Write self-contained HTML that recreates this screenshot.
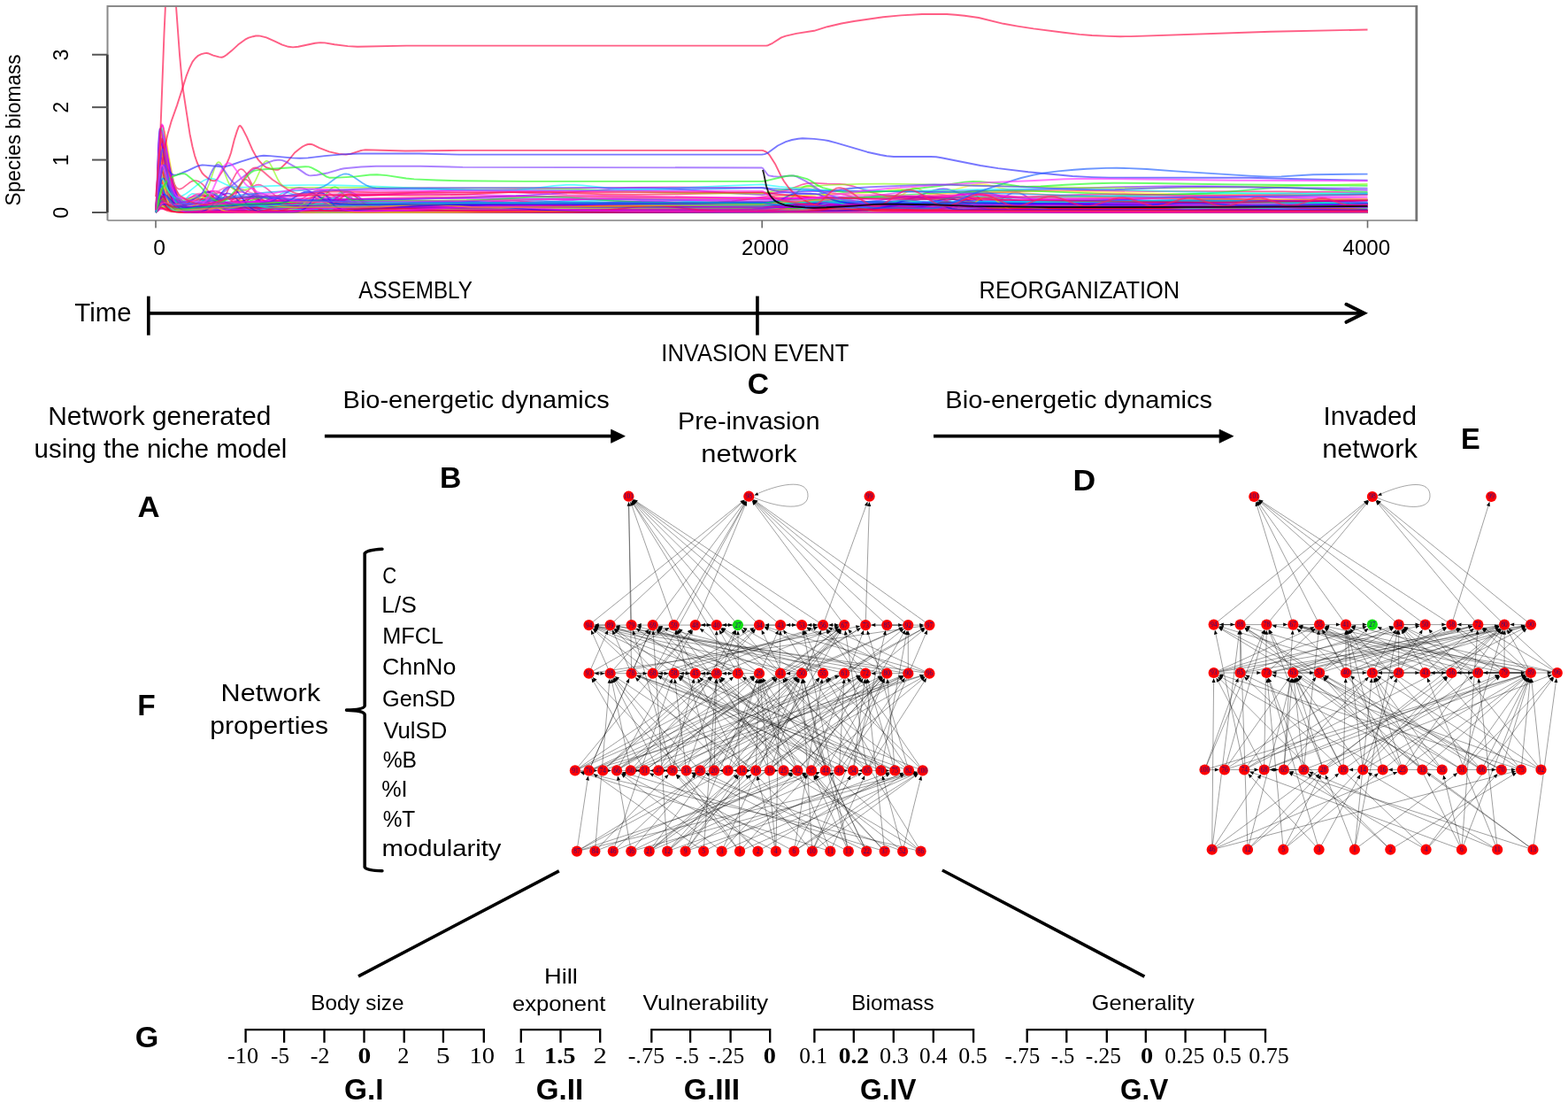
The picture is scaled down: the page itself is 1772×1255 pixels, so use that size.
<!DOCTYPE html><html><head><meta charset="utf-8"><title>Figure</title><style>html,body{margin:0;padding:0;background:#fff;overflow:hidden;}svg{display:block;}</style></head><body>
<svg width="1772" height="1255" viewBox="0 0 1772 1255">
<rect width="100%" height="100%" fill="#fff"/>
<defs><clipPath id="pc"><rect x="122.5" y="8" width="1477.5" height="240"/></clipPath></defs>
<g clip-path="url(#pc)" fill="none" stroke-width="1.7" stroke-opacity="0.6" stroke-linejoin="round">
<path stroke="#ff0055" d="M176.0 239.1L176.5 236.3L177.0 229.3L180.5 161.2L182.0 146.3L182.5 143.8L183.0 142.3L183.5 141.8L184.0 142.1L184.5 143.2L186.0 149.6L191.0 182.4L193.5 195.8L195.0 201.9L196.5 206.5L198.0 209.8L199.5 211.9L201.5 213.4L202.5 213.6L204.0 213.4L207.0 211.9L213.5 206.8L216.5 204.9L220.0 204.0L221.5 204.0L223.5 204.5L226.5 206.1L230.0 209.2L243.5 225.8L247.0 229.4L250.5 232.3L254.5 234.8L258.5 236.5L263.0 237.6L269.0 238.3L284.0 238.5L386.0 237.3L445.0 237.0L503.0 237.2L624.0 238.4L681.0 238.7L749.0 238.5L861.0 237.2L891.0 237.5L901.0 237.3L910.0 236.7L918.0 235.7L936.0 232.8L946.0 232.1L956.0 232.8L974.0 235.8L982.0 236.8L991.0 237.5L1002.0 237.8L1022.0 237.7L1040.0 237.1L1054.0 236.0L1078.0 233.5L1092.0 232.9L1106.0 233.4L1138.0 236.2L1160.0 236.9L1268.0 237.0L1452.0 238.0L1545.5 238.1"/>
<path stroke="#ff8900" d="M176.0 239.7L176.5 239.2L179.0 230.0L180.0 228.3L181.0 227.9L182.5 228.9L186.5 234.1L189.5 236.8L193.0 238.2L198.5 238.7L206.5 238.5L214.0 237.8L220.0 236.8L231.0 234.3L237.0 233.8L242.5 234.2L257.5 236.7L269.0 237.3L365.0 237.1L671.0 238.2L861.0 238.2L904.0 237.4L1016.0 236.3L1022.0 235.8L1026.0 235.0L1038.0 230.2L1042.0 229.6L1044.0 229.8L1052.0 231.5L1056.0 231.9L1070.0 231.6L1076.0 231.8L1104.0 234.9L1122.0 235.7L1248.0 235.8L1450.0 236.9L1545.5 237.1"/>
<path stroke="#ff0067" d="M176.0 239.7L176.5 239.4L177.0 238.3L180.5 226.2L182.0 223.5L183.5 222.6L184.5 222.8L186.0 224.0L191.5 230.9L194.0 233.5L196.0 235.2L198.5 236.8L201.5 238.0L205.0 238.8L209.5 239.3L216.0 239.5L383.0 239.4L445.0 239.0L488.0 237.9L557.0 234.8L585.0 234.3L612.0 234.6L674.0 236.9L710.0 237.7L752.0 238.0L867.0 238.1L875.0 237.9L882.0 237.2L888.0 236.2L902.0 232.9L906.0 232.4L910.0 232.2L916.0 232.6L934.0 234.9L955.0 237.0L967.0 237.8L980.0 238.1L1180.0 237.9L1545.5 238.9"/>
<path stroke="#ff003a" d="M176.0 239.7L177.0 239.0L179.5 233.8L181.0 231.4L182.0 230.4L183.5 229.8L184.5 229.8L186.0 230.4L193.5 235.6L198.5 237.9L201.5 238.7L205.0 239.2L214.0 239.5L220.5 239.1L226.0 238.1L230.5 236.5L239.5 232.3L243.5 231.1L248.0 231.0L255.5 232.5L258.5 232.7L262.0 231.7L268.0 228.9L270.0 228.6L272.0 229.0L274.0 230.1L281.0 236.0L284.0 237.9L288.0 239.1L295.0 239.5L627.0 239.0L657.0 238.4L706.0 236.4L727.0 236.0L749.0 236.4L790.0 238.5L809.0 239.2L835.0 239.6L867.0 239.7L881.0 239.4L893.0 238.7L905.0 237.5L931.0 234.2L939.0 233.7L946.0 233.5L960.0 234.2L986.0 237.4L997.0 238.4L1010.0 239.1L1024.0 239.4L1350.0 239.8L1545.5 239.8"/>
<path stroke="#ff00c6" d="M176.0 239.7L176.5 238.1L177.0 233.5L180.0 198.6L181.0 192.2L181.5 190.2L182.5 188.5L183.0 188.6L183.5 189.1L184.5 191.5L191.0 217.1L193.0 223.0L195.0 227.3L197.5 230.9L200.5 233.3L204.0 234.6L208.0 235.0L215.0 234.8L231.5 233.4L238.0 232.5L243.0 231.4L247.0 229.9L251.0 227.9L262.0 220.2L265.0 218.4L268.0 217.2L271.0 216.7L274.0 217.0L277.0 218.1L280.0 219.7L289.0 225.4L295.0 228.2L298.0 229.1L302.0 229.9L311.0 230.4L328.0 230.2L338.0 229.6L345.0 228.5L359.0 225.4L365.0 224.8L372.0 225.4L390.0 229.3L396.0 229.9L403.0 230.3L610.0 232.2L721.0 232.4L830.0 231.8L848.0 231.0L873.0 228.1L882.0 227.5L891.0 228.0L913.0 230.9L927.0 231.5L1000.0 231.5L1090.0 232.0L1106.0 231.5L1134.0 229.4L1146.0 229.0L1158.0 229.5L1192.0 232.7L1206.0 233.3L1222.0 233.5L1292.0 233.2L1452.0 231.4L1545.5 231.5"/>
<path stroke="#5a00ff" d="M176.0 239.7L176.5 236.1L177.0 226.9L179.5 170.4L180.5 157.6L181.0 154.0L181.5 152.0L182.0 151.4L182.5 152.0L183.0 153.7L184.0 159.3L190.0 206.8L192.0 217.8L194.0 225.6L196.5 231.9L198.0 234.3L199.5 236.1L201.5 237.6L203.5 238.6L206.0 239.2L209.0 239.5L290.0 239.8L315.0 239.6L319.0 238.8L322.0 237.3L325.0 234.9L333.0 226.8L335.0 225.5L337.0 225.0L339.0 225.4L341.0 226.5L350.0 235.5L352.0 237.0L355.0 238.6L358.0 239.5L361.0 239.7L374.0 239.6L378.0 238.8L381.0 237.0L384.0 234.1L391.0 225.0L393.0 223.4L395.0 222.8L397.0 223.4L399.0 225.1L406.0 233.8L409.0 236.5L411.0 237.7L413.0 238.4L418.0 239.0L428.0 238.7L467.0 236.7L488.0 236.2L508.0 236.6L556.0 238.7L584.0 239.2L841.0 239.3L853.0 239.0L863.0 238.4L873.0 237.2L894.0 234.2L906.0 233.4L918.0 234.1L940.0 237.3L950.0 238.4L961.0 239.0L974.0 239.3L1298.0 239.8L1545.5 239.4"/>
<path stroke="#ff0053" d="M176.0 239.7L176.5 237.5L177.0 231.5L180.5 173.4L182.0 160.7L182.5 158.6L183.0 157.3L183.5 156.9L184.0 157.2L184.5 158.2L185.5 161.6L193.0 204.2L195.0 212.7L197.5 220.7L200.5 226.9L202.0 229.0L204.0 231.0L206.0 232.4L208.0 233.2L210.5 233.9L214.0 234.3L221.5 234.2L248.5 233.1L253.5 232.4L257.0 231.2L259.0 229.9L261.0 228.1L264.0 224.2L267.0 218.7L272.0 208.6L274.0 205.4L276.0 203.3L277.0 202.8L278.0 202.7L280.0 203.7L282.0 206.0L291.0 222.9L293.0 225.8L295.0 228.1L297.0 229.6L300.0 231.0L303.0 231.7L308.0 232.0L450.0 230.9L570.0 230.7L688.0 231.1L866.0 232.6L925.0 232.0L1104.0 229.1L1214.0 228.3L1310.0 228.7L1545.5 230.9"/>
<path stroke="#00d1ff" d="M176.0 239.7L176.5 238.9L177.0 236.3L181.0 206.2L182.5 200.1L183.5 198.2L184.5 197.7L185.5 198.3L187.0 200.8L193.0 216.3L196.5 223.6L198.0 225.9L200.0 228.2L202.0 229.9L204.0 230.9L207.5 231.5L211.5 231.0L215.5 229.7L224.5 225.6L228.5 224.0L232.5 223.1L236.5 222.9L240.0 223.3L244.0 224.4L258.0 230.4L265.0 232.7L273.0 234.1L282.0 234.6L357.0 234.1L407.0 234.1L571.0 236.1L637.0 236.5L698.0 236.1L861.0 233.9L895.0 231.3L940.0 229.6L952.0 228.8L966.0 226.8L989.0 221.6L995.0 220.8L1000.0 220.5L1006.0 220.8L1012.0 221.7L1032.0 226.3L1040.0 227.8L1050.0 228.8L1062.0 229.3L1090.0 228.9L1172.0 226.4L1208.0 225.8L1256.0 226.0L1350.0 228.4L1394.0 228.9L1438.0 228.4L1545.5 225.7"/>
<path stroke="#ff00bd" d="M176.0 239.7L176.5 239.3L177.0 237.8L180.5 223.1L182.0 220.1L182.5 219.6L183.5 219.3L184.5 219.8L186.0 221.4L193.0 232.0L195.0 234.1L197.5 236.2L200.5 237.7L204.0 238.8L208.0 239.3L214.5 239.5L267.0 239.5L284.0 239.1L294.0 238.1L313.0 234.4L321.0 233.6L329.0 234.1L348.0 237.4L353.0 237.7L357.0 237.4L362.0 236.3L366.0 234.5L370.0 231.9L378.0 225.4L381.0 223.3L384.0 221.8L387.0 221.2L390.0 221.6L393.0 222.9L396.0 224.9L406.0 232.8L409.0 234.7L412.0 236.0L415.0 237.0L419.0 237.8L429.0 238.4L660.0 239.7L737.0 239.5L861.0 238.6L1190.0 239.7L1545.5 239.4"/>
<path stroke="#d700ff" d="M176.0 239.7L176.5 239.3L177.0 237.8L179.0 229.4L180.5 224.6L181.5 222.8L182.0 222.3L183.0 222.0L184.0 222.4L185.0 223.2L191.0 230.8L194.5 233.8L196.5 234.9L199.0 235.8L205.0 236.4L240.0 234.6L262.0 233.8L290.0 233.2L322.0 232.9L376.0 233.1L512.0 234.7L582.0 234.9L652.0 234.4L796.0 232.4L861.0 231.8L902.0 234.0L924.0 234.7L934.0 234.2L950.0 231.8L956.0 231.4L964.0 232.0L978.0 234.9L986.0 236.0L995.0 236.6L1010.0 236.9L1060.0 237.3L1208.0 237.5L1398.0 238.7L1464.0 238.7L1545.5 238.2"/>
<path stroke="#1100ff" d="M176.0 239.7L176.5 238.3L177.0 233.9L179.5 200.0L181.0 183.8L182.5 174.6L183.0 173.0L183.5 172.1L184.0 171.8L184.5 172.0L185.5 173.7L187.0 178.8L192.5 204.8L195.0 214.9L197.5 222.7L200.0 228.3L201.5 230.8L203.5 233.4L205.5 235.3L207.5 236.6L210.0 237.8L212.5 238.5L219.0 239.2L258.0 239.2L263.0 239.0L267.0 238.5L270.0 237.4L273.0 235.3L276.0 232.1L282.0 224.1L284.0 222.2L286.0 221.4L288.0 221.7L290.0 223.1L292.0 225.4L297.0 232.0L299.0 234.2L301.0 235.9L303.0 237.0L306.0 238.0L312.0 238.5L402.0 237.6L510.0 237.1L615.0 235.5L644.0 235.7L709.0 237.3L744.0 237.8L861.0 237.3L890.0 238.0L921.0 238.3L1024.0 238.0L1116.0 238.1L1152.0 237.7L1222.0 235.3L1254.0 234.9L1280.0 235.2L1342.0 237.0L1384.0 237.8L1480.0 238.8L1545.5 238.9"/>
<path stroke="#ff004e" d="M176.0 239.7L176.5 239.2L177.0 237.2L180.0 218.0L181.5 210.7L183.0 206.6L183.5 205.9L184.5 205.4L185.5 205.8L187.0 207.7L195.5 226.0L198.0 230.0L201.0 233.5L204.5 236.2L209.0 238.1L214.0 239.0L221.0 239.4L268.0 239.5L283.0 239.2L293.0 238.1L311.0 234.6L318.0 234.1L326.0 234.8L341.0 237.9L348.0 239.0L356.0 239.5L367.0 239.7L598.0 238.6L783.0 239.6L921.0 239.7L942.0 239.3L971.0 237.3L983.0 237.0L994.0 237.3L1024.0 239.2L1044.0 239.5L1124.0 239.4L1280.0 239.8L1442.0 239.4L1545.5 239.8"/>
<path stroke="#ff0077" d="M176.0 239.7L176.5 239.3L177.0 237.8L180.5 222.1L182.0 218.5L182.5 217.9L183.5 217.3L184.5 217.5L186.0 218.9L193.0 229.6L195.0 231.9L197.5 234.1L200.5 235.9L203.5 236.9L207.0 237.5L212.0 237.8L328.0 233.8L370.0 232.8L410.0 232.3L481.0 232.4L617.0 234.5L679.0 234.9L749.0 234.4L861.0 232.5L902.0 232.6L921.0 231.7L930.0 230.8L951.0 227.9L963.0 227.2L975.0 227.8L1004.0 231.4L1014.0 232.0L1024.0 232.2L1088.0 231.3L1098.0 230.6L1114.0 228.6L1120.0 228.3L1126.0 228.6L1144.0 230.6L1154.0 231.1L1324.0 233.3L1394.0 233.3L1545.5 231.3"/>
<path stroke="#2a00ff" d="M176.0 239.7L176.5 238.2L177.0 233.7L180.5 188.5L182.0 178.1L182.5 176.2L183.5 174.6L184.0 174.7L184.5 175.3L186.0 179.4L192.0 207.6L194.5 217.4L196.5 223.5L199.0 229.2L202.0 233.7L204.0 235.6L206.0 237.0L210.5 238.7L217.0 239.5L439.0 239.9L861.0 239.4L929.0 239.7L1112.0 239.5L1362.0 239.8L1545.5 239.7"/>
<path stroke="#00ffdb" d="M176.0 239.7L176.5 239.3L177.0 237.9L179.5 229.7L180.5 228.1L181.5 227.5L182.5 227.8L183.5 228.5L189.0 234.5L192.5 236.8L195.0 237.6L197.5 238.0L206.0 238.0L238.5 236.6L248.5 235.6L253.0 234.4L257.0 232.8L270.0 225.5L273.0 224.5L276.0 224.3L278.0 224.5L281.0 225.4L291.0 230.5L296.0 232.5L302.0 233.8L309.0 234.2L329.0 233.6L342.0 232.4L352.0 230.1L369.0 224.5L373.0 223.7L377.0 223.5L381.0 223.7L385.0 224.4L399.0 228.4L406.0 230.0L413.0 230.8L422.0 231.2L498.0 231.3L617.0 233.7L667.0 234.2L729.0 233.8L861.0 231.0L925.0 232.1L1016.0 232.8L1036.0 232.7L1050.0 232.0L1056.0 231.2L1062.0 230.0L1072.0 227.0L1088.0 220.7L1094.0 218.6L1100.0 217.3L1106.0 216.9L1112.0 217.5L1118.0 219.0L1124.0 221.3L1140.0 228.0L1150.0 231.1L1156.0 232.3L1162.0 233.2L1176.0 234.2L1236.0 235.0L1326.0 235.2L1398.0 234.9L1545.5 233.7"/>
<path stroke="#ffef00" d="M176.0 239.7L176.5 239.5L177.0 238.7L180.0 231.8L181.0 230.6L182.5 230.1L184.5 230.9L191.0 236.2L195.0 238.2L200.5 239.4L210.5 239.7L451.0 239.7L861.0 239.0L913.0 239.7L993.0 239.8L1006.0 239.5L1016.0 238.8L1024.0 237.7L1044.0 234.2L1054.0 233.5L1064.0 234.2L1082.0 237.2L1092.0 238.5L1100.0 239.1L1112.0 239.4L1310.0 239.8L1545.5 239.5"/>
<path stroke="#e200ff" d="M176.0 239.7L176.5 239.3L177.0 237.9L180.0 223.7L181.5 218.1L183.0 214.7L184.0 213.6L185.0 213.3L186.0 213.7L187.5 215.1L195.5 227.3L198.0 230.2L200.5 232.5L203.5 234.4L207.0 235.8L211.0 236.6L216.0 236.9L222.0 236.8L228.0 236.2L248.5 232.3L256.5 231.6L263.0 232.0L279.0 234.9L287.0 235.6L294.0 235.1L306.0 232.5L311.0 232.3L315.0 232.8L325.0 235.4L330.0 236.3L336.0 236.8L346.0 237.0L483.0 237.7L594.0 237.8L709.0 237.5L861.0 236.7L911.0 237.4L918.0 236.9L921.0 236.3L924.0 235.1L928.0 232.8L937.0 225.7L940.0 224.3L942.0 224.0L944.0 224.3L947.0 225.8L956.0 233.0L961.0 235.9L966.0 237.3L974.0 237.9L1066.0 238.4L1088.0 238.2L1102.0 236.9L1126.0 232.3L1132.0 231.6L1136.0 231.5L1140.0 231.6L1146.0 232.3L1166.0 236.5L1174.0 237.7L1184.0 238.7L1196.0 239.1L1350.0 239.6L1545.5 239.4"/>
<path stroke="#ff002c" d="M176.0 239.7L176.5 239.3L177.0 238.2L179.5 229.1L181.0 225.0L182.5 222.9L184.0 222.3L186.0 223.2L192.5 229.8L196.0 232.3L198.5 233.4L201.0 234.1L207.0 234.6L250.0 232.6L298.0 231.4L392.0 230.4L488.0 230.0L566.0 230.2L653.0 230.9L861.0 233.1L893.0 234.0L932.0 234.5L975.0 234.7L1018.0 234.4L1042.0 233.8L1058.0 232.5L1072.0 230.4L1098.0 224.7L1104.0 223.9L1110.0 223.6L1116.0 223.9L1122.0 224.9L1142.0 229.8L1150.0 231.3L1160.0 232.4L1170.0 232.8L1210.0 233.0L1236.0 232.8L1252.0 232.2L1282.0 230.4L1294.0 230.2L1310.0 230.8L1348.0 233.7L1376.0 234.6L1450.0 234.9L1545.5 233.9"/>
<path stroke="#ff0046" d="M176.0 239.7L177.0 239.0L180.0 232.8L181.5 230.5L183.0 229.2L184.5 228.9L186.0 229.3L187.5 230.1L195.5 235.7L200.0 237.7L206.5 238.9L217.0 239.4L231.0 239.3L241.0 238.8L248.5 237.9L263.0 235.6L271.0 235.0L279.0 235.6L299.0 238.3L307.0 238.8L317.0 239.0L500.0 239.0L861.0 239.7L993.0 239.3L1120.0 239.7L1128.0 239.3L1132.0 238.5L1136.0 236.9L1146.0 231.1L1148.0 230.5L1150.0 230.3L1152.0 230.6L1154.0 231.3L1162.0 236.0L1166.0 238.0L1170.0 239.2L1176.0 239.7L1378.0 239.3L1545.5 239.7"/>
<path stroke="#ff4200" d="M176.0 239.7L177.0 239.0L180.5 233.4L182.5 232.1L185.0 232.2L190.5 234.5L193.5 235.2L196.5 235.4L200.0 234.9L203.5 233.9L207.5 232.0L219.0 225.0L223.0 222.9L227.0 221.4L231.0 220.9L234.5 221.2L238.5 222.4L252.5 229.5L259.5 232.1L267.0 233.6L277.0 234.1L404.0 232.0L716.0 228.8L889.0 227.9L1002.0 228.4L1014.0 228.0L1024.0 227.3L1034.0 226.1L1058.0 222.5L1066.0 221.7L1074.0 221.5L1086.0 221.9L1114.0 223.8L1160.0 228.0L1174.0 228.7L1188.0 228.9L1254.0 228.7L1458.0 226.5L1545.5 226.1"/>
<path stroke="#7900ff" d="M176.0 239.7L176.5 239.0L177.0 236.7L179.0 224.7L180.0 220.4L181.0 217.9L182.0 217.1L183.0 217.5L184.0 218.7L189.5 229.3L191.0 231.5L193.0 233.8L195.0 235.3L197.5 236.5L200.5 237.2L204.5 237.4L246.0 235.5L253.5 234.9L259.0 234.0L264.0 232.6L269.0 230.5L274.0 227.7L282.0 222.5L286.0 220.4L290.0 219.0L293.0 218.6L296.0 218.8L300.0 220.0L304.0 222.0L316.0 229.0L320.0 230.7L325.0 232.2L331.0 233.2L339.0 233.7L351.0 233.7L359.0 233.1L365.0 232.0L370.0 230.0L375.0 227.0L386.0 218.8L390.0 216.9L393.0 216.3L396.0 216.7L400.0 218.5L412.0 227.4L416.0 229.8L419.0 231.1L423.0 232.4L427.0 233.1L439.0 233.7L682.0 235.5L788.0 235.9L861.0 235.9L904.0 235.0L953.0 234.6L1100.0 234.9L1110.0 234.2L1114.0 233.5L1118.0 232.4L1122.0 230.8L1126.0 228.6L1140.0 219.7L1144.0 218.0L1148.0 217.5L1152.0 218.0L1156.0 219.6L1160.0 222.0L1170.0 228.7L1176.0 231.7L1180.0 233.1L1184.0 234.1L1194.0 235.1L1210.0 235.4L1272.0 235.2L1464.0 233.8L1545.5 233.5"/>
<path stroke="#ff00f6" d="M176.0 239.7L176.5 238.3L177.0 234.2L180.5 193.5L182.0 184.0L182.5 182.2L183.5 180.6L184.0 180.6L184.5 181.1L186.0 184.5L193.0 212.4L195.5 220.0L198.0 225.6L201.0 229.9L202.5 231.4L204.5 232.8L208.5 234.4L214.0 235.0L252.5 233.7L281.0 233.2L419.0 232.9L475.0 232.1L519.0 230.3L593.0 225.5L609.0 224.9L625.0 224.6L654.0 225.1L712.0 227.5L744.0 228.5L861.0 229.6L881.0 230.0L904.0 229.5L937.0 227.1L950.0 226.6L964.0 227.1L999.0 230.1L1022.0 230.8L1048.0 230.7L1142.0 229.2L1192.0 228.9L1252.0 229.2L1366.0 231.0L1418.0 231.5L1476.0 231.4L1545.5 230.4"/>
<path stroke="#4900ff" d="M176.0 239.7L176.5 236.8L177.0 229.4L179.5 184.9L180.5 175.5L181.0 172.9L181.5 171.6L182.0 171.4L183.0 173.8L184.0 178.6L189.5 213.1L191.5 221.9L193.5 228.1L196.0 232.9L197.5 234.8L199.0 236.1L202.5 237.7L208.0 238.4L277.0 237.0L341.0 236.4L651.0 237.1L747.0 236.8L861.0 236.0L928.0 232.1L1000.0 228.9L1016.0 227.7L1042.0 225.0L1056.0 224.3L1070.0 224.7L1102.0 227.6L1122.0 228.6L1152.0 229.2L1216.0 229.7L1298.0 229.4L1466.0 226.5L1545.5 226.0"/>
<path stroke="#ff0057" d="M176.0 239.7L176.5 239.1L177.0 236.9L179.5 220.2L181.0 212.2L182.0 208.8L183.5 206.3L184.0 206.1L185.0 206.5L186.5 208.3L193.0 222.1L196.0 227.2L199.0 230.7L202.5 233.2L207.0 234.7L213.0 235.1L225.0 234.4L237.5 233.0L241.5 232.1L245.0 230.7L248.0 228.7L251.0 225.7L253.5 222.3L256.0 218.1L264.0 201.1L267.0 195.6L270.0 192.1L272.0 191.1L273.0 191.1L275.0 192.0L278.0 195.5L281.0 200.8L289.0 216.5L292.0 221.0L294.0 223.2L297.0 225.7L300.0 227.1L304.0 228.1L308.0 228.3L373.0 225.7L424.0 224.1L483.0 222.9L546.0 222.1L613.0 221.9L684.0 222.2L761.0 223.0L861.0 224.4L986.0 223.0L1022.0 222.3L1052.0 221.4L1082.0 220.0L1152.0 216.1L1174.0 215.3L1194.0 215.0L1220.0 215.1L1304.0 216.2L1450.0 216.3L1545.5 217.5"/>
<path stroke="#ff1700" d="M176.0 239.7L176.5 238.7L177.0 235.4L180.0 202.6L181.5 189.4L183.0 181.3L184.0 178.7L185.0 177.9L185.5 178.1L186.5 179.4L188.0 183.3L194.0 206.0L197.0 215.9L199.5 222.3L202.5 227.9L206.0 232.2L208.0 233.9L210.5 235.3L215.5 236.9L222.5 237.6L277.0 237.1L284.0 236.8L289.0 236.3L293.0 235.5L297.0 234.1L301.0 232.0L311.0 225.2L314.0 223.8L317.0 223.3L320.0 223.6L323.0 224.8L334.0 232.0L337.0 233.7L340.0 234.9L343.0 235.7L347.0 236.4L357.0 236.9L644.0 238.4L746.0 238.4L861.0 237.8L918.0 238.3L975.0 238.3L988.0 238.2L996.0 237.7L1002.0 236.9L1012.0 235.0L1018.0 234.3L1024.0 234.6L1036.0 236.8L1042.0 237.5L1056.0 237.9L1116.0 237.1L1204.0 234.6L1238.0 234.1L1272.0 234.6L1350.0 237.5L1392.0 238.4L1448.0 238.7L1545.5 238.2"/>
<path stroke="#00c4ff" d="M176.0 239.7L176.5 238.0L179.0 213.2L180.0 208.0L180.5 206.8L181.0 206.4L181.5 206.6L182.5 208.7L188.0 227.8L189.5 231.3L191.0 233.9L193.0 236.2L195.5 237.8L198.5 238.6L203.0 238.9L280.0 237.8L291.0 237.2L297.0 235.6L302.0 233.0L306.0 229.7L315.0 220.8L318.0 218.7L320.0 217.8L322.0 217.4L324.0 217.4L326.0 217.8L332.0 219.8L335.0 220.2L338.0 219.8L344.0 217.7L347.0 217.3L350.0 218.0L353.0 220.1L362.0 230.1L365.0 232.8L367.0 234.1L370.0 235.5L373.0 236.4L381.0 237.0L460.0 236.3L494.0 235.7L514.0 234.6L546.0 231.5L559.0 231.0L572.0 231.4L604.0 233.7L623.0 234.2L747.0 233.8L864.0 234.2L869.0 233.9L874.0 233.3L887.0 229.8L890.0 229.2L893.0 229.0L896.0 229.3L899.0 229.9L913.0 234.3L918.0 235.2L923.0 235.7L955.0 236.6L1030.0 238.1L1112.0 238.8L1268.0 238.4L1442.0 239.4L1545.5 239.1"/>
<path stroke="#10ff00" d="M176.0 239.7L177.0 239.3L181.0 234.9L182.5 234.1L184.0 233.7L186.5 234.0L193.0 236.1L197.0 237.1L201.5 237.7L206.5 237.9L258.5 236.3L301.0 235.5L445.0 235.1L482.0 234.0L541.0 230.0L565.0 229.2L577.0 229.4L590.0 230.0L634.0 233.3L652.0 234.3L670.0 235.0L690.0 235.4L741.0 235.4L861.0 234.3L902.0 236.3L955.0 237.6L1034.0 238.7L1128.0 239.4L1242.0 239.6L1446.0 239.0L1545.5 239.1"/>
<path stroke="#ff0073" d="M176.0 239.7L176.5 236.8L179.5 191.1L180.5 184.0L181.0 182.4L181.5 181.8L182.0 182.3L183.0 185.2L187.5 209.4L189.0 216.1L190.5 221.3L192.0 225.0L194.0 228.3L196.0 230.0L198.5 230.8L201.0 230.5L204.5 229.3L215.0 223.2L219.0 221.2L222.5 220.2L225.5 220.0L228.5 220.3L232.0 221.4L243.5 226.9L249.5 229.1L256.5 230.4L265.0 230.9L288.0 230.7L296.0 230.3L301.0 229.6L310.0 227.2L313.0 226.9L317.0 227.3L327.0 229.6L335.0 230.2L415.0 229.9L492.0 230.3L733.0 233.0L801.0 233.4L861.0 233.4L879.0 234.4L895.0 234.7L912.0 234.3L947.0 232.3L974.0 230.0L982.0 229.7L988.0 230.0L994.0 230.8L1012.0 234.8L1022.0 236.4L1032.0 237.3L1048.0 237.8L1144.0 238.4L1242.0 238.6L1545.5 237.5"/>
<path stroke="#ff0086" d="M176.0 239.7L177.0 239.1L179.0 236.6L181.0 235.7L182.5 235.8L188.5 237.1L193.5 237.1L217.0 235.2L221.0 234.7L224.5 233.8L228.0 232.4L231.5 230.2L234.5 227.6L241.0 221.2L243.5 219.2L246.0 217.9L248.0 217.6L250.5 218.1L253.0 219.4L262.0 227.5L267.0 231.0L270.0 232.2L273.0 232.9L281.0 233.5L425.0 232.5L484.0 231.7L507.0 230.5L546.0 226.0L554.0 225.4L562.0 225.2L576.0 225.8L612.0 229.5L636.0 230.4L767.0 230.4L861.0 230.8L889.0 232.9L911.0 234.0L919.0 233.6L930.0 231.3L935.0 230.9L940.0 231.6L952.0 234.9L959.0 235.8L973.0 236.3L1014.0 237.0L1186.0 238.8L1274.0 239.3L1352.0 239.3L1545.5 238.7"/>
<path stroke="#ff0020" d="M176.0 239.7L176.5 238.3L177.0 234.2L180.0 202.5L181.0 196.6L181.5 194.9L182.5 193.3L183.0 193.4L183.5 193.9L185.0 197.7L189.5 215.2L192.0 223.3L194.0 228.3L196.0 231.8L199.0 235.3L202.0 237.2L206.0 238.4L212.0 238.9L356.0 238.3L685.0 239.5L984.0 239.2L1002.0 238.9L1016.0 238.3L1028.0 237.2L1050.0 234.5L1062.0 233.8L1074.0 234.3L1106.0 237.8L1128.0 238.6L1312.0 238.5L1545.5 239.2"/>
<path stroke="#8a00ff" d="M176.0 239.7L176.5 238.2L177.0 233.9L180.0 191.7L181.5 174.9L183.0 164.7L184.0 161.4L184.5 160.6L185.0 160.4L186.0 161.3L187.5 165.4L196.0 203.9L198.5 212.5L201.5 220.1L203.0 222.9L205.0 225.8L208.5 229.2L210.5 230.4L213.0 231.3L219.0 232.3L227.0 232.2L269.0 229.7L323.0 227.2L359.0 225.9L391.0 225.3L419.0 225.2L448.0 225.5L549.0 228.7L585.0 229.1L615.0 228.3L669.0 224.7L693.0 223.8L713.0 223.8L763.0 224.7L824.0 224.8L872.0 225.5L899.0 225.6L930.0 225.0L1012.0 222.7L1080.0 222.4L1120.0 220.8L1136.0 221.4L1164.0 224.3L1176.0 225.2L1202.0 226.1L1224.0 226.1L1250.0 225.8L1346.0 222.9L1390.0 222.3L1434.0 222.8L1512.0 225.3L1545.5 226.0"/>
<path stroke="#ff0002" d="M176.0 239.7L176.5 237.7L177.0 231.9L179.5 190.6L180.5 178.1L181.5 169.9L182.0 167.3L183.0 165.0L183.5 165.0L184.0 165.7L185.5 170.9L192.5 209.9L195.0 220.0L197.5 227.1L200.5 232.6L202.0 234.5L204.0 236.2L206.0 237.4L208.5 238.4L211.5 239.0L215.0 239.4L230.0 239.5L237.0 238.9L239.5 238.1L242.0 237.0L250.5 231.2L254.5 229.3L257.5 228.7L273.0 226.9L276.0 227.1L280.0 228.3L283.0 229.7L293.0 235.3L300.0 238.0L307.0 239.2L317.0 239.6L683.0 238.7L795.0 238.8L916.0 239.4L1028.0 239.3L1038.0 239.0L1044.0 238.3L1050.0 237.0L1058.0 234.6L1064.0 233.6L1070.0 234.2L1080.0 237.1L1086.0 238.3L1092.0 238.9L1098.0 239.1L1545.5 239.7"/>
<path stroke="#00ff02" d="M176.0 239.7L176.5 239.0L177.0 236.8L180.0 214.6L181.5 206.2L183.0 201.3L183.5 200.5L184.5 199.7L185.5 200.1L187.0 202.2L195.0 221.6L197.5 226.3L200.5 230.5L204.0 233.6L207.5 235.4L212.0 236.6L218.0 237.1L284.0 235.6L343.0 234.7L425.0 234.0L510.0 233.7L640.0 234.1L861.0 235.7L1114.0 237.2L1220.0 237.0L1438.0 235.9L1545.5 235.9"/>
<path stroke="#ff00e6" d="M176.0 239.7L177.5 239.2L181.5 236.1L184.5 235.4L187.5 235.8L197.5 238.4L207.0 239.2L262.0 239.0L279.0 238.5L285.0 237.9L291.0 236.8L297.0 235.2L310.0 230.8L314.0 229.9L318.0 229.6L322.0 229.8L326.0 230.6L339.0 234.8L344.0 236.2L348.0 236.8L351.0 236.8L354.0 236.3L357.0 235.2L367.0 228.8L369.0 228.0L371.0 227.7L373.0 228.0L375.0 228.7L384.0 234.8L389.0 237.2L394.0 238.2L402.0 238.5L758.0 239.5L948.0 239.5L968.0 238.9L999.0 236.4L1026.0 235.7L1034.0 235.0L1052.0 232.6L1062.0 232.1L1068.0 232.3L1074.0 233.0L1100.0 237.1L1108.0 237.8L1118.0 238.2L1140.0 237.7L1180.0 234.9L1198.0 234.3L1216.0 234.9L1262.0 238.3L1292.0 239.2L1384.0 239.4L1545.5 238.7"/>
<path stroke="#ff00b8" d="M176.0 239.7L176.5 239.4L177.0 238.4L181.0 226.4L182.5 223.8L184.0 222.6L185.5 222.5L187.0 223.2L194.0 228.8L198.0 231.0L202.5 232.1L207.0 232.1L211.5 231.1L216.0 229.3L221.0 226.4L230.0 219.9L233.5 217.7L237.5 216.0L241.0 215.5L244.5 215.9L248.0 217.1L261.0 224.6L267.0 227.1L274.0 228.7L283.0 229.2L365.0 229.2L556.0 231.0L655.0 231.6L755.0 231.6L861.0 230.9L898.0 232.9L918.0 233.4L926.0 233.2L932.0 232.6L938.0 231.4L950.0 228.4L954.0 227.8L957.0 227.7L963.0 228.3L987.0 232.9L1004.0 235.4L1018.0 236.5L1040.0 237.2L1106.0 238.0L1188.0 238.4L1545.5 238.6"/>
<path stroke="#bc00ff" d="M176.0 239.7L176.5 238.2L179.5 211.9L180.5 208.1L181.0 207.4L181.5 207.3L182.0 207.7L183.0 209.8L188.5 227.1L190.0 230.4L191.5 232.8L193.5 235.0L196.0 236.5L199.0 237.3L202.5 237.6L261.0 235.1L326.0 233.8L580.0 232.8L861.0 229.9L912.0 230.0L919.0 229.7L925.0 228.9L930.0 227.6L942.0 223.6L945.0 223.0L948.0 222.8L953.0 223.4L967.0 227.8L975.0 229.3L986.0 229.7L1012.0 229.2L1050.0 228.3L1064.0 227.4L1070.0 226.5L1074.0 225.5L1092.0 219.3L1096.0 218.4L1100.0 218.0L1104.0 218.2L1108.0 218.9L1122.0 223.5L1130.0 225.5L1138.0 226.5L1148.0 226.9L1200.0 227.6L1296.0 229.6L1344.0 230.0L1390.0 229.6L1496.0 227.4L1545.5 227.0"/>
<path stroke="#ff0054" d="M176.0 239.7L177.0 239.1L180.0 235.2L182.0 234.4L184.0 234.7L191.0 237.0L198.0 237.6L239.0 236.7L329.0 235.9L342.0 235.5L348.0 234.8L353.0 233.8L359.0 232.0L372.0 226.9L376.0 226.0L379.0 225.8L382.0 226.1L386.0 226.9L400.0 232.3L407.0 234.3L416.0 235.5L428.0 235.8L736.0 237.8L841.0 237.7L919.0 237.0L1048.0 237.4L1062.0 237.1L1072.0 236.5L1082.0 235.2L1100.0 232.0L1110.0 231.2L1120.0 231.9L1144.0 235.7L1152.0 236.4L1162.0 236.7L1314.0 236.0L1484.0 237.2L1545.5 237.4"/>
<path stroke="#ff0012" d="M176.0 239.6L177.0 238.7L180.0 231.0L181.5 227.8L183.0 225.8L184.5 224.9L186.0 224.9L187.5 225.5L193.0 229.0L195.5 230.3L198.0 231.1L200.5 231.3L203.0 231.0L206.0 230.1L218.0 225.1L221.0 224.4L223.5 224.2L227.5 224.7L231.5 226.0L246.0 233.9L252.5 236.6L259.5 238.3L268.0 239.0L278.0 238.6L287.0 237.1L295.0 234.5L308.0 228.6L312.0 227.1L317.0 225.9L321.0 225.6L325.0 226.0L330.0 227.4L346.0 234.3L354.0 236.8L359.0 237.8L364.0 238.5L377.0 239.0L861.0 239.8L896.0 237.3L932.0 236.1L981.0 235.7L1068.0 235.9L1074.0 235.5L1078.0 234.6L1080.0 233.9L1082.0 232.8L1086.0 229.7L1094.0 221.9L1096.0 220.5L1098.0 219.7L1100.0 219.6L1102.0 220.2L1104.0 221.5L1114.0 231.1L1118.0 233.8L1120.0 234.7L1124.0 235.7L1130.0 236.3L1198.0 236.6L1286.0 236.6L1545.5 235.3"/>
<path stroke="#ff00a6" d="M176.0 239.7L176.5 238.9L177.0 236.3L179.0 222.8L180.0 217.9L181.0 215.2L182.0 214.3L183.0 214.9L184.0 216.4L189.0 228.0L191.5 232.4L194.0 235.4L197.0 237.4L200.0 238.1L203.5 237.5L206.5 235.8L213.5 230.3L215.5 229.5L217.0 229.4L218.5 229.7L220.5 230.8L227.0 236.1L230.0 238.0L234.0 239.2L239.5 239.6L772.0 238.4L950.0 238.5L1102.0 239.2L1112.0 239.0L1120.0 238.4L1140.0 235.2L1148.0 234.6L1156.0 235.3L1176.0 238.5L1184.0 239.0L1192.0 239.2L1362.0 238.6L1545.5 239.4"/>
<path stroke="#ff006a" d="M176.0 239.7L176.5 237.8L177.0 232.3L179.5 190.2L181.0 170.7L182.5 160.2L183.0 158.5L183.5 157.7L184.0 157.6L185.0 159.1L186.5 164.9L192.0 196.8L194.5 209.1L196.5 216.9L199.0 224.2L202.0 230.0L204.0 232.6L206.0 234.4L208.0 235.6L210.5 236.6L213.5 237.2L217.0 237.6L226.5 237.7L279.0 236.3L346.0 235.1L358.0 234.6L365.0 233.8L371.0 232.6L377.0 230.7L390.0 225.9L394.0 225.0L398.0 224.6L402.0 224.8L406.0 225.6L420.0 230.5L427.0 232.3L435.0 233.4L444.0 233.8L712.0 231.1L861.0 230.2L876.0 232.5L887.0 233.1L895.0 232.7L913.0 230.6L926.0 230.1L933.0 230.4L939.0 231.3L957.0 236.3L965.0 238.0L975.0 238.9L989.0 239.4L1060.0 239.7L1278.0 239.4L1545.5 239.8"/>
<path stroke="#8400ff" d="M176.0 239.7L176.5 239.4L177.0 238.3L179.0 232.0L180.0 229.8L181.0 228.6L182.0 228.1L183.0 228.4L184.0 229.1L189.0 234.4L192.0 236.7L195.5 238.3L199.5 239.1L209.0 239.5L252.5 239.3L264.0 239.0L271.0 238.4L276.0 237.3L280.0 235.4L284.0 232.3L292.0 224.3L295.0 222.6L297.0 222.3L299.0 222.6L301.0 223.4L308.0 227.3L312.0 229.0L335.0 236.3L341.0 237.6L347.0 238.4L362.0 239.1L779.0 239.8L1328.0 239.2L1378.0 238.7L1434.0 236.5L1454.0 236.1L1474.0 236.5L1518.0 238.5L1545.5 239.2"/>
<path stroke="#ff008f" d="M176.0 239.7L176.5 239.1L179.0 229.5L180.0 227.5L181.0 226.8L182.5 227.5L186.5 232.6L188.5 234.6L191.0 236.2L193.5 236.9L198.5 237.3L209.5 236.6L216.5 235.8L220.5 234.8L223.5 233.2L226.0 231.1L228.5 228.2L235.5 218.3L237.5 216.5L239.5 215.9L241.5 216.5L243.5 218.1L250.5 227.5L252.5 229.7L254.5 231.4L256.5 232.5L259.0 233.4L265.0 234.0L327.0 233.2L339.0 232.8L348.0 231.5L361.0 227.6L367.0 226.7L373.0 227.4L387.0 230.8L392.0 231.4L397.0 231.7L509.0 228.6L569.0 228.0L625.0 228.6L743.0 231.6L798.0 232.0L841.0 231.6L872.0 230.6L890.0 229.3L919.0 226.0L931.0 225.5L944.0 226.2L976.0 229.9L996.0 231.0L1068.0 231.8L1150.0 232.0L1244.0 231.3L1304.0 230.2L1318.0 229.6L1330.0 228.7L1368.0 224.5L1384.0 223.9L1398.0 224.4L1432.0 227.7L1452.0 228.9L1474.0 229.4L1545.5 230.0"/>
<path stroke="#ff0a00" d="M176.0 239.7L176.5 238.9L179.0 225.9L180.0 223.2L181.0 222.5L181.5 222.7L182.5 223.8L188.0 234.0L191.0 237.2L193.0 238.4L195.5 239.2L203.0 239.7L240.0 239.7L246.5 239.4L251.0 238.8L255.5 237.7L260.0 235.9L273.0 228.5L278.0 226.1L282.0 225.0L287.0 224.5L292.0 225.0L298.0 226.6L303.0 228.6L317.0 235.0L325.0 237.7L334.0 239.2L346.0 239.7L705.0 238.8L886.0 239.0L899.0 238.6L910.0 237.9L941.0 234.4L953.0 233.4L977.0 232.0L988.0 231.7L996.0 231.9L1004.0 232.6L1026.0 236.2L1036.0 237.6L1044.0 238.2L1054.0 238.5L1066.0 238.4L1080.0 237.9L1128.0 234.2L1148.0 233.5L1168.0 234.2L1216.0 238.2L1230.0 238.8L1248.0 239.3L1374.0 239.7L1545.5 239.2"/>
<path stroke="#ff008a" d="M176.0 239.7L176.5 238.1L177.0 233.6L180.0 190.2L181.5 174.1L183.0 165.2L183.5 163.8L184.0 162.9L184.5 162.7L185.5 163.7L187.0 168.1L195.0 206.0L197.5 214.8L200.0 221.4L201.5 224.4L203.5 227.5L205.0 229.2L207.0 230.9L209.0 232.1L211.5 233.1L217.0 233.9L225.0 233.8L266.0 231.5L316.0 230.1L326.0 229.4L332.0 228.2L337.0 226.5L342.0 224.1L351.0 218.4L355.0 216.2L359.0 214.9L362.0 214.6L365.0 214.9L369.0 216.4L383.0 224.7L387.0 226.6L390.0 227.6L394.0 228.6L398.0 229.2L411.0 229.8L611.0 232.0L688.0 232.5L782.0 232.6L869.0 232.0L888.0 231.3L901.0 229.7L912.0 227.0L933.0 220.2L939.0 219.0L944.0 218.7L949.0 218.9L954.0 219.8L960.0 221.5L978.0 227.3L985.0 228.9L991.0 229.6L999.0 229.8L1008.0 228.7L1016.0 226.9L1034.0 222.0L1040.0 221.1L1044.0 220.9L1050.0 221.4L1056.0 222.6L1076.0 228.7L1086.0 230.9L1098.0 232.4L1112.0 233.0L1158.0 233.4L1214.0 233.3L1368.0 231.5L1424.0 231.2L1480.0 231.3L1545.5 231.9"/>
<path stroke="#3400ff" d="M176.0 239.7L176.5 239.3L177.0 238.1L180.5 226.2L182.0 223.3L183.5 222.1L184.5 222.0L186.0 222.7L192.5 228.6L196.0 230.9L200.0 232.2L204.5 232.3L208.5 231.4L212.5 229.6L217.0 226.7L227.5 218.7L231.0 217.0L234.0 216.6L237.0 217.0L240.0 218.3L251.0 225.9L255.5 228.4L260.0 230.0L266.0 231.0L275.0 231.4L419.0 233.5L461.0 233.7L502.0 233.4L640.0 230.7L699.0 230.2L765.0 230.6L861.0 232.6L875.0 231.1L894.0 230.1L953.0 228.4L1002.0 227.5L1014.0 226.8L1022.0 225.9L1028.0 224.6L1036.0 222.2L1050.0 216.8L1056.0 214.8L1062.0 213.6L1066.0 213.4L1070.0 213.7L1076.0 215.1L1082.0 217.4L1098.0 224.2L1108.0 227.3L1114.0 228.4L1120.0 229.2L1134.0 230.0L1164.0 230.4L1200.0 230.1L1282.0 228.0L1344.0 226.8L1390.0 225.3L1406.0 225.1L1432.0 225.7L1474.0 228.5L1494.0 229.5L1518.0 229.8L1545.5 229.4"/>
<path stroke="#5600ff" d="M176.0 239.7L176.5 236.3L177.0 227.9L179.5 177.9L180.5 167.3L181.0 164.4L181.5 162.9L182.0 162.7L183.0 165.2L184.0 170.4L189.5 207.9L191.0 215.2L193.0 222.4L195.5 228.1L198.0 231.2L199.5 232.4L201.5 233.2L206.0 233.9L242.5 232.8L304.0 232.7L317.0 232.4L328.0 231.4L348.0 227.6L353.0 226.9L357.0 226.7L365.0 227.4L381.0 230.5L388.0 231.5L397.0 232.2L408.0 232.4L612.0 230.1L688.0 229.6L767.0 229.5L861.0 230.1L937.0 230.2L1030.0 229.6L1048.0 228.8L1060.0 227.1L1070.0 224.5L1092.0 216.8L1098.0 215.5L1104.0 215.1L1108.0 215.4L1114.0 216.5L1120.0 218.2L1134.0 223.0L1144.0 225.6L1154.0 227.0L1164.0 227.6L1186.0 227.6L1230.0 226.9L1260.0 226.0L1318.0 223.5L1348.0 223.1L1378.0 224.0L1436.0 227.5L1466.0 228.9L1502.0 229.8L1545.5 230.3"/>
<path stroke="#b800ff" d="M176.0 239.7L176.5 236.5L179.0 196.7L179.5 192.5L180.0 190.0L180.5 189.0L181.0 189.3L182.0 192.6L187.0 221.5L188.5 227.5L190.0 231.8L192.0 235.4L194.5 237.9L197.5 239.1L202.0 239.5L269.0 239.5L278.0 239.3L284.0 238.8L290.0 237.8L295.0 236.4L300.0 234.5L314.0 227.8L318.0 226.6L322.0 226.1L326.0 226.4L330.0 227.6L334.0 229.3L345.0 234.7L353.0 237.5L357.0 238.3L362.0 239.0L375.0 239.5L513.0 239.7L551.0 239.5L572.0 238.7L615.0 235.5L634.0 234.9L654.0 235.5L700.0 239.1L714.0 239.6L732.0 239.8L1156.0 239.9L1545.5 239.5"/>
<path stroke="#b600ff" d="M176.0 239.7L176.5 238.5L177.0 235.0L179.5 215.5L180.5 211.7L181.0 210.9L181.5 210.6L182.0 210.7L183.0 212.2L188.5 227.3L190.0 230.5L192.0 233.6L194.0 235.6L196.5 237.1L199.5 237.9L204.0 238.3L265.0 236.7L328.0 235.7L414.0 235.1L518.0 234.9L658.0 235.2L861.0 236.3L891.0 237.4L931.0 238.2L1114.0 239.5L1222.0 239.5L1336.0 238.9L1374.0 238.3L1436.0 236.4L1462.0 236.0L1492.0 236.4L1545.5 238.4"/>
<path stroke="#fa00ff" d="M176.0 239.7L176.5 237.9L177.0 233.2L179.5 198.1L181.0 181.6L182.5 172.3L183.0 170.7L183.5 169.8L184.0 169.4L185.0 170.2L186.5 174.2L193.0 201.9L195.0 208.8L197.0 214.2L199.5 218.9L202.0 221.9L205.0 223.8L208.0 224.3L211.5 224.0L220.0 221.9L224.5 221.5L229.5 221.9L242.5 224.4L251.0 224.9L307.0 223.6L327.0 222.9L335.0 222.2L342.0 221.2L349.0 219.6L364.0 215.6L369.0 214.7L374.0 214.4L382.0 215.2L402.0 219.2L414.0 220.2L485.0 219.5L535.0 219.9L584.0 221.1L695.0 224.6L753.0 225.7L788.0 225.8L824.0 225.4L920.0 222.8L976.0 221.8L993.0 220.7L1022.0 216.7L1034.0 216.0L1040.0 216.1L1048.0 216.9L1074.0 221.6L1088.0 223.4L1104.0 224.5L1126.0 225.1L1166.0 225.4L1206.0 225.1L1336.0 222.0L1390.0 221.3L1450.0 221.9L1545.5 224.4"/>
<path stroke="#3900ff" d="M176.0 239.7L176.5 239.4L177.0 238.2L180.0 229.0L181.0 227.4L182.5 226.5L183.5 226.7L184.5 227.4L190.5 233.7L194.0 236.2L198.5 237.8L205.0 238.3L210.5 238.0L215.0 237.1L218.5 235.8L226.5 231.9L229.0 231.2L231.0 231.0L234.5 231.6L242.5 234.4L246.5 234.9L251.5 234.3L263.0 231.1L266.0 230.7L269.0 230.8L274.0 231.7L284.0 234.6L289.0 235.7L296.0 236.4L305.0 236.7L535.0 236.1L773.0 233.8L861.0 233.3L891.0 231.6L925.0 230.6L957.0 230.2L1028.0 230.1L1040.0 229.8L1046.0 229.4L1052.0 228.5L1058.0 227.2L1070.0 223.9L1074.0 223.2L1078.0 223.0L1082.0 223.3L1086.0 224.0L1098.0 227.2L1104.0 228.4L1112.0 229.3L1120.0 229.5L1162.0 229.0L1290.0 226.6L1354.0 226.0L1430.0 226.4L1545.5 228.3"/>
<path stroke="#ff0068" d="M176.0 239.7L176.5 237.8L177.0 232.6L179.0 206.1L180.0 196.7L181.0 191.3L181.5 190.0L182.0 189.5L182.5 189.7L183.0 190.5L184.0 193.3L189.5 217.1L191.5 223.6L193.5 228.3L196.0 232.0L198.5 234.1L201.5 235.4L205.5 235.8L211.5 235.6L243.5 233.2L266.0 231.9L294.0 230.9L325.0 230.3L381.0 230.3L516.0 232.0L586.0 232.2L663.0 231.5L791.0 229.0L812.0 228.3L827.0 227.4L843.0 225.5L862.0 222.3L880.0 220.6L891.0 220.2L900.0 220.7L908.0 222.0L916.0 224.0L936.0 229.8L943.0 231.4L950.0 232.6L967.0 234.3L993.0 235.3L1064.0 236.8L1166.0 237.8L1388.0 239.3L1545.5 239.5"/>
<path stroke="#22ff00" d="M176.0 239.7L176.5 238.5L177.0 234.9L179.5 214.5L180.5 210.4L181.5 208.9L182.0 208.9L182.5 209.4L183.5 211.2L189.0 226.7L190.5 229.8L192.5 232.8L194.5 234.8L197.0 236.2L200.0 237.0L203.5 237.3L250.5 235.1L262.0 234.1L267.0 233.2L272.0 231.7L289.0 224.6L293.0 223.7L296.0 223.4L299.0 223.7L303.0 224.6L316.0 229.7L322.0 231.6L329.0 232.8L338.0 233.3L430.0 233.0L515.0 233.1L832.0 235.1L861.0 235.0L869.0 234.5L875.0 233.7L880.0 232.5L885.0 230.6L889.0 228.3L893.0 225.2L903.0 215.2L906.0 212.6L910.0 210.3L913.0 209.7L916.0 210.1L919.0 211.3L923.0 213.9L931.0 219.8L936.0 223.0L942.0 226.1L949.0 228.9L956.0 231.1L964.0 232.7L972.0 233.7L982.0 234.2L1024.0 235.0L1066.0 235.2L1102.0 235.0L1210.0 233.2L1322.0 233.9L1348.0 233.1L1398.0 229.5L1420.0 228.8L1440.0 229.2L1496.0 232.1L1545.5 233.0"/>
<path stroke="#ff007e" d="M176.0 239.7L176.5 235.3L177.0 224.4L179.5 161.8L180.5 149.6L181.0 146.7L181.5 145.5L182.0 146.0L183.0 150.5L188.5 200.0L190.5 213.6L192.5 223.2L195.0 230.8L196.5 233.6L198.0 235.6L199.5 237.0L201.5 238.1L203.5 238.7L206.5 239.1L212.5 239.0L218.0 237.9L223.0 235.7L232.5 230.1L235.0 229.2L237.5 228.9L240.0 229.2L242.5 230.1L252.0 235.5L256.5 237.5L262.0 238.7L268.0 239.1L308.0 239.0L321.0 238.3L326.0 237.5L331.0 236.1L347.0 230.2L350.0 229.5L353.0 229.2L357.0 229.5L361.0 230.5L374.0 235.6L380.0 237.4L386.0 238.4L394.0 239.0L492.0 239.5L614.0 239.7L723.0 239.6L861.0 238.9L985.0 238.8L993.0 238.2L999.0 237.2L1004.0 235.6L1018.0 229.8L1022.0 229.0L1024.0 228.9L1026.0 229.0L1030.0 229.9L1044.0 235.9L1050.0 237.8L1056.0 238.8L1066.0 239.4L1146.0 239.6L1288.0 239.0L1440.0 239.7L1545.5 239.4"/>
<path stroke="#00edff" d="M176.0 239.7L176.5 239.0L177.0 236.5L181.0 207.5L182.5 201.7L183.5 200.0L184.5 199.6L185.5 200.4L187.0 203.0L193.0 218.9L195.5 224.6L197.5 228.2L200.0 231.6L203.0 234.4L207.0 236.6L211.5 237.7L218.0 238.2L235.0 237.9L246.5 236.7L255.0 234.6L271.0 228.8L275.0 227.9L278.0 227.7L282.0 228.0L286.0 228.8L300.0 233.5L307.0 235.2L315.0 236.3L326.0 236.6L444.0 235.9L559.0 235.7L914.0 237.4L932.0 237.2L945.0 236.6L956.0 235.8L979.0 233.3L991.0 232.8L1002.0 233.2L1024.0 235.2L1036.0 236.0L1050.0 236.4L1070.0 236.5L1084.0 236.2L1094.0 235.7L1104.0 234.7L1126.0 232.1L1138.0 231.6L1150.0 232.3L1174.0 235.6L1184.0 236.7L1196.0 237.4L1212.0 237.7L1270.0 237.5L1330.0 236.5L1368.0 235.1L1430.0 231.9L1456.0 231.2L1472.0 231.3L1490.0 231.9L1545.5 235.2"/>
<path stroke="#ff0036" d="M176.0 239.7L176.5 237.4L179.0 205.5L180.0 199.0L180.5 197.5L181.0 197.1L181.5 197.6L182.5 200.4L186.0 217.1L188.0 225.2L189.5 229.7L191.0 233.0L193.0 235.9L195.5 237.9L198.5 239.0L203.5 239.4L508.0 238.9L861.0 239.6L959.0 239.2L1220.0 239.6L1274.0 239.1L1348.0 236.6L1378.0 236.1L1406.0 236.5L1482.0 238.5L1545.5 239.0"/>
<path stroke="#3e00ff" d="M176.0 239.7L176.5 233.9L179.0 162.5L180.0 148.7L180.5 145.9L181.0 145.4L181.5 146.7L182.5 153.4L187.5 203.8L190.0 219.5L192.0 226.8L193.0 229.3L194.5 231.9L196.0 233.5L197.5 234.4L201.0 235.3L205.0 235.2L211.0 234.5L232.5 230.5L241.0 229.6L247.0 229.8L263.0 231.5L273.0 232.0L327.0 231.9L336.0 231.5L341.0 230.5L345.0 228.9L349.0 226.4L355.0 221.6L358.0 219.6L361.0 218.3L363.0 218.1L365.0 218.4L368.0 219.8L378.0 227.5L381.0 229.3L384.0 230.6L387.0 231.4L391.0 232.0L403.0 232.4L507.0 232.9L604.0 232.8L702.0 232.1L861.0 230.4L911.0 228.9L967.0 228.3L979.0 227.9L993.0 226.6L1016.0 222.5L1022.0 221.9L1026.0 221.8L1030.0 221.9L1036.0 222.6L1054.0 226.4L1062.0 227.8L1074.0 228.7L1084.0 228.6L1106.0 226.7L1116.0 226.3L1128.0 226.8L1154.0 229.2L1170.0 229.7L1198.0 229.5L1300.0 227.5L1354.0 227.1L1408.0 227.5L1545.5 229.9"/>
<path stroke="#008aff" d="M176.0 239.7L176.5 238.1L177.0 233.2L180.0 187.2L181.5 169.9L183.0 160.3L183.5 158.7L184.0 157.8L184.5 157.5L185.5 158.5L187.0 163.2L195.0 204.4L197.5 214.2L200.5 222.7L202.0 225.9L204.0 229.1L206.0 231.5L208.0 233.3L210.5 234.7L213.0 235.6L216.0 236.2L219.5 236.6L228.5 236.6L271.0 235.1L314.0 234.0L474.0 231.4L504.0 229.9L553.0 226.1L573.0 225.4L593.0 225.8L644.0 228.6L680.0 229.1L844.0 228.1L908.0 228.4L1048.0 227.5L1230.0 228.2L1268.0 227.6L1332.0 225.5L1358.0 225.2L1386.0 225.8L1442.0 228.4L1470.0 229.4L1504.0 229.9L1545.5 229.8"/>
<path stroke="#00f0ff" d="M176.0 239.7L176.5 239.0L177.0 236.9L180.5 215.2L182.0 210.3L182.5 209.5L183.5 208.7L184.5 209.1L186.0 211.0L191.5 222.5L194.0 226.7L196.0 229.1L198.5 230.8L201.0 231.2L202.5 230.9L204.0 230.2L207.0 227.8L214.0 220.7L216.5 219.2L218.5 218.8L220.5 219.3L223.0 220.8L231.0 228.8L235.0 231.7L239.5 233.4L245.0 234.0L294.0 231.9L355.0 230.2L363.0 229.8L368.0 228.8L372.0 227.1L376.0 224.5L385.0 217.0L388.0 215.6L390.0 215.3L392.0 215.6L395.0 217.0L404.0 224.3L409.0 227.2L412.0 228.2L415.0 228.8L423.0 229.3L613.0 228.8L646.0 227.9L703.0 225.3L726.0 224.9L741.0 225.2L756.0 225.8L824.0 230.3L839.0 230.8L851.0 230.8L861.0 230.1L869.0 228.4L879.0 225.4L896.0 219.0L902.0 217.0L909.0 215.4L915.0 215.0L921.0 215.4L927.0 216.6L933.0 218.4L950.0 224.4L960.0 227.0L971.0 228.6L984.0 229.3L1002.0 229.3L1096.0 227.9L1152.0 227.7L1208.0 228.2L1330.0 230.2L1392.0 230.5L1452.0 230.1L1545.5 228.5"/>
<path stroke="#b000ff" d="M176.0 239.7L176.5 237.9L177.0 232.6L180.5 182.2L182.0 171.6L182.5 170.0L183.0 169.1L183.5 169.0L184.5 170.5L186.0 176.0L191.0 203.0L193.0 212.4L195.0 219.9L197.5 226.9L200.5 232.3L202.0 234.2L204.0 236.0L206.0 237.2L208.5 238.2L214.5 239.1L218.0 239.1L221.0 238.7L223.5 237.8L225.5 236.6L227.5 234.8L229.5 232.4L236.5 222.1L238.5 220.3L240.5 219.7L242.0 220.1L244.0 221.7L251.5 232.6L253.5 234.9L255.5 236.7L257.5 237.9L260.0 238.8L263.0 239.2L268.0 239.4L328.0 239.5L353.0 239.0L373.0 237.4L409.0 232.7L417.0 232.1L425.0 231.9L433.0 232.1L442.0 232.8L470.0 236.3L483.0 237.6L496.0 238.3L510.0 238.7L617.0 238.6L779.0 239.7L988.0 239.6L998.0 239.3L1006.0 238.8L1020.0 236.8L1028.0 234.6L1040.0 229.2L1044.0 228.5L1048.0 229.1L1060.0 234.4L1068.0 236.6L1082.0 238.5L1096.0 239.3L1236.0 239.1L1426.0 239.7L1545.5 239.4"/>
<path stroke="#00ffe1" d="M176.0 239.7L176.5 237.0L177.0 229.8L179.5 188.2L180.5 179.8L181.0 177.6L181.5 176.6L182.0 176.7L182.5 177.7L183.5 181.6L189.0 214.4L191.0 223.0L193.0 229.1L195.5 233.9L197.0 235.7L198.5 237.0L202.0 238.6L207.5 239.3L239.0 239.3L248.5 239.0L254.0 238.0L265.0 233.7L269.0 233.2L273.0 233.9L283.0 237.9L286.0 238.6L290.0 239.0L302.0 239.3L359.0 239.2L365.0 238.7L370.0 237.7L374.0 236.5L385.0 232.1L388.0 231.4L391.0 231.2L394.0 231.5L397.0 232.3L407.0 236.4L413.0 238.2L419.0 239.1L427.0 239.4L643.0 239.4L873.0 238.6L892.0 238.0L906.0 236.7L916.0 234.7L934.0 229.8L938.0 229.1L942.0 228.9L946.0 229.1L950.0 229.6L971.0 234.3L986.0 236.7L1002.0 238.2L1022.0 238.9L1166.0 239.4L1246.0 239.1L1290.0 238.1L1362.0 235.1L1392.0 234.6L1424.0 235.1L1498.0 237.8L1545.5 238.5"/>
<path stroke="#ff0081" d="M176.0 239.7L176.5 234.7L179.0 176.2L179.5 170.1L180.0 166.5L180.5 165.0L181.0 165.4L182.0 170.3L186.5 208.8L188.0 218.1L189.5 224.9L191.5 230.7L193.5 233.9L196.0 235.9L198.0 236.6L200.0 236.8L205.0 236.8L246.5 234.0L253.5 233.2L258.5 232.0L264.0 229.7L269.0 226.3L273.0 222.7L281.0 214.6L285.0 211.3L289.0 209.2L292.0 208.7L295.0 209.2L299.0 211.2L302.0 213.4L314.0 223.3L318.0 225.8L323.0 228.2L329.0 230.1L335.0 231.2L342.0 231.9L351.0 232.3L503.0 232.8L600.0 232.7L704.0 232.0L861.0 230.4L897.0 231.5L939.0 232.0L1152.0 231.5L1224.0 231.9L1416.0 233.6L1480.0 233.7L1545.5 233.5"/>
<path stroke="#f4ff00" d="M176.0 239.7L176.5 236.2L179.0 190.9L180.0 182.1L180.5 180.3L181.0 180.0L181.5 180.8L182.5 185.1L187.5 217.7L189.0 224.4L190.5 229.3L192.5 233.6L195.0 236.6L196.5 237.5L198.5 238.3L203.0 238.8L219.5 238.5L230.5 237.4L238.5 235.6L253.0 230.8L256.5 230.0L260.0 229.7L263.0 229.8L267.0 230.5L283.0 235.3L292.0 236.9L299.0 237.4L308.0 237.5L321.0 237.4L328.0 236.9L333.0 235.9L338.0 233.8L342.0 231.1L349.0 225.2L352.0 223.0L355.0 221.6L357.0 221.3L360.0 221.7L363.0 223.2L373.0 231.2L376.0 233.2L379.0 234.7L382.0 235.7L385.0 236.3L394.0 236.9L662.0 235.2L824.0 235.0L861.0 235.1L893.0 236.6L934.0 237.6L1084.0 239.2L1166.0 239.4L1324.0 238.7L1474.0 239.4L1545.5 239.4"/>
<path stroke="#00ffc4" d="M176.0 239.7L176.5 239.3L177.0 237.8L179.5 225.8L181.0 220.3L182.5 217.3L183.0 216.8L184.0 216.6L185.0 217.1L186.5 218.7L192.0 228.0L194.5 231.5L196.5 233.8L199.0 235.9L202.5 237.8L206.0 238.9L210.0 239.4L216.5 239.7L264.0 239.8L280.0 239.4L290.0 238.3L309.0 234.6L316.0 234.0L320.0 234.1L325.0 234.6L342.0 238.0L351.0 239.2L361.0 239.7L382.0 239.8L873.0 238.9L884.0 238.6L893.0 238.0L919.0 234.3L929.0 233.6L939.0 234.3L958.0 237.4L967.0 238.6L977.0 239.2L991.0 239.5L1134.0 239.7L1408.0 239.1L1545.5 239.3"/>
<path stroke="#9000ff" d="M176.0 239.7L176.5 238.9L177.0 236.3L179.0 222.6L180.0 217.7L181.0 214.9L182.0 213.9L183.0 214.4L184.0 215.9L190.0 229.5L192.0 232.8L194.0 235.2L196.5 237.1L199.5 238.4L203.0 239.0L208.5 239.3L249.0 239.1L261.0 238.3L265.0 237.6L269.0 236.3L274.0 234.1L284.0 228.7L288.0 227.3L291.0 227.0L294.0 227.3L297.0 228.3L309.0 234.5L315.0 236.7L322.0 238.0L331.0 238.4L602.0 237.2L830.0 237.0L850.0 236.4L884.0 234.0L894.0 233.6L901.0 233.8L908.0 234.3L932.0 237.4L943.0 238.5L955.0 239.1L971.0 239.5L1124.0 239.2L1282.0 239.8L1434.0 239.2L1545.5 239.7"/>
<path stroke="#0018ff" d="M176.0 239.7L177.0 239.2L177.5 238.5L180.0 234.2L181.5 232.2L183.0 231.1L184.5 230.7L186.0 230.8L187.5 231.4L194.0 235.2L197.5 237.0L203.5 238.7L212.5 239.6L229.5 239.6L240.0 238.8L250.5 236.8L260.0 233.9L271.0 228.9L273.0 228.3L275.0 228.2L277.0 228.5L279.0 229.2L288.0 234.8L294.0 237.3L298.0 238.3L303.0 239.1L314.0 239.7L474.0 239.1L669.0 239.9L755.0 239.7L861.0 239.1L901.0 239.6L960.0 239.4L976.0 238.6L988.0 237.0L1000.0 234.0L1020.0 227.3L1028.0 225.0L1038.0 223.2L1050.0 222.6L1064.0 223.1L1076.0 224.7L1086.0 227.2L1106.0 234.0L1116.0 236.8L1126.0 238.6L1138.0 239.5L1200.0 239.8L1422.0 239.5L1545.5 239.7"/>
<path stroke="#ffc400" d="M176.0 239.7L176.5 237.8L177.0 232.5L179.0 202.3L180.5 185.3L181.5 179.0L182.0 177.3L182.5 176.4L183.0 176.2L184.0 177.8L185.5 183.4L190.0 207.0L192.0 216.0L194.0 223.1L196.5 229.4L199.5 234.2L202.5 236.9L206.5 238.7L212.5 239.5L227.5 239.4L232.0 238.9L236.0 237.8L239.5 236.4L243.0 234.4L253.0 226.9L256.0 225.0L259.0 223.7L262.0 223.3L265.0 223.8L268.0 225.1L271.0 227.0L280.0 233.8L286.0 237.0L292.0 238.7L301.0 239.5L574.0 239.0L960.0 239.6L981.0 239.4L996.0 238.5L1008.0 237.2L1034.0 233.2L1046.0 232.2L1058.0 232.4L1080.0 234.9L1084.0 235.0L1088.0 234.8L1092.0 234.0L1096.0 232.4L1100.0 230.0L1106.0 225.8L1110.0 223.3L1114.0 221.9L1116.0 221.8L1118.0 222.1L1122.0 223.7L1126.0 226.5L1134.0 232.8L1140.0 236.2L1146.0 238.1L1154.0 239.0L1316.0 239.7L1480.0 239.2L1545.5 239.3"/>
<path stroke="#ff002d" d="M176.0 239.7L176.5 238.2L177.0 233.7L180.0 200.8L181.0 195.3L181.5 193.8L182.0 193.0L182.5 192.8L183.5 194.1L184.5 197.0L189.0 215.5L191.0 222.6L193.0 228.0L195.0 232.0L197.5 235.3L199.0 236.6L201.0 237.8L205.0 239.1L210.5 239.6L293.0 239.7L309.0 239.3L314.0 238.8L319.0 237.7L324.0 236.1L335.0 232.0L339.0 231.0L342.0 230.8L345.0 230.9L349.0 231.7L362.0 236.5L368.0 238.2L375.0 239.2L384.0 239.5L663.0 238.4L676.0 238.0L687.0 237.2L698.0 236.1L724.0 232.8L738.0 232.0L745.0 232.2L753.0 232.8L789.0 237.2L809.0 238.4L869.0 239.0L945.0 238.9L970.0 238.2L1002.0 236.0L1014.0 235.5L1028.0 235.6L1052.0 236.8L1060.0 236.6L1068.0 235.3L1074.0 233.6L1086.0 229.4L1090.0 228.5L1094.0 228.1L1098.0 228.4L1102.0 229.2L1118.0 235.2L1124.0 236.9L1132.0 238.2L1140.0 238.6L1170.0 238.1L1238.0 235.1L1264.0 234.8L1290.0 235.2L1352.0 238.0L1388.0 239.0L1430.0 239.2L1545.5 239.1"/>
<path stroke="#2f00ff" d="M176.0 239.7L176.5 237.3L177.0 230.6L180.0 180.0L181.0 170.9L181.5 168.3L182.0 166.8L182.5 166.2L183.0 166.6L183.5 167.6L184.5 171.5L190.5 207.9L192.5 217.3L194.5 224.2L197.0 230.1L199.5 233.6L201.0 234.9L202.5 235.7L206.0 236.5L211.0 236.1L221.0 233.7L231.5 231.8L235.5 230.7L238.5 229.5L241.0 228.0L252.0 219.9L254.5 218.8L257.0 218.4L260.0 219.0L263.0 220.8L266.0 223.4L274.0 231.4L277.0 233.9L280.0 235.8L283.0 237.1L287.0 238.2L291.0 238.8L297.0 239.0L799.0 239.8L1016.0 239.7L1284.0 239.1L1545.5 239.7"/>
<path stroke="#ff00f4" d="M176.0 239.7L176.5 237.9L177.0 232.5L179.5 190.1L181.0 169.3L182.5 157.0L183.0 154.8L184.0 152.7L184.5 152.7L185.0 153.3L186.5 158.0L194.5 202.8L197.0 213.4L200.0 222.5L201.5 225.9L203.5 229.3L205.5 231.8L207.5 233.6L210.0 235.1L212.5 236.0L219.0 237.0L227.0 237.1L279.0 236.0L403.0 234.6L547.0 232.4L625.0 231.7L722.0 232.0L861.0 233.8L910.0 233.1L1070.0 232.4L1238.0 230.4L1310.0 229.9L1404.0 230.1L1545.5 231.6"/>
<path stroke="#ff008e" d="M176.0 239.7L176.5 237.8L179.5 205.0L180.5 200.0L181.0 199.0L181.5 198.8L182.5 200.2L183.5 203.4L188.5 224.0L190.0 228.4L192.0 232.7L194.5 236.1L197.5 238.2L201.0 239.2L206.0 239.5L284.0 239.6L297.0 239.1L301.0 238.5L305.0 237.5L317.0 232.7L321.0 231.4L325.0 230.6L332.0 229.8L336.0 229.0L348.0 224.0L351.0 223.3L353.0 223.1L356.0 223.4L360.0 224.9L371.0 231.8L375.0 233.8L379.0 235.2L384.0 236.1L390.0 236.3L411.0 235.5L424.0 235.6L436.0 236.1L470.0 238.5L494.0 239.2L535.0 239.3L856.0 238.3L866.0 237.9L873.0 237.4L880.0 236.3L896.0 233.0L904.0 232.4L912.0 233.1L927.0 236.3L935.0 237.5L944.0 238.2L955.0 238.5L965.0 238.4L971.0 238.1L976.0 237.5L985.0 235.8L990.0 235.4L995.0 235.8L1004.0 237.5L1010.0 238.3L1024.0 238.7L1262.0 239.3L1545.5 238.5"/>
<path stroke="#ff003c" d="M176.0 239.7L176.5 238.5L179.0 219.6L180.0 215.3L181.0 213.7L181.5 213.7L182.5 215.0L188.0 229.6L189.5 232.5L191.5 235.4L194.0 237.6L196.5 238.7L199.5 239.3L204.5 239.6L277.0 239.6L291.0 239.2L296.0 238.5L300.0 237.6L314.0 232.6L320.0 231.3L323.0 231.1L326.0 231.4L338.0 234.0L341.0 234.2L344.0 233.9L349.0 232.2L359.0 227.1L362.0 226.2L364.0 226.0L367.0 226.3L371.0 227.8L382.0 234.8L388.0 237.7L391.0 238.6L395.0 239.4L404.0 239.8L641.0 239.8L919.0 239.0L946.0 238.4L981.0 235.8L994.0 235.3L1008.0 235.8L1046.0 238.8L1076.0 239.5L1228.0 239.7L1545.5 239.2"/>
<path stroke="#ff0017" d="M176.0 239.7L176.5 236.5L177.0 228.1L179.0 184.7L180.0 169.3L181.0 160.5L181.5 158.4L182.0 157.6L182.5 158.0L183.0 159.3L184.0 164.1L189.5 203.8L191.5 214.8L193.5 222.7L196.0 229.2L198.5 232.9L200.0 234.3L202.0 235.5L206.0 236.4L208.5 236.4L211.5 236.0L214.5 235.1L217.0 233.9L221.5 230.8L230.5 222.5L233.0 221.0L235.5 220.3L238.0 220.5L241.0 221.9L250.0 229.5L254.0 232.1L257.5 233.5L262.0 234.4L270.0 234.8L308.0 234.5L357.0 234.6L366.0 234.1L370.0 233.4L373.0 232.4L376.0 231.0L379.0 229.0L389.0 221.0L392.0 219.5L395.0 219.0L397.0 219.3L400.0 220.7L403.0 222.8L411.0 229.5L414.0 231.5L417.0 232.9L420.0 233.9L424.0 234.6L434.0 235.1L481.0 235.2L532.0 234.9L690.0 232.7L752.0 232.2L806.0 232.2L937.0 232.9L947.0 232.5L960.0 230.5L965.0 230.1L970.0 230.5L982.0 232.6L990.0 233.4L1032.0 234.1L1040.0 233.8L1046.0 233.1L1052.0 231.8L1064.0 228.5L1070.0 228.0L1076.0 228.9L1088.0 232.5L1094.0 233.8L1102.0 234.6L1114.0 235.0L1240.0 235.3L1452.0 233.9L1545.5 233.7"/>
<path stroke="#ff0088" d="M176.0 239.7L176.5 238.1L177.0 233.3L179.5 199.0L180.5 188.7L181.5 181.9L182.0 179.8L183.0 177.8L183.5 177.8L184.0 178.4L185.5 182.6L192.5 214.6L195.0 222.8L197.5 228.6L200.5 233.1L202.0 234.6L204.0 236.0L206.0 236.9L208.5 237.7L215.0 238.4L709.0 236.6L839.0 236.8L1246.0 238.3L1370.0 238.2L1545.5 237.5"/>
<path stroke="#fffd00" d="M176.0 239.7L176.5 237.6L178.5 212.1L179.5 202.5L180.5 197.6L181.0 196.7L181.5 196.7L182.0 197.4L183.0 200.3L187.5 220.5L189.0 225.8L190.5 229.9L192.5 233.7L194.5 236.0L197.0 237.5L199.5 237.9L203.0 237.5L207.0 235.9L211.5 232.9L221.5 224.7L224.5 223.2L227.5 222.7L230.5 223.2L233.5 224.7L244.5 233.6L247.5 235.6L250.5 237.1L254.0 238.3L257.5 239.0L268.0 239.5L452.0 239.8L660.0 239.0L861.0 239.8L1294.0 239.2L1545.5 239.7"/>
<path stroke="#8100ff" d="M176.0 239.7L176.5 234.5L179.0 170.3L180.0 157.8L180.5 155.2L181.0 154.7L181.5 155.9L182.5 161.9L187.5 207.3L189.0 216.6L190.5 223.4L192.5 229.4L193.5 231.3L195.0 233.3L196.5 234.6L198.0 235.3L201.5 236.0L206.0 235.9L238.0 233.9L277.0 232.7L282.0 232.3L285.0 231.7L288.0 230.4L291.0 228.2L297.0 222.7L299.0 221.5L301.0 221.1L302.0 221.2L304.0 222.1L311.0 228.3L315.0 230.7L319.0 231.8L325.0 232.2L388.0 232.1L413.0 231.7L435.0 230.9L475.0 228.4L492.0 228.0L511.0 228.6L555.0 231.9L582.0 233.2L620.0 233.9L711.0 234.5L861.0 234.8L901.0 233.8L941.0 233.4L1052.0 234.1L1096.0 234.1L1128.0 233.3L1174.0 230.3L1194.0 229.7L1258.0 231.6L1344.0 231.9L1478.0 233.6L1545.5 233.6"/>
<path stroke="#fff200" d="M176.0 239.7L176.5 237.7L177.0 232.0L181.0 164.9L182.5 151.4L183.5 147.2L184.0 146.3L184.5 146.1L185.0 146.6L186.0 149.1L187.5 155.7L193.0 188.8L195.5 201.6L197.5 209.7L200.0 217.4L203.0 223.7L205.0 226.5L207.0 228.4L209.0 229.8L211.5 230.8L217.0 231.8L223.5 231.7L247.5 230.3L268.0 229.5L322.0 228.4L681.0 224.5L773.0 223.9L861.0 223.8L929.0 219.9L990.0 217.2L997.0 216.5L1008.0 214.0L1012.0 213.5L1016.0 213.6L1028.0 215.6L1034.0 216.0L1054.0 215.8L1068.0 215.3L1074.0 214.7L1080.0 213.8L1100.0 208.8L1104.0 208.2L1108.0 207.9L1112.0 208.0L1116.0 208.6L1132.0 212.7L1140.0 214.3L1148.0 215.2L1158.0 215.7L1338.0 219.1L1398.0 219.9L1470.0 220.2L1545.5 219.5"/>
<path stroke="#be00ff" d="M176.0 239.7L176.5 238.2L177.0 233.6L180.0 190.0L181.5 173.7L183.0 164.6L183.5 163.1L184.0 162.2L184.5 161.9L185.5 162.9L187.0 167.2L195.0 205.4L197.5 214.4L200.0 221.1L203.0 226.6L204.5 228.6L206.5 230.5L208.5 231.9L211.0 232.9L216.5 233.9L225.5 233.7L279.0 229.5L317.0 227.5L367.0 225.7L424.0 224.5L494.0 224.0L577.0 224.2L852.0 227.0L874.0 226.8L895.0 224.8L902.0 224.5L911.0 225.2L934.0 229.6L948.0 231.0L965.0 231.3L993.0 229.5L1004.0 229.3L1014.0 230.1L1036.0 233.1L1050.0 234.4L1066.0 235.2L1096.0 235.9L1146.0 236.8L1196.0 237.2L1402.0 236.8L1545.5 237.7"/>
<path stroke="#0006ff" d="M176.0 239.7L176.5 239.1L177.0 236.8L180.0 215.0L181.5 207.0L183.0 202.6L183.5 201.9L184.5 201.4L185.5 202.0L187.0 204.4L194.5 223.2L197.0 228.1L200.0 232.4L203.5 235.7L207.0 237.7L211.5 239.0L217.5 239.5L223.0 239.5L227.5 239.0L231.5 237.7L235.0 235.9L238.0 233.5L241.5 229.9L250.5 217.9L253.5 214.4L257.0 211.7L258.5 211.1L260.0 210.9L263.0 211.8L266.0 214.1L269.0 217.6L278.0 229.6L281.0 232.8L284.0 235.3L287.0 237.1L291.0 238.6L295.0 239.4L301.0 239.7L331.0 239.5L336.0 239.1L340.0 238.1L344.0 236.0L347.0 233.4L350.0 230.0L356.0 222.1L358.0 219.9L361.0 217.9L363.0 217.7L365.0 218.3L367.0 219.7L370.0 222.9L376.0 230.4L379.0 233.3L381.0 234.8L383.0 235.9L386.0 236.9L392.0 237.6L407.0 236.9L471.0 232.6L490.0 231.9L508.0 231.7L538.0 232.5L611.0 237.0L655.0 238.6L710.0 239.3L863.0 239.6L949.0 238.2L969.0 237.7L986.0 236.2L1008.0 232.6L1016.0 231.7L1024.0 231.6L1042.0 232.9L1046.0 232.5L1054.0 230.8L1058.0 230.3L1060.0 230.4L1064.0 231.4L1072.0 234.6L1076.0 235.8L1082.0 236.7L1088.0 236.9L1380.0 237.7L1545.5 237.2"/>
<path stroke="#00ffb5" d="M176.0 239.7L176.5 239.1L177.0 237.1L179.5 225.3L180.5 222.9L181.5 222.0L182.5 222.2L183.5 223.3L188.5 231.4L190.0 233.3L192.0 235.2L194.0 236.5L196.5 237.4L199.5 237.9L203.0 238.1L217.5 237.5L225.5 236.6L231.0 235.0L240.5 230.8L244.5 230.1L248.5 230.6L258.0 234.0L263.0 234.8L268.0 234.2L278.0 230.7L282.0 230.1L286.0 230.6L297.0 233.9L301.0 234.4L306.0 234.6L505.0 230.0L611.0 228.5L664.0 228.3L719.0 228.5L861.0 230.6L905.0 229.0L914.0 228.0L929.0 225.5L936.0 225.1L943.0 225.5L958.0 228.0L966.0 229.0L975.0 229.5L988.0 229.7L996.0 229.7L1002.0 229.3L1008.0 228.4L1018.0 226.2L1022.0 225.9L1028.0 226.6L1036.0 228.5L1042.0 229.5L1048.0 230.0L1056.0 230.2L1120.0 229.8L1256.0 227.4L1320.0 226.8L1382.0 227.2L1496.0 229.2L1545.5 229.7"/>
<path stroke="#7e00ff" d="M176.0 239.7L176.5 238.4L177.0 234.5L180.0 195.8L181.5 180.5L183.0 171.3L184.0 168.4L184.5 167.8L185.0 167.6L185.5 168.0L186.5 169.7L188.0 174.4L194.0 200.8L196.5 210.3L199.0 217.9L201.5 223.6L205.0 228.9L207.0 230.9L209.0 232.4L211.5 233.7L214.0 234.4L220.5 235.2L228.0 235.3L275.0 233.9L284.0 233.3L288.0 232.6L291.0 231.7L295.0 229.9L304.0 224.8L307.0 223.7L310.0 223.3L312.0 223.5L315.0 224.5L325.0 230.1L329.0 231.8L333.0 232.9L338.0 233.5L350.0 233.9L467.0 235.0L551.0 234.9L612.0 234.0L646.0 232.4L702.0 228.0L724.0 227.2L745.0 227.7L790.0 230.4L814.0 231.3L842.0 231.8L901.0 232.3L977.0 232.0L1186.0 229.7L1352.0 229.5L1382.0 229.0L1442.0 227.0L1466.0 226.6L1498.0 227.2L1545.5 229.5"/>
<path stroke="#ff00be" d="M176.0 239.7L176.5 236.4L177.0 227.7L180.0 163.3L181.0 152.3L181.5 149.1L182.0 147.5L182.5 147.0L183.0 147.7L183.5 149.3L184.5 154.5L189.0 189.7L191.0 203.2L192.5 211.3L194.5 219.5L197.0 226.3L198.5 229.0L200.0 230.9L201.5 232.2L203.5 233.3L205.5 233.9L208.0 234.2L215.0 234.0L262.0 229.2L301.0 226.4L341.0 224.2L422.0 220.7L446.0 219.2L495.0 215.6L510.0 214.8L523.0 214.5L549.0 215.1L606.0 218.7L641.0 220.1L886.0 224.4L943.0 224.4L1066.0 222.8L1076.0 222.0L1080.0 221.2L1090.0 218.4L1096.0 217.8L1100.0 218.3L1110.0 221.0L1114.0 221.7L1124.0 222.4L1232.0 222.8L1444.0 225.7L1545.5 226.3"/>
<path stroke="#ff002d" d="M176.0 239.7L176.5 239.5L177.0 238.8L179.0 235.1L180.0 234.1L181.0 233.8L182.5 234.2L187.0 237.1L190.0 238.4L194.0 239.2L199.5 239.5L342.0 238.3L370.0 237.6L416.0 235.7L436.0 235.3L456.0 235.7L508.0 238.0L543.0 238.9L622.0 239.4L724.0 239.6L913.0 238.6L927.0 237.6L934.0 236.5L948.0 233.6L956.0 232.9L964.0 233.5L980.0 236.8L987.0 237.9L996.0 238.6L1008.0 238.9L1250.0 239.5L1545.5 238.8"/>
<path stroke="#fe00ff" d="M176.0 239.7L176.5 236.5L177.0 228.2L180.0 164.9L181.0 153.8L181.5 150.5L182.0 148.7L182.5 148.2L183.0 148.7L183.5 150.2L184.5 155.2L189.5 194.2L191.5 207.4L193.5 217.6L195.5 224.9L197.0 229.0L198.5 232.0L200.0 234.3L201.5 235.9L203.5 237.4L205.5 238.4L208.0 239.1L211.5 239.5L254.5 239.7L325.0 239.3L338.0 238.4L358.0 235.2L367.0 234.5L375.0 235.0L392.0 237.5L400.0 238.3L410.0 238.7L424.0 238.7L460.0 237.4L523.0 233.9L550.0 233.3L578.0 233.9L628.0 236.6L653.0 237.6L680.0 238.2L714.0 238.6L891.0 239.5L1020.0 239.8L1545.5 239.5"/>
<path stroke="#ffb800" d="M176.0 239.7L176.5 235.8L178.5 191.1L179.5 174.5L180.5 166.1L181.0 164.6L181.5 164.6L182.0 165.8L183.0 170.9L188.0 209.1L189.5 217.4L191.5 225.4L194.0 231.5L196.5 234.7L199.5 236.4L204.0 237.1L258.0 234.6L268.0 233.6L284.0 231.5L292.0 231.0L299.0 231.2L317.0 233.2L329.0 233.8L398.0 234.2L430.0 233.7L467.0 231.3L480.0 230.9L495.0 231.3L532.0 233.8L559.0 234.2L617.0 233.8L780.0 231.8L861.0 231.2L889.0 228.4L920.0 226.1L949.0 224.5L1012.0 221.8L1016.0 221.1L1020.0 219.7L1030.0 213.5L1032.0 212.6L1034.0 212.3L1036.0 212.5L1038.0 213.1L1044.0 216.4L1048.0 218.3L1052.0 219.2L1056.0 219.5L1098.0 217.2L1124.0 216.8L1148.0 217.6L1194.0 220.6L1216.0 221.8L1242.0 222.7L1276.0 223.5L1352.0 224.7L1418.0 225.3L1480.0 225.3L1545.5 224.8"/>
<path stroke="#00ffb3" d="M176.0 239.7L176.5 236.6L177.0 228.3L180.0 164.0L181.0 151.9L181.5 148.2L182.0 145.9L182.5 144.8L183.0 144.9L183.5 145.9L184.5 150.2L191.0 198.7L193.0 210.2L195.5 220.5L198.0 227.2L199.5 229.9L201.0 231.9L202.5 233.3L204.5 234.6L207.0 235.4L209.5 235.8L213.0 235.7L216.5 235.2L219.5 234.4L222.5 233.0L225.0 231.4L227.0 229.7L236.0 220.0L238.5 218.5L240.5 218.1L242.5 218.5L244.5 219.4L251.5 224.1L255.5 226.4L264.0 229.8L269.0 231.2L273.0 232.0L278.0 232.5L284.0 232.6L345.0 231.0L396.0 230.1L454.0 229.5L514.0 229.3L622.0 229.9L861.0 232.6L879.0 230.8L897.0 229.4L950.0 226.6L976.0 223.5L984.0 223.0L993.0 223.2L1016.0 225.0L1034.0 225.3L1066.0 224.6L1074.0 223.8L1088.0 221.8L1094.0 221.4L1102.0 221.7L1120.0 223.5L1132.0 223.8L1324.0 219.7L1388.0 218.6L1466.0 218.2L1545.5 218.8"/>
<path stroke="#8000ff" d="M176.0 239.7L177.0 239.1L180.0 233.7L181.5 231.6L183.0 230.3L184.5 229.8L186.0 229.8L187.5 230.3L194.0 233.3L197.5 234.5L201.5 235.2L206.0 235.5L212.0 235.1L218.5 234.2L236.5 229.8L243.5 228.8L250.0 228.8L264.0 230.4L273.0 230.9L288.0 230.3L299.0 229.1L305.0 227.7L310.0 225.9L316.0 222.8L326.0 216.3L330.0 214.0L334.0 212.5L338.0 211.9L342.0 212.4L346.0 213.7L360.0 221.5L367.0 224.5L371.0 225.5L375.0 226.2L386.0 226.8L537.0 222.9L583.0 221.3L623.0 219.0L691.0 213.5L707.0 212.6L722.0 212.2L739.0 212.4L757.0 213.1L825.0 218.2L861.0 220.2L874.0 218.6L887.0 217.4L901.0 216.6L917.0 216.1L949.0 215.8L1038.0 216.3L1086.0 216.0L1140.0 214.8L1258.0 211.3L1318.0 210.3L1362.0 210.3L1408.0 210.9L1545.5 214.9"/>
<path stroke="#0019ff" d="M176.0 239.7L176.5 239.4L177.0 238.4L180.0 227.9L181.5 223.7L183.0 221.0L184.0 220.0L185.0 219.7L186.5 219.9L188.0 220.9L195.5 228.4L198.0 230.4L200.5 231.9L203.5 233.1L206.5 233.8L210.5 234.2L215.0 234.3L256.0 232.0L306.0 230.7L315.0 230.1L320.0 229.1L325.0 227.4L330.0 224.7L340.0 218.5L344.0 216.9L347.0 216.5L350.0 216.8L353.0 217.9L356.0 219.4L366.0 225.7L370.0 227.6L373.0 228.7L377.0 229.6L381.0 230.2L393.0 230.6L513.0 231.1L610.0 231.0L705.0 230.4L869.0 228.6L874.0 228.2L879.0 227.1L883.0 225.5L892.0 220.7L896.0 219.4L900.0 218.8L916.0 218.7L921.0 219.0L926.0 220.0L942.0 225.9L949.0 227.8L957.0 228.9L967.0 229.4L1102.0 229.4L1278.0 231.6L1298.0 231.3L1332.0 229.4L1344.0 229.1L1356.0 229.5L1390.0 231.5L1414.0 232.0L1545.5 230.5"/>
<path stroke="#00ff29" d="M176.0 239.7L176.5 239.4L177.0 238.3L179.0 231.8L180.5 228.0L181.5 226.5L183.0 225.6L184.0 225.7L185.5 226.6L191.0 231.7L194.5 234.0L198.5 235.4L203.5 235.9L211.0 235.6L249.0 232.3L276.0 230.6L308.0 229.1L353.0 227.5L359.0 226.4L363.0 224.5L366.0 221.9L374.0 213.1L376.0 211.7L378.0 211.2L380.0 211.6L382.0 212.9L390.0 221.5L393.0 223.9L397.0 225.8L400.0 226.4L403.0 226.7L500.0 226.5L527.0 226.2L554.0 225.3L600.0 222.7L621.0 222.3L643.0 223.0L694.0 226.8L725.0 228.3L769.0 229.1L858.0 229.8L861.0 229.8L884.0 227.0L905.0 225.5L983.0 222.4L1076.0 217.0L1118.0 215.5L1140.0 215.3L1164.0 215.7L1262.0 219.5L1286.0 220.0L1310.0 220.0L1338.0 219.4L1364.0 218.3L1388.0 216.6L1430.0 212.8L1442.0 212.2L1452.0 212.0L1470.0 212.6L1510.0 215.1L1545.5 216.9"/>
<path stroke="#fa00ff" d="M176.0 239.7L176.5 236.5L177.0 228.1L179.0 181.3L180.5 154.9L181.5 145.0L182.0 142.2L182.5 140.7L183.0 140.3L183.5 140.9L184.0 142.4L185.0 147.3L191.5 195.1L193.5 206.0L195.5 214.2L197.0 218.7L198.5 222.2L200.0 224.7L201.5 226.6L203.0 227.9L205.0 229.0L207.5 229.8L210.0 230.1L215.0 230.1L233.0 228.9L248.0 228.3L298.0 227.7L304.0 226.7L313.0 223.2L317.0 222.7L321.0 223.5L329.0 226.7L333.0 227.5L340.0 227.9L362.0 228.0L477.0 227.4L730.0 224.0L851.0 223.1L882.0 223.3L994.0 225.1L1038.0 225.5L1048.0 225.1L1056.0 224.4L1076.0 221.0L1084.0 220.0L1092.0 219.4L1104.0 219.2L1114.0 219.3L1124.0 220.0L1148.0 223.4L1158.0 224.5L1168.0 225.1L1180.0 225.3L1412.0 222.3L1478.0 222.0L1545.5 222.3"/>
<path stroke="#ff007a" d="M176.0 239.7L176.5 238.8L179.0 227.6L180.0 225.2L181.0 224.3L182.5 224.9L186.0 228.7L188.0 230.3L190.5 231.4L193.0 231.6L196.5 231.2L209.0 228.4L218.0 226.8L228.0 225.4L239.5 224.3L270.0 222.5L316.0 221.3L513.0 217.6L621.0 216.4L728.0 216.4L868.0 217.9L877.0 217.3L884.0 216.2L891.0 214.2L907.0 208.3L912.0 207.2L918.0 206.7L935.0 207.6L949.0 207.9L955.0 208.3L964.0 210.3L985.0 217.5L996.0 220.2L1002.0 221.1L1010.0 221.8L1034.0 222.7L1088.0 223.5L1130.0 223.3L1162.0 222.4L1222.0 219.8L1250.0 219.3L1272.0 219.4L1328.0 220.6L1358.0 220.9L1480.0 220.1L1545.5 220.1"/>
<path stroke="#ff002e" d="M176.0 239.7L176.5 238.8L179.5 223.8L180.5 221.6L181.5 221.0L183.0 222.1L187.0 228.4L189.5 231.3L192.5 233.1L194.5 233.6L196.5 233.7L201.5 233.1L227.5 228.5L248.5 225.7L275.0 223.3L304.0 221.6L331.0 220.8L363.0 220.3L464.0 220.6L495.0 220.4L524.0 219.6L575.0 217.2L595.0 216.8L620.0 217.0L681.0 219.3L716.0 219.9L765.0 219.4L861.0 217.2L879.0 219.5L899.0 221.3L922.0 222.7L948.0 223.6L987.0 224.3L1116.0 225.5L1294.0 228.2L1350.0 228.6L1404.0 228.4L1545.5 226.5"/>
<path stroke="#ff40b2" d="M176.0 239.7L177.0 239.0L181.5 231.6L183.0 230.1L184.5 229.3L186.0 228.9L188.0 229.0L195.0 230.6L198.5 231.1L201.5 231.1L204.5 230.6L207.5 229.5L210.0 228.1L218.5 221.1L222.0 219.1L223.5 218.8L225.5 218.7L233.0 220.5L235.5 220.6L237.5 220.3L241.5 218.8L250.0 214.0L254.0 212.1L258.0 210.9L262.0 210.4L265.0 210.7L269.0 211.7L283.0 217.5L289.0 219.5L296.0 220.8L305.0 221.3L406.0 218.3L594.0 213.5L679.0 212.0L757.0 211.4L861.0 212.0L872.0 214.5L878.0 215.2L883.0 215.5L891.0 215.1L907.0 213.2L914.0 213.0L923.0 214.0L945.0 218.5L952.0 219.3L960.0 219.8L1066.0 221.4L1082.0 221.1L1110.0 219.9L1120.0 219.9L1132.0 220.5L1166.0 223.3L1180.0 223.9L1196.0 224.2L1234.0 224.3L1274.0 223.8L1416.0 220.4L1442.0 219.5L1480.0 217.0L1494.0 216.5L1504.0 216.5L1514.0 217.0L1545.5 219.6"/>
<path stroke="#80ff00" d="M176.0 239.7L176.5 239.1L177.0 237.4L180.0 221.6L181.5 215.7L183.0 212.2L184.5 210.8L186.0 211.0L187.5 212.2L193.0 219.2L196.0 222.3L199.0 224.3L202.5 225.4L205.0 225.7L208.0 225.6L216.0 224.3L224.5 222.2L227.0 221.2L229.0 219.9L232.0 216.7L234.5 212.3L237.0 206.2L243.0 188.5L245.0 184.6L246.0 183.5L247.0 183.1L248.5 183.6L250.5 186.5L257.5 204.7L259.5 208.8L261.0 211.1L263.0 213.3L265.0 214.5L267.0 215.2L269.0 215.4L274.0 215.1L278.0 214.2L281.0 213.0L284.0 210.6L287.0 206.8L289.0 203.3L297.0 185.9L299.0 183.1L300.0 182.3L301.0 181.9L302.0 181.9L303.0 182.4L305.0 184.6L307.0 188.1L314.0 202.8L316.0 206.0L318.0 208.3L320.0 210.0L323.0 211.4L326.0 212.0L329.0 212.2L386.0 211.6L498.0 212.5L601.0 212.3L637.0 213.2L710.0 216.4L748.0 217.6L798.0 218.4L861.0 218.6L872.0 216.2L883.0 214.3L895.0 212.5L908.0 211.1L937.0 209.0L971.0 207.9L999.0 207.7L1032.0 208.0L1202.0 211.7L1250.0 212.4L1294.0 212.5L1342.0 212.3L1394.0 211.6L1545.5 207.8"/>
<path stroke="#00ffff" d="M176.0 239.7L176.5 238.4L177.0 235.1L179.0 217.3L180.5 207.3L181.5 203.5L182.0 202.4L183.0 201.5L184.0 202.0L185.0 203.4L190.0 214.8L193.0 219.8L194.5 221.4L196.0 222.5L197.5 223.1L199.5 223.4L201.5 223.1L203.5 222.5L209.0 219.6L214.5 215.7L225.5 206.9L230.0 204.0L234.0 202.2L238.0 201.6L241.0 202.0L244.0 202.9L255.0 208.3L259.5 210.1L264.0 211.2L269.0 211.7L277.0 211.7L304.0 210.1L326.0 209.3L349.0 209.0L374.0 209.1L420.0 210.3L519.0 214.5L552.0 215.5L569.0 215.4L584.0 214.7L597.0 213.5L626.0 209.8L640.0 208.9L649.0 208.9L658.0 209.4L698.0 213.3L709.0 213.8L720.0 213.9L746.0 213.3L821.0 209.8L861.0 208.3L881.0 210.9L901.0 212.9L923.0 214.4L944.0 215.3L953.0 214.9L964.0 212.6L968.0 212.2L972.0 212.6L984.0 215.4L994.0 216.0L1030.0 215.6L1132.0 213.7L1190.0 213.4L1256.0 214.3L1376.0 217.6L1428.0 218.7L1486.0 218.9L1545.5 218.1"/>
<path stroke="#0085ff" d="M176.0 239.7L176.5 238.3L177.0 234.3L179.5 205.9L180.5 197.3L182.0 189.7L182.5 188.6L183.0 187.9L183.5 187.8L184.5 188.9L185.5 191.2L191.5 212.3L193.5 217.9L195.5 222.3L198.0 226.0L200.5 228.3L203.5 229.7L207.0 230.2L214.0 229.6L235.5 225.6L250.5 223.1L276.0 219.8L304.0 217.2L347.0 214.6L356.0 213.6L361.0 212.4L366.0 210.5L371.0 207.5L380.0 200.8L384.0 198.2L388.0 196.7L391.0 196.4L394.0 196.9L398.0 198.7L410.0 207.0L414.0 209.3L417.0 210.6L421.0 211.8L425.0 212.6L436.0 213.3L602.0 214.9L678.0 215.2L765.0 214.3L861.0 212.2L891.0 214.1L926.0 215.2L1070.0 217.2L1246.0 221.5L1324.0 222.6L1368.0 222.6L1414.0 222.1L1545.5 219.4"/>
<path stroke="#ff0a46" stroke-opacity="0.66" stroke-width="1.9" d="M176.0 222.2L179.0 193.9L180.5 171.1L185.5 38.0L189.0-37.9L189.5-40.0L195.0-40.0L199.0 7.1L203.0 61.7L205.5 89.9L207.0 102.1L214.5 151.2L217.5 165.7L220.0 175.6L222.5 183.0L226.0 191.1L228.5 195.5L231.5 198.6L236.5 202.5L238.5 203.6L240.5 204.2L243.0 204.2L244.5 203.2L246.0 201.6L253.0 190.9L256.0 185.3L259.0 178.4L261.0 172.7L265.0 157.1L268.0 147.6L270.0 142.7L271.0 142.0L272.0 142.4L274.0 145.1L279.0 154.9L285.0 168.7L289.0 176.1L292.0 180.6L297.0 186.1L299.0 187.8L301.0 189.1L307.0 191.0L312.0 191.8L314.0 191.8L315.0 191.4L318.0 189.4L325.0 182.5L333.0 172.5L338.0 168.5L342.0 165.6L345.0 164.0L348.0 163.0L350.0 162.8L352.0 163.0L354.0 163.6L361.0 167.1L372.0 171.4L383.0 173.9L391.0 174.6L396.0 173.9L407.0 170.3L410.0 169.6L413.0 169.3L458.0 170.5L518.0 169.9L861.0 169.9L863.0 170.3L866.0 171.7L868.0 173.3L870.0 175.7L876.0 185.2L883.0 199.6L886.0 204.7L892.0 213.0L895.0 216.2L898.0 219.0L905.0 224.0L911.0 227.3L916.0 229.7L920.0 231.1L928.0 233.3L938.0 235.1L967.0 236.7L999.0 237.3L1244.0 238.0L1545.5 238.2"/>
<path stroke="#ff0a46" stroke-opacity="0.66" stroke-width="1.9" d="M176.0 237.0L184.0 180.6L187.0 162.9L189.5 151.6L193.5 137.4L200.0 119.1L210.5 86.2L214.0 77.2L217.5 69.9L220.5 66.0L224.0 62.8L227.5 61.2L231.5 60.1L233.5 60.0L235.0 60.2L241.0 62.6L247.5 64.4L250.5 64.7L252.5 64.3L256.0 62.0L262.0 57.1L269.0 50.6L277.0 44.7L281.0 42.7L286.0 41.2L289.0 40.5L292.0 40.4L294.0 40.6L301.0 42.4L310.0 46.3L319.0 50.7L326.0 52.8L331.0 53.4L337.0 52.7L356.0 48.7L362.0 48.1L367.0 48.4L378.0 50.2L393.0 52.1L404.0 52.8L459.0 51.6L866.0 51.6L868.0 51.2L873.0 48.8L883.0 42.4L888.0 40.6L900.0 37.9L920.0 34.8L935.0 30.2L951.0 26.5L965.0 24.0L998.0 19.2L1018.0 17.4L1042.0 16.0L1070.0 16.0L1080.0 16.7L1090.0 17.7L1106.0 20.0L1134.0 26.8L1150.0 29.6L1168.0 32.4L1202.0 36.8L1220.0 38.9L1234.0 40.0L1254.0 40.9L1266.0 41.2L1278.0 41.1L1436.0 35.8L1545.5 33.5"/>
<path stroke="#3030ff" stroke-opacity="0.66" stroke-width="1.9" d="M176.0 234.1L178.5 218.1L183.0 192.9L184.0 188.4L184.5 187.0L185.0 186.5L186.5 187.5L189.5 191.9L193.5 196.0L195.5 197.4L197.0 197.8L200.0 197.4L203.0 196.5L212.5 192.7L222.0 188.2L226.0 186.9L228.5 186.5L232.0 186.6L249.0 188.3L255.0 188.0L261.0 186.5L272.0 182.6L289.0 177.4L294.0 176.2L298.0 175.8L305.0 176.1L330.0 178.4L339.0 178.8L348.0 178.4L367.0 176.1L387.0 174.4L406.0 173.5L474.0 173.5L519.0 174.6L861.0 174.6L864.0 174.1L868.0 172.6L879.0 164.5L888.0 160.2L895.0 158.0L902.0 156.7L907.0 156.2L920.0 156.9L931.0 158.1L936.0 159.0L945.0 161.3L980.0 171.7L995.0 175.0L1002.0 176.3L1010.0 177.0L1052.0 177.0L1058.0 177.3L1064.0 178.2L1108.0 187.0L1128.0 190.1L1162.0 194.2L1212.0 199.0L1234.0 200.1L1254.0 200.7L1412.0 200.8L1478.0 202.5L1545.5 203.8"/>
<path stroke="#2060ff" stroke-opacity="0.66" stroke-width="1.9" d="M176.0 237.0L179.0 217.9L180.5 212.3L181.5 210.5L182.0 210.3L182.5 210.5L183.5 211.8L187.5 221.4L190.5 225.4L193.5 228.9L196.0 231.2L198.0 232.4L200.0 232.9L209.0 232.1L227.5 228.5L258.5 223.8L271.0 222.5L281.0 222.2L295.0 222.7L325.0 224.9L359.0 226.7L396.0 228.1L490.0 228.7L861.0 228.7L866.0 229.9L877.0 231.3L889.0 232.3L901.0 232.9L1006.0 235.1L1054.0 235.2L1060.0 234.4L1066.0 232.7L1082.0 226.8L1100.0 219.0L1106.0 216.7L1146.0 203.4L1154.0 201.0L1168.0 197.6L1180.0 195.4L1196.0 193.4L1214.0 191.8L1228.0 190.8L1250.0 189.9L1262.0 189.8L1276.0 190.1L1296.0 191.0L1328.0 193.4L1412.0 198.6L1434.0 199.6L1448.0 199.4L1484.0 197.2L1545.5 196.6"/>
<path stroke="#8040ff" stroke-opacity="0.66" stroke-width="1.9" d="M176.0 237.0L178.0 217.7L180.0 203.1L181.0 198.4L183.0 191.6L184.5 187.9L185.5 186.7L186.0 186.5L186.5 186.9L187.5 189.6L191.5 208.9L193.5 213.4L196.0 217.6L199.5 221.7L207.5 228.3L212.0 230.6L214.0 231.0L216.5 231.1L222.0 230.5L228.0 229.1L237.0 226.2L243.0 223.8L249.5 219.7L262.0 209.6L278.0 197.3L286.0 191.7L297.0 186.1L304.0 183.1L310.0 181.2L315.0 180.6L319.0 181.1L323.0 182.6L337.0 190.6L346.0 196.9L349.0 198.1L351.0 198.4L358.0 197.8L371.0 195.2L384.0 191.3L389.0 190.2L408.0 188.5L425.0 187.8L475.0 187.7L523.0 188.9L861.0 189.5L862.0 190.0L867.0 196.7L868.0 197.8L869.0 198.4L874.0 199.2L879.0 199.6L883.0 199.5L895.0 198.4L897.0 198.5L900.0 199.3L911.0 204.9L928.0 215.8L939.0 221.0L947.0 224.1L954.0 226.0L967.0 228.5L976.0 229.6L986.0 230.2L1034.0 231.5L1134.0 232.5L1372.0 233.7L1545.5 234.1"/>
<path stroke="#20ff20" stroke-opacity="0.66" stroke-width="1.9" d="M176.0 237.0L181.0 219.6L183.5 213.1L185.5 209.5L189.0 204.7L192.5 201.2L196.0 199.1L202.0 196.8L205.0 196.2L207.5 196.1L209.0 196.4L211.0 197.5L220.5 205.2L225.5 209.8L228.0 212.4L234.0 219.8L237.0 222.7L241.5 225.4L245.0 227.0L248.0 227.9L250.5 228.1L253.5 227.0L257.5 223.8L268.0 213.2L278.0 200.6L281.0 197.3L284.0 194.6L287.0 192.9L291.0 192.1L299.0 191.3L345.0 188.3L349.0 188.4L352.0 189.3L361.0 194.2L369.0 199.6L372.0 200.7L382.0 200.6L400.0 199.6L418.0 197.5L426.0 197.2L437.0 198.1L459.0 201.5L468.0 202.4L493.0 203.5L520.0 204.2L593.0 204.9L861.0 204.9L865.0 204.4L888.0 199.0L892.0 198.5L895.0 198.4L902.0 199.3L912.0 202.1L916.0 204.1L925.0 209.9L930.0 212.1L946.0 216.0L953.0 217.0L959.0 217.4L989.0 216.7L1006.0 215.9L1018.0 215.0L1062.0 210.0L1090.0 205.6L1100.0 204.9L1108.0 205.2L1116.0 205.9L1134.0 207.8L1152.0 210.4L1160.0 210.9L1176.0 210.5L1204.0 208.8L1236.0 207.3L1258.0 206.7L1302.0 207.0L1398.0 208.5L1545.5 209.7"/>
<path stroke="#ff30ff" stroke-opacity="0.66" stroke-width="1.9" d="M176.0 237.0L178.0 214.7L180.0 197.5L181.5 189.4L182.5 186.9L183.0 186.5L184.0 187.2L185.0 189.2L189.5 203.2L194.0 213.3L196.5 218.2L199.0 221.5L200.0 222.2L205.0 224.0L213.5 226.4L221.5 227.7L230.0 228.1L231.5 227.8L233.0 226.7L236.0 222.9L239.5 216.4L247.5 198.1L251.0 191.0L253.0 187.9L254.5 186.0L256.5 184.5L258.0 184.1L259.5 184.4L261.0 185.2L264.0 188.2L267.0 192.3L275.0 204.9L277.0 207.5L279.0 209.5L286.0 214.1L291.0 216.8L296.0 218.7L300.0 219.2L308.0 218.6L330.0 214.2L335.0 213.5L340.0 213.3L355.0 213.5L396.0 215.0L466.0 215.6L861.0 215.6L863.0 216.3L868.0 220.9L871.0 222.6L877.0 224.6L882.0 226.0L887.0 226.8L891.0 226.9L898.0 226.6L907.0 225.6L974.0 215.7L1006.0 212.7L1052.0 209.5L1092.0 207.1L1164.0 204.2L1204.0 202.2L1218.0 202.0L1242.0 202.0L1396.0 203.7L1545.5 204.3"/>
<path stroke="#6040ff" stroke-opacity="0.66" stroke-width="1.9" d="M176.0 237.0L178.0 209.0L180.0 187.5L182.0 173.6L183.0 169.9L183.5 169.0L184.0 168.7L184.5 169.1L185.0 170.2L186.0 174.3L190.0 201.2L191.0 206.8L192.0 210.3L196.0 218.7L199.0 223.6L202.0 226.9L203.5 227.8L205.0 228.1L210.0 227.7L215.5 226.2L223.0 223.2L225.5 221.9L226.5 221.0L228.5 218.3L230.5 214.5L238.0 196.7L240.5 191.5L242.0 189.1L243.5 187.2L245.0 186.1L246.0 185.9L248.0 186.5L250.5 188.6L253.0 191.8L258.5 200.0L261.0 203.3L271.0 213.5L276.0 217.5L279.0 219.0L287.0 220.4L297.0 221.6L307.0 222.1L313.0 222.1L320.0 221.7L355.0 216.7L382.0 214.8L417.0 213.3L484.0 212.1L861.0 212.1L866.0 212.7L876.0 215.5L880.0 216.2L902.0 218.5L920.0 219.2L925.0 219.0L930.0 218.3L951.0 213.9L960.0 212.7L984.0 211.3L1040.0 208.9L1056.0 208.5L1070.0 208.6L1100.0 209.7L1150.0 210.9L1196.0 213.1L1238.0 214.4L1260.0 214.2L1336.0 211.3L1356.0 210.9L1448.0 212.1L1545.5 212.7"/>
<path stroke="#ff2060" stroke-opacity="0.66" stroke-width="1.9" d="M176.0 237.0L178.0 201.0L180.0 173.9L181.5 161.3L182.5 157.3L183.0 156.8L183.5 157.2L184.0 158.4L185.0 162.7L188.5 185.5L190.0 192.5L195.0 206.1L197.5 211.8L200.0 216.4L202.0 219.3L204.0 221.4L211.5 226.0L216.0 228.0L220.5 229.6L224.5 230.6L228.5 231.0L235.5 230.7L243.0 229.0L251.5 226.0L261.0 221.6L264.0 219.0L267.0 215.3L277.0 199.8L281.0 194.4L283.0 192.3L285.0 190.7L287.0 189.7L289.0 189.5L292.0 190.3L295.0 191.9L298.0 194.3L308.0 203.0L325.0 214.0L329.0 216.2L333.0 217.9L336.0 218.8L339.0 219.2L348.0 218.9L370.0 216.7L380.0 216.2L429.0 217.4L861.0 217.4L863.0 217.6L866.0 218.5L876.0 223.7L880.0 225.1L893.0 228.0L903.0 229.7L912.0 230.8L920.0 231.1L923.0 230.5L926.0 228.8L930.0 225.5L937.0 218.6L941.0 215.0L945.0 212.7L948.0 212.1L950.0 212.2L953.0 212.9L958.0 215.0L963.0 218.1L976.0 227.5L981.0 230.4L986.0 232.3L990.0 232.9L994.0 232.3L999.0 230.1L1004.0 227.0L1014.0 219.7L1020.0 216.2L1024.0 214.8L1028.0 214.5L1032.0 215.2L1038.0 217.7L1042.0 220.0L1054.0 227.9L1060.0 231.0L1064.0 232.4L1068.0 232.9L1072.0 232.5L1076.0 231.5L1082.0 229.1L1098.0 221.5L1104.0 219.7L1108.0 219.2L1112.0 219.5L1116.0 220.5L1122.0 222.9L1138.0 230.7L1144.0 232.5L1148.0 232.9L1152.0 232.6L1158.0 231.2L1174.0 225.1L1180.0 223.2L1184.0 222.4L1188.0 222.2L1192.0 222.5L1198.0 223.9L1214.0 229.9L1220.0 231.8L1224.0 232.6L1228.0 232.9L1232.0 232.6L1236.0 231.9L1242.0 230.2L1258.0 224.8L1264.0 223.6L1268.0 223.4L1272.0 223.7L1276.0 224.4L1282.0 226.3L1296.0 231.2L1302.0 232.6L1306.0 232.9L1310.0 232.6L1314.0 231.8L1320.0 230.0L1334.0 225.1L1340.0 223.7L1344.0 223.4L1348.0 223.6L1352.0 224.3L1358.0 226.1L1372.0 231.0L1378.0 232.4L1382.0 232.9L1386.0 232.7L1390.0 232.1L1396.0 230.4L1412.0 224.9L1418.0 223.6L1422.0 223.4L1426.0 223.7L1430.0 224.5L1448.0 230.6L1452.0 231.6L1456.0 232.2L1460.0 232.2L1466.0 231.3L1486.0 225.1L1490.0 224.3L1494.0 224.0L1498.0 224.2L1502.0 225.1L1516.0 230.0L1522.0 231.5L1534.0 231.6L1545.5 231.1"/>
<path stroke="#000000" stroke-opacity="0.85" stroke-width="1.9" d="M862.0 191.9L863.0 195.4L866.0 210.3L868.0 216.3L869.0 218.6L871.0 221.8L875.0 226.1L877.0 227.5L880.0 229.1L887.0 231.7L897.0 233.2L910.0 234.4L920.0 234.7L934.0 234.3L964.0 232.6L988.0 230.9L1000.0 230.5L1054.0 231.2L1100.0 232.9L1186.0 234.0L1370.0 233.9L1545.5 232.9"/>
</g>
<path d="M121.5 249 L1600.8 249" stroke="#a0a0a0" stroke-width="2.2" fill="none"/>
<path d="M121.5 249 L121.5 7 L1600.8 7" stroke="#8a8a8a" stroke-width="2" fill="none"/>
<path d="M1600.8 6 L1600.8 250" stroke="#767676" stroke-width="2.8" fill="none"/>
<line x1="121.3" y1="61.7" x2="121.3" y2="240" stroke="#3c3c3c" stroke-width="2.6"/>
<g stroke="#555" stroke-width="2" fill="none">
<line x1="104" y1="240.00" x2="121.3" y2="240.00"/>
<line x1="104" y1="180.58" x2="121.3" y2="180.58"/>
<line x1="104" y1="121.16" x2="121.3" y2="121.16"/>
<line x1="104" y1="61.74" x2="121.3" y2="61.74"/>
</g>
<g stroke="#6a6a6a" stroke-width="1.6">
<line x1="176.0" y1="249" x2="176.0" y2="257.5"/>
<line x1="861.2" y1="249" x2="861.2" y2="257.5"/>
<line x1="1545.5" y1="249" x2="1545.5" y2="257.5"/>
</g>
<g stroke="#000" stroke-width="3.7" fill="none" stroke-linecap="butt">
<line x1="167.8" y1="334.6" x2="167.8" y2="378.7"/>
<line x1="167.8" y1="353.8" x2="1541" y2="353.8"/>
<line x1="855.9" y1="334.5" x2="855.9" y2="378.6"/>
<path d="M1521.5 343.8 L1541.5 353.8 L1521.5 363.8" stroke-linecap="round" stroke-linejoin="miter" stroke-width="4"/>
</g>
<g stroke="#000" stroke-width="3.7"><line x1="366.9" y1="492.7" x2="692" y2="492.7"/><line x1="1055" y1="492.7" x2="1380" y2="492.7"/></g>
<path d="M690.6 485.2 L706.3 492.7 L690.6 500.3 Z" fill="#000" stroke="#000" stroke-width="0.8" stroke-linejoin="round"/>
<path d="M1378.1 485.2 L1393.8 492.7 L1378.1 500.3 Z" fill="#000" stroke="#000" stroke-width="0.8" stroke-linejoin="round"/>
<path d="M431.9 620.2 C424 620.6 415 621.2 412.2 625 L412.2 797 C412 800.5 404 801.8 391.6 802.1 C404 802.4 412 803.8 412.2 807.5 L412.2 979.5 C414 983 424 983.6 431.9 983.7" fill="none" stroke="#000" stroke-width="3.6" stroke-linecap="round" stroke-linejoin="round"/>
<g stroke="#000" stroke-width="3.6" stroke-linecap="butt"><line x1="631.8" y1="983.8" x2="405" y2="1102.9"/><line x1="1064.9" y1="983" x2="1293.4" y2="1103.1"/></g>
<g stroke="#000" stroke-width="2.3" fill="none" stroke-linecap="butt">
<path d="M277.6 1177.8 L277.6 1163.2 L546.8 1163.2 L546.8 1177.8"/>
<line x1="321.1" y1="1163.2" x2="321.1" y2="1177.8"/>
<line x1="366.5" y1="1163.2" x2="366.5" y2="1177.8"/>
<line x1="411.5" y1="1163.2" x2="411.5" y2="1177.8"/>
<line x1="456.7" y1="1163.2" x2="456.7" y2="1177.8"/>
<line x1="500.9" y1="1163.2" x2="500.9" y2="1177.8"/>
<path d="M588.8 1177.8 L588.8 1163.2 L678.2 1163.2 L678.2 1177.8"/>
<line x1="633.5" y1="1163.2" x2="633.5" y2="1177.8"/>
<path d="M736.3 1177.8 L736.3 1163.2 L870.2 1163.2 L870.2 1177.8"/>
<line x1="780.1" y1="1163.2" x2="780.1" y2="1177.8"/>
<line x1="825.6" y1="1163.2" x2="825.6" y2="1177.8"/>
<path d="M920.4 1177.8 L920.4 1163.2 L1100.1 1163.2 L1100.1 1177.8"/>
<line x1="964.8" y1="1163.2" x2="964.8" y2="1177.8"/>
<line x1="1009.8" y1="1163.2" x2="1009.8" y2="1177.8"/>
<line x1="1054.8" y1="1163.2" x2="1054.8" y2="1177.8"/>
<path d="M1160.7 1177.8 L1160.7 1163.2 L1430.0 1163.2 L1430.0 1177.8"/>
<line x1="1205.3" y1="1163.2" x2="1205.3" y2="1177.8"/>
<line x1="1250.8" y1="1163.2" x2="1250.8" y2="1177.8"/>
<line x1="1294.8" y1="1163.2" x2="1294.8" y2="1177.8"/>
<line x1="1339.6" y1="1163.2" x2="1339.6" y2="1177.8"/>
<line x1="1384.2" y1="1163.2" x2="1384.2" y2="1177.8"/>
</g>
<path d="M665.5 706.1L837.7 567.7M689.6 706.1L838.2 568.2M689.6 706.1L676.6 706.1M713.6 706.1L710.6 571.8M713.6 706.1L676.6 706.1M737.7 706.1L839.7 569.6M761.7 706.1L714.1 571.2M761.7 706.1L840.7 570.3M761.7 706.1L724.7 706.1M761.7 706.1L798.7 706.1M785.8 706.1L842.0 570.9M785.8 706.1L798.7 706.1M785.8 706.1L822.8 706.1M809.8 706.1L716.7 569.9M809.8 706.1L796.9 706.1M809.8 706.1L822.8 706.1M833.9 706.1L717.6 569.2M833.9 706.1L796.9 706.1M833.9 706.1L820.9 706.1M858.0 706.1L718.3 568.5M858.0 706.1L820.9 706.1M858.0 706.1L895.0 706.1M882.0 706.1L718.9 567.9M882.0 706.1L869.1 706.1M882.0 706.1L919.0 706.1M906.1 706.1L719.3 567.3M906.1 706.1L893.1 706.1M906.1 706.1L943.1 706.1M930.1 706.1L719.7 566.8M930.1 706.1L978.8 571.1M930.1 706.1L917.2 706.1M954.2 706.1L852.9 569.6M954.2 706.1L941.2 706.1M978.2 706.1L853.8 568.9M978.2 706.1L982.3 571.8M978.2 706.1L1015.2 706.1M1002.3 706.1L854.4 568.3M1002.3 706.1L1039.3 706.1M1026.3 706.1L854.9 567.7M1026.3 706.1L989.3 706.1M1050.4 706.1L855.3 567.1M665.5 760.7L685.1 716.3M665.5 760.7L752.1 711.6M665.5 760.7L1039.4 707.7M665.5 760.7L678.5 760.7M689.6 760.7L670.0 716.3M689.6 760.7L730.3 714.4M689.6 760.7L967.3 708.2M713.6 760.7L710.6 571.8M713.6 760.7L694.0 716.3M713.6 760.7L733.2 716.3M713.6 760.7L676.6 760.7M713.6 760.7L726.6 760.7M713.6 760.7L750.6 760.7M737.7 760.7L841.0 570.5M737.7 760.7L674.4 712.8M737.7 760.7L778.4 714.4M737.7 760.7L943.4 708.8M737.7 760.7L750.6 760.7M737.7 760.7L774.7 760.7M761.7 760.7L698.4 712.8M761.7 760.7L848.3 711.6M761.7 760.7L919.6 709.5M761.7 760.7L748.8 760.7M761.7 760.7L798.7 760.7M785.8 760.7L745.0 714.4M785.8 760.7L766.2 716.3M785.8 760.7L919.7 710.0M785.8 760.7L772.8 760.7M785.8 760.7L822.8 760.7M809.8 760.7L675.9 710.0M809.8 760.7L809.8 717.2M809.8 760.7L943.8 710.0M809.8 760.7L772.8 760.7M833.9 760.7L716.2 570.1M833.9 760.7L699.9 710.0M833.9 760.7L747.3 711.6M833.9 760.7L796.9 760.7M858.0 760.7L676.2 709.1M858.0 760.7L794.6 712.8M858.0 760.7L820.9 760.7M882.0 760.7L748.1 710.0M882.0 760.7L841.2 714.4M882.0 760.7L945.3 712.8M906.1 760.7L676.3 708.6M906.1 760.7L819.5 711.6M906.1 760.7L946.8 714.4M906.1 760.7L893.1 760.7M930.1 760.7L724.4 708.8M930.1 760.7L843.5 711.6M930.1 760.7L910.5 716.3M954.2 760.7L748.4 708.8M978.2 760.7L676.4 708.0M978.2 760.7L868.1 710.7M978.2 760.7L937.5 714.4M1002.3 760.7L700.5 708.0M1002.3 760.7L915.7 711.6M1002.3 760.7L961.5 714.4M1026.3 760.7L700.5 707.9M1026.3 760.7L916.2 710.7M1026.3 760.7L1026.3 717.2M1026.3 760.7L989.3 760.7M1050.4 760.7L676.5 707.7M1050.4 760.7L868.6 709.1M1050.4 760.7L940.2 710.7M649.9 870.4L778.7 714.7M649.9 870.4L1016.2 710.5M649.9 870.4L800.7 767.0M649.9 870.4L848.1 765.9M649.9 870.4L670.2 870.4M665.6 870.4L733.2 716.3M665.6 870.4L1016.2 710.7M665.6 870.4L709.2 770.9M665.6 870.4L943.8 764.6M665.6 870.4L1039.7 763.7M681.3 870.4L849.8 713.7M681.3 870.4L801.4 767.9M681.3 870.4L967.8 764.5M681.3 870.4L685.9 870.4M697.0 870.4L780.5 715.9M697.0 870.4L968.6 711.7M697.0 870.4L825.2 767.6M697.0 870.4L848.8 767.0M697.0 870.4L717.4 870.4M712.7 870.4L850.6 714.4M712.7 870.4L968.8 711.9M712.7 870.4L691.9 771.6M712.7 870.4L944.1 765.3M712.7 870.4L1039.8 764.1M712.7 870.4L717.4 870.4M728.5 870.4L945.2 712.6M728.5 870.4L671.0 770.3M728.5 870.4L873.0 767.2M728.5 870.4L723.8 870.4M728.5 870.4L748.8 870.4M744.2 870.4L828.6 715.8M744.2 870.4L1040.6 711.3M744.2 870.4L694.5 770.6M744.2 870.4L850.0 768.4M744.2 870.4L1016.0 764.7M759.9 870.4L716.6 716.8M759.9 870.4L1040.7 711.6M759.9 870.4L783.2 771.5M759.9 870.4L897.2 767.4M775.6 870.4L830.2 716.6M775.6 870.4L763.1 771.7M775.6 870.4L968.5 766.0M775.6 870.4L992.3 765.5M775.6 870.4L739.6 870.4M791.3 870.4L946.4 714.0M791.3 870.4L697.1 768.8M791.3 870.4L898.0 768.4M791.3 870.4L1016.3 765.4M791.3 870.4L755.3 870.4M807.0 870.4L764.7 716.8M807.0 870.4L809.6 771.8M807.0 870.4L898.6 768.9M807.0 870.4L843.1 870.4M822.7 870.4L947.2 714.8M822.7 870.4L1017.7 713.1M822.7 870.4L721.4 768.6M822.7 870.4L854.6 771.3M838.4 870.4L673.5 713.7M838.4 870.4L790.6 770.7M838.4 870.4L900.2 770.1M838.4 870.4L993.1 766.9M838.4 870.4L818.1 870.4M854.2 870.4L948.4 715.6M854.2 870.4L698.8 766.9M854.2 870.4L857.6 771.8M854.2 870.4L1040.7 766.1M854.2 870.4L874.5 870.4M869.9 870.4L926.3 716.5M869.9 870.4L815.2 770.4M869.9 870.4L970.4 768.6M869.9 870.4L833.8 870.4M885.6 870.4L768.4 715.0M885.6 870.4L770.0 768.1M885.6 870.4L860.7 771.5M901.3 870.4L815.2 715.8M901.3 870.4L793.8 768.3M901.3 870.4L994.8 768.9M901.3 870.4L896.7 870.4M917.0 870.4L974.4 716.5M917.0 870.4L770.8 767.1M917.0 870.4L972.8 770.4M917.0 870.4L1041.8 767.8M932.7 870.4L746.2 713.3M932.7 870.4L1020.8 715.7M932.7 870.4L864.2 769.9M932.7 870.4L908.7 771.5M932.7 870.4L953.0 870.4M948.4 870.4L722.7 712.5M948.4 870.4L747.5 765.8M948.4 870.4L953.6 771.8M948.4 870.4L1019.9 769.7M964.1 870.4L770.3 713.1M964.1 870.4L999.8 716.9M964.1 870.4L723.8 765.2M964.1 870.4L976.8 771.7M964.1 870.4L1000.2 870.4M979.9 870.4L955.9 717.1M979.9 870.4L1046.0 716.3M979.9 870.4L842.8 767.4M979.9 870.4L889.4 769.0M979.9 870.4L1044.4 770.0M979.9 870.4L975.2 870.4M995.6 870.4L818.2 713.5M995.6 870.4L1024.3 717.0M995.6 870.4L747.9 765.0M995.6 870.4L935.8 770.2M1011.3 870.4L675.5 710.9M1011.3 870.4L724.0 764.5M1011.3 870.4L981.4 771.3M1011.3 870.4L1003.2 771.8M1027.0 870.4L818.7 712.8M1027.0 870.4L981.4 716.7M1027.0 870.4L724.1 764.4M1027.0 870.4L960.3 769.9M1042.7 870.4L936.4 715.3M1042.7 870.4L772.1 764.7M1042.7 870.4L938.1 768.4M651.9 961.6L968.8 766.5M651.9 961.6L1016.6 765.9M651.9 961.6L664.0 881.4M651.9 961.6L922.2 873.8M651.9 961.6L1031.9 872.9M672.4 961.6L688.6 771.8M672.4 961.6L752.2 878.4M672.4 961.6L891.0 874.5M692.8 961.6L758.1 771.2M692.8 961.6L783.2 877.9M692.8 961.6L906.7 874.6M713.3 961.6L874.9 769.2M713.3 961.6L699.0 881.3M713.3 961.6L891.3 875.2M713.3 961.6L1032.0 873.4M733.7 961.6L1041.8 713.1M733.7 961.6L875.4 769.6M733.7 961.6L1017.2 767.0M733.7 961.6L830.1 877.7M733.7 961.6L938.2 874.7M754.2 961.6L738.4 717.2M754.2 961.6L922.8 769.1M754.2 961.6L993.7 767.7M754.2 961.6L846.0 877.9M754.2 961.6L1000.8 874.1M774.6 961.6L877.7 716.3M774.6 961.6L923.3 769.5M774.6 961.6L832.1 879.5M774.6 961.6L907.7 876.4M774.6 961.6L1032.2 874.0M795.1 961.6L809.0 771.8M795.1 961.6L674.7 876.8M795.1 961.6L969.9 875.3M815.6 961.6L901.5 770.8M815.6 961.6L994.7 768.8M815.6 961.6L705.8 877.2M815.6 961.6L1016.8 874.8M836.0 961.6L834.0 717.2M836.0 961.6L696.1 769.7M836.0 961.6L767.0 878.9M836.0 961.6L909.6 878.7M836.0 961.6L1032.5 874.9M856.5 961.6L673.1 768.7M856.5 961.6L768.0 878.0M856.5 961.6L1001.7 876.0M876.9 961.6L881.8 717.2M876.9 961.6L859.0 771.8M876.9 961.6L706.9 875.4M876.9 961.6L856.8 881.2M897.4 961.6L928.3 771.7M897.4 961.6L997.2 770.5M897.4 961.6L738.2 875.7M897.4 961.6L1017.9 876.8M897.4 961.6L1033.3 876.3M917.9 961.6L906.7 771.8M917.9 961.6L998.0 770.9M917.9 961.6L845.7 878.8M917.9 961.6L959.1 880.3M917.9 961.6L1033.7 876.9M938.3 961.6L697.3 714.1M938.3 961.6L862.1 771.0M938.3 961.6L660.5 873.7M938.3 961.6L975.3 880.5M958.8 961.6L908.3 717.0M958.8 961.6L908.9 771.4M958.8 961.6L785.5 875.3M958.8 961.6L921.6 880.5M979.2 961.6L862.7 716.1M979.2 961.6L886.8 770.7M979.2 961.6L801.3 875.2M979.2 961.6L923.3 879.6M999.7 961.6L817.5 768.8M999.7 961.6L979.4 771.7M999.7 961.6L707.7 873.6M999.7 961.6L924.5 878.6M1020.1 961.6L770.5 767.5M1020.1 961.6L786.0 874.3M1020.1 961.6L998.5 881.1M1020.1 961.6L1040.0 881.2M1040.6 961.6L887.9 715.5M1040.6 961.6L818.2 768.0M1040.6 961.6L660.7 872.9M1040.6 961.6L895.1 876.0" fill="none" stroke="#000" stroke-opacity="0.42" stroke-width="0.9"/>
<path d="M856.3 557.5C886.3 544.7 914.0 541.7 913.0 560.7C912.0 576.7 882.3 574.7 852.3 562.2" fill="none" stroke="#000" stroke-opacity="0.35" stroke-width="1.0"/><path d="M852.3 559.5L855.8 556.2L857.2 559.5Z" fill="#000"/>
<path d="M841.5 564.5L838.9 569.2L836.4 566.1ZM841.8 564.8L839.5 569.7L836.8 566.8ZM671.6 706.1L676.6 704.1L676.6 708.1ZM710.5 566.8L712.6 571.8L708.6 571.8ZM671.6 706.1L676.6 704.1L676.6 708.1ZM842.6 565.6L841.3 570.8L838.1 568.4ZM712.4 566.5L716.0 570.5L712.2 571.8ZM843.2 566.0L842.4 571.3L839.0 569.3ZM719.7 706.1L724.7 704.1L724.7 708.1ZM803.7 706.1L798.7 708.1L798.7 704.1ZM844.0 566.3L843.9 571.7L840.2 570.2ZM803.7 706.1L798.7 708.1L798.7 704.1ZM827.8 706.1L822.8 708.1L822.8 704.1ZM713.8 565.7L718.3 568.7L715.0 571.0ZM791.9 706.1L796.9 704.1L796.9 708.1ZM827.8 706.1L822.8 708.1L822.8 704.1ZM714.3 565.3L719.1 567.9L716.1 570.5ZM791.9 706.1L796.9 704.1L796.9 708.1ZM815.9 706.1L820.9 704.1L820.9 708.1ZM714.7 565.0L719.7 567.1L716.9 569.9ZM815.9 706.1L820.9 704.1L820.9 708.1ZM900.0 706.1L895.0 708.1L895.0 704.1ZM715.1 564.6L720.2 566.3L717.6 569.4ZM864.1 706.1L869.1 704.1L869.1 708.1ZM924.0 706.1L919.0 708.1L919.0 704.1ZM715.3 564.3L720.5 565.7L718.1 568.9ZM888.1 706.1L893.1 704.1L893.1 708.1ZM948.1 706.1L943.1 708.1L943.1 704.1ZM715.5 564.1L720.8 565.2L718.6 568.5ZM980.5 566.4L980.7 571.8L977.0 570.5ZM912.2 706.1L917.2 704.1L917.2 708.1ZM849.9 565.6L854.5 568.4L851.3 570.8ZM936.2 706.1L941.2 704.1L941.2 708.1ZM850.4 565.2L855.2 567.6L852.3 570.3ZM982.4 566.8L984.3 571.9L980.3 571.7ZM1020.2 706.1L1015.2 708.1L1015.2 704.1ZM850.8 564.9L855.8 566.8L853.1 569.7ZM1044.3 706.1L1039.3 708.1L1039.3 704.1ZM851.0 564.5L856.2 566.1L853.7 569.2ZM984.3 706.1L989.3 704.1L989.3 708.1ZM851.3 564.2L856.5 565.5L854.2 568.8ZM687.1 711.7L686.9 717.1L683.3 715.5ZM756.4 709.1L753.1 713.3L751.1 709.8ZM1044.4 707.0L1039.7 709.6L1039.1 705.7ZM683.5 760.7L678.5 762.7L678.5 758.7ZM668.0 711.7L671.8 715.5L668.1 717.1ZM733.6 710.7L731.8 715.8L728.8 713.1ZM972.2 707.2L967.7 710.1L967.0 706.2ZM710.5 566.8L712.6 571.8L708.6 571.8ZM692.0 711.7L695.9 715.5L692.2 717.1ZM735.2 711.7L735.0 717.1L731.4 715.5ZM671.6 760.7L676.6 758.7L676.6 762.7ZM731.6 760.7L726.6 762.7L726.6 758.7ZM755.6 760.7L750.6 762.7L750.6 758.7ZM843.4 566.1L842.8 571.4L839.2 569.5ZM670.4 709.8L675.6 711.2L673.1 714.4ZM781.7 710.7L779.9 715.8L776.9 713.1ZM948.3 707.6L943.9 710.8L942.9 706.9ZM755.6 760.7L750.6 762.7L750.6 758.7ZM779.7 760.7L774.7 762.7L774.7 758.7ZM694.4 709.8L699.6 711.2L697.2 714.4ZM852.6 709.1L849.3 713.3L847.3 709.8ZM924.3 708.0L920.2 711.4L918.9 707.6ZM743.8 760.7L748.8 758.7L748.8 762.7ZM803.7 760.7L798.7 762.7L798.7 758.7ZM741.7 710.7L746.5 713.1L743.5 715.8ZM764.2 711.7L768.0 715.5L764.4 717.1ZM924.4 708.3L920.4 711.9L919.0 708.2ZM767.8 760.7L772.8 758.7L772.8 762.7ZM827.8 760.7L822.8 762.7L822.8 758.7ZM671.2 708.3L676.6 708.2L675.2 711.9ZM809.8 712.2L811.8 717.2L807.8 717.2ZM948.5 708.3L944.5 711.9L943.1 708.2ZM767.8 760.7L772.8 758.7L772.8 762.7ZM713.6 565.9L717.9 569.1L714.5 571.2ZM695.3 708.3L700.6 708.2L699.2 711.9ZM743.0 709.1L748.3 709.8L746.3 713.3ZM791.9 760.7L796.9 758.7L796.9 762.7ZM671.4 707.8L676.7 707.2L675.6 711.1ZM790.6 709.8L795.8 711.2L793.4 714.4ZM815.9 760.7L820.9 758.7L820.9 762.7ZM743.4 708.3L748.8 708.2L747.3 711.9ZM837.9 710.7L842.7 713.1L839.7 715.8ZM949.3 709.8L946.5 714.4L944.1 711.2ZM671.4 707.5L676.8 706.6L675.9 710.5ZM815.1 709.1L820.5 709.8L818.5 713.3ZM950.1 710.7L948.3 715.8L945.3 713.1ZM888.1 760.7L893.1 758.7L893.1 762.7ZM719.5 707.6L724.9 706.9L723.9 710.8ZM839.2 709.1L844.5 709.8L842.6 713.3ZM908.5 711.7L912.4 715.5L908.7 717.1ZM743.6 707.6L748.9 706.9L747.9 710.8ZM671.5 707.1L676.8 706.0L676.1 710.0ZM863.5 708.6L868.9 708.9L867.2 712.5ZM934.2 710.7L939.0 713.1L936.0 715.8ZM695.6 707.1L700.8 706.0L700.1 710.0ZM911.4 709.1L916.7 709.8L914.7 713.3ZM958.2 710.7L963.0 713.1L960.0 715.8ZM695.6 707.1L700.8 705.9L700.2 709.9ZM911.6 708.6L917.0 708.9L915.3 712.5ZM1026.3 712.2L1028.3 717.2L1024.3 717.2ZM984.3 760.7L989.3 758.7L989.3 762.7ZM671.5 707.0L676.8 705.7L676.2 709.6ZM863.8 707.8L869.2 707.2L868.1 711.1ZM935.7 708.6L941.1 708.9L939.4 712.5ZM781.9 710.8L780.2 715.9L777.2 713.4ZM1020.8 708.5L1017.0 712.4L1015.4 708.7ZM804.8 764.2L801.8 768.6L799.6 765.3ZM852.6 763.5L849.1 767.6L847.2 764.1ZM675.2 870.4L670.2 872.4L670.2 868.4ZM735.2 711.7L735.0 717.1L731.4 715.5ZM1020.8 708.6L1017.1 712.5L1015.4 708.9ZM711.2 766.3L711.0 771.7L707.3 770.1ZM948.5 762.9L944.5 766.5L943.1 762.8ZM1044.5 762.4L1040.3 765.7L1039.2 761.8ZM853.5 710.3L851.2 715.1L848.5 712.2ZM805.2 764.7L802.7 769.4L800.1 766.4ZM972.5 762.8L968.5 766.4L967.1 762.7ZM690.9 870.4L685.9 872.4L685.9 868.4ZM782.9 711.5L782.3 716.8L778.7 714.9ZM973.0 709.2L969.7 713.4L967.6 710.0ZM829.1 764.5L826.5 769.2L824.0 766.1ZM852.9 764.1L849.9 768.6L847.7 765.3ZM722.4 870.4L717.4 872.4L717.4 868.4ZM853.9 710.7L852.1 715.7L849.1 713.1ZM973.0 709.3L969.8 713.6L967.7 710.2ZM690.8 766.7L693.8 771.1L689.9 772.0ZM948.6 763.2L944.9 767.1L943.2 763.5ZM1044.6 762.6L1040.5 766.0L1039.2 762.2ZM722.4 870.4L717.4 872.4L717.4 868.4ZM949.2 709.7L946.4 714.2L944.0 711.0ZM668.5 766.0L672.8 769.3L669.3 771.3ZM877.0 764.2L874.1 768.8L871.8 765.5ZM718.8 870.4L723.8 868.4L723.8 872.4ZM753.8 870.4L748.8 872.4L748.8 868.4ZM831.0 711.5L830.3 716.8L826.8 714.9ZM1045.0 709.0L1041.6 713.1L1039.7 709.6ZM692.3 766.2L696.3 769.7L692.7 771.5ZM853.6 764.9L851.3 769.8L848.6 767.0ZM1020.7 762.9L1016.7 766.6L1015.3 762.9ZM715.3 712.0L718.5 716.2L714.7 717.3ZM1045.1 709.1L1041.7 713.3L1039.8 709.8ZM784.4 766.6L785.2 772.0L781.3 771.0ZM901.2 764.4L898.4 769.0L896.0 765.8ZM831.9 711.8L832.1 717.2L828.3 715.9ZM762.5 766.8L765.1 771.5L761.1 772.0ZM972.9 763.6L969.4 767.7L967.5 764.2ZM996.8 763.4L993.2 767.3L991.4 763.7ZM734.6 870.4L739.6 868.4L739.6 872.4ZM949.9 710.4L947.8 715.4L944.9 712.6ZM693.7 765.2L698.6 767.5L695.6 770.2ZM901.7 764.9L899.4 769.8L896.7 766.9ZM1020.8 763.3L1017.1 767.2L1015.4 763.6ZM750.3 870.4L755.3 868.4L755.3 872.4ZM763.3 712.0L766.6 716.3L762.7 717.3ZM809.7 766.8L811.6 771.8L807.6 771.7ZM902.0 765.2L900.1 770.3L897.1 767.6ZM848.1 870.4L843.1 872.4L843.1 868.4ZM950.4 710.9L948.8 716.0L945.7 713.5ZM1021.6 709.9L1019.0 714.6L1016.4 711.5ZM717.9 765.0L722.9 767.2L720.0 770.0ZM856.1 766.5L856.5 771.9L852.7 770.7ZM669.9 710.3L674.9 712.3L672.2 715.2ZM788.4 766.2L792.4 769.8L788.8 771.6ZM902.9 765.9L901.9 771.2L898.5 769.1ZM997.2 764.1L994.2 768.5L992.0 765.2ZM813.1 870.4L818.1 868.4L818.1 872.4ZM951.0 711.3L950.1 716.6L946.7 714.5ZM694.6 764.1L699.9 765.2L697.7 768.5ZM857.7 766.8L859.6 771.9L855.6 771.7ZM1045.1 763.7L1041.7 767.9L1039.7 764.4ZM879.5 870.4L874.5 872.4L874.5 868.4ZM928.0 711.8L928.2 717.2L924.4 715.8ZM812.8 766.1L816.9 769.5L813.4 771.4ZM973.9 765.0L971.9 770.0L969.0 767.2ZM828.8 870.4L833.8 868.4L833.8 872.4ZM765.4 711.0L770.0 713.8L766.8 716.2ZM766.3 764.7L771.4 766.6L768.7 769.6ZM859.4 766.6L862.6 771.0L858.7 772.0ZM812.8 711.4L817.0 714.8L813.5 716.8ZM790.2 764.9L795.2 766.9L792.5 769.8ZM998.2 765.2L996.2 770.2L993.3 767.5ZM891.7 870.4L896.7 868.4L896.7 872.4ZM976.1 711.8L976.2 717.2L972.5 715.8ZM766.7 764.2L771.9 765.5L769.6 768.7ZM975.3 766.0L974.6 771.4L971.1 769.4ZM1045.7 764.6L1043.1 769.3L1040.6 766.2ZM742.3 710.0L747.4 711.7L744.9 714.8ZM1023.3 711.4L1022.6 716.7L1019.1 714.8ZM861.4 765.7L865.9 768.7L862.5 771.0ZM907.5 766.6L910.6 771.0L906.7 772.0ZM958.0 870.4L953.0 872.4L953.0 868.4ZM718.6 709.6L723.9 710.8L721.6 714.1ZM743.1 763.5L748.4 764.1L746.6 767.6ZM953.9 766.8L955.6 771.9L951.6 771.7ZM1022.8 765.7L1021.5 770.9L1018.3 768.6ZM766.5 709.9L771.6 711.5L769.1 714.6ZM1000.9 712.0L1001.7 717.4L997.8 716.5ZM719.2 763.1L724.6 763.3L723.0 767.0ZM977.5 766.8L978.8 772.0L974.8 771.5ZM1005.2 870.4L1000.2 872.4L1000.2 868.4ZM955.1 712.1L957.9 716.8L953.9 717.4ZM1048.0 711.7L1047.9 717.1L1044.2 715.5ZM838.8 764.4L844.0 765.8L841.6 769.0ZM886.1 765.3L890.9 767.7L887.9 770.3ZM1047.1 765.8L1046.1 771.1L1042.7 769.0ZM970.2 870.4L975.2 868.4L975.2 872.4ZM814.4 710.1L819.5 712.0L816.8 715.0ZM1025.2 712.1L1026.3 717.4L1022.3 716.6ZM743.3 763.1L748.7 763.2L747.1 766.9ZM933.2 765.9L937.5 769.2L934.1 771.3ZM671.0 708.7L676.4 709.1L674.7 712.7ZM719.3 762.8L724.7 762.7L723.3 766.4ZM980.0 766.5L983.3 770.8L979.5 771.9ZM1002.8 766.8L1005.2 771.6L1001.2 771.9ZM814.7 709.8L819.9 711.2L817.5 714.4ZM980.0 711.9L983.3 716.2L979.5 717.3ZM719.4 762.7L724.7 762.5L723.4 766.3ZM957.5 765.8L962.0 768.8L958.6 771.1ZM933.6 711.1L938.0 714.1L934.7 716.4ZM767.4 762.9L772.8 762.9L771.3 766.6ZM934.5 765.0L939.5 767.0L936.7 769.9ZM973.0 763.9L969.8 768.2L967.7 764.8ZM1021.0 763.6L1017.5 767.7L1015.6 764.2ZM664.7 876.4L665.9 881.7L662.0 881.1ZM926.9 872.3L922.8 875.7L921.5 871.9ZM1036.8 871.8L1032.3 874.9L1031.4 871.0ZM689.0 766.8L690.6 771.9L686.6 771.6ZM755.7 874.8L753.6 879.8L750.8 877.0ZM895.6 872.7L891.7 876.4L890.2 872.6ZM759.7 766.5L760.0 771.8L756.2 770.6ZM786.8 874.5L784.5 879.4L781.8 876.5ZM911.4 872.7L907.5 876.4L906.0 872.7ZM878.1 765.4L876.4 770.5L873.3 767.9ZM698.1 876.4L701.0 881.0L697.0 881.7ZM895.8 873.1L892.2 877.0L890.4 873.4ZM1036.8 872.0L1032.5 875.3L1031.5 871.4ZM1045.7 709.9L1043.0 714.6L1040.5 711.5ZM878.4 765.6L877.0 770.8L873.8 768.4ZM1021.3 764.2L1018.3 768.6L1016.1 765.3ZM833.8 874.4L831.4 879.2L828.8 876.2ZM942.8 872.8L939.0 876.6L937.4 872.9ZM738.1 712.2L740.4 717.0L736.4 717.3ZM926.1 765.3L924.3 770.4L921.3 767.7ZM997.5 764.5L994.9 769.2L992.4 766.1ZM849.6 874.5L847.3 879.4L844.6 876.4ZM1005.5 872.4L1001.5 876.0L1000.1 872.2ZM879.6 711.7L879.6 717.1L875.9 715.6ZM926.4 765.5L924.9 770.7L921.7 768.3ZM834.9 875.4L833.7 880.6L830.4 878.3ZM911.9 873.7L908.7 878.1L906.6 874.7ZM1036.9 872.4L1032.8 875.9L1031.5 872.1ZM809.4 766.8L811.0 771.9L807.0 771.6ZM670.6 873.9L675.8 875.2L673.5 878.4ZM974.4 873.1L970.8 877.1L969.0 873.5ZM903.6 766.3L903.3 771.6L899.7 770.0ZM998.1 765.2L996.2 770.2L993.3 767.5ZM701.9 874.1L707.1 875.6L704.6 878.8ZM1021.4 872.8L1017.6 876.6L1016.0 873.0ZM833.9 712.2L836.0 717.2L832.0 717.2ZM693.1 765.6L697.7 768.5L694.5 770.8ZM763.8 875.1L768.5 877.6L765.5 880.2ZM913.0 875.0L911.1 880.0L908.1 877.4ZM1037.1 872.9L1033.4 876.7L1031.7 873.1ZM669.7 765.1L674.6 767.4L671.7 770.1ZM764.3 874.6L769.3 876.6L766.6 879.5ZM1006.0 873.5L1002.7 877.8L1000.7 874.3ZM881.9 712.2L883.8 717.2L879.8 717.2ZM858.5 766.8L861.0 771.6L857.0 771.9ZM702.5 873.2L707.8 873.6L706.0 877.2ZM855.6 876.3L858.8 880.7L854.9 881.7ZM929.1 766.7L930.3 772.0L926.4 771.3ZM999.5 766.1L998.9 771.5L995.4 769.6ZM733.8 873.3L739.2 873.9L737.3 877.4ZM1022.0 873.9L1019.1 878.4L1016.8 875.2ZM1037.5 873.6L1034.4 878.0L1032.2 874.6ZM906.4 766.8L908.7 771.7L904.7 771.9ZM999.9 766.3L999.8 771.7L996.1 770.2ZM842.4 875.0L847.2 877.5L844.2 880.1ZM961.4 875.8L960.9 881.2L957.3 879.4ZM1037.8 874.0L1034.9 878.6L1032.6 875.3ZM693.8 710.5L698.7 712.7L695.9 715.4ZM860.2 766.4L863.9 770.3L860.2 771.7ZM655.7 872.2L661.1 871.8L659.9 875.7ZM977.3 876.0L977.1 881.3L973.4 879.7ZM907.3 712.1L910.3 716.6L906.3 717.4ZM907.6 766.6L910.8 770.9L906.9 771.9ZM781.1 873.1L786.4 873.6L784.6 877.1ZM919.5 875.9L923.4 879.7L919.8 881.3ZM860.6 711.6L864.5 715.3L860.9 717.0ZM884.7 766.2L888.6 769.8L885.0 771.6ZM796.8 873.1L802.2 873.4L800.4 877.0ZM920.4 875.4L924.9 878.4L921.6 880.7ZM814.0 765.1L818.9 767.4L816.0 770.1ZM978.9 766.8L981.4 771.5L977.4 771.9ZM702.9 872.2L708.2 871.7L707.1 875.5ZM921.1 874.9L925.9 877.3L923.0 880.0ZM766.5 764.4L771.7 765.9L769.3 769.1ZM781.3 872.5L786.7 872.4L785.3 876.2ZM997.2 876.3L1000.4 880.6L996.5 881.6ZM1041.2 876.3L1042.0 881.7L1038.1 880.7ZM885.2 711.3L889.6 714.5L886.2 716.6ZM814.4 764.7L819.5 766.5L816.9 769.5ZM655.8 871.8L661.2 871.0L660.3 874.9ZM890.8 873.5L896.2 874.3L894.1 877.8Z" fill="#000" stroke="none"/>
<g><circle cx="710.4" cy="560.7" r="6.1" fill="#ff0000"/><circle cx="846.3" cy="560.7" r="6.1" fill="#ff0000"/><circle cx="982.6" cy="560.7" r="6.1" fill="#ff0000"/><circle cx="665.5" cy="706.1" r="6.1" fill="#ff0000"/><circle cx="689.6" cy="706.1" r="6.1" fill="#ff0000"/><circle cx="713.6" cy="706.1" r="6.1" fill="#ff0000"/><circle cx="737.7" cy="706.1" r="6.1" fill="#ff0000"/><circle cx="761.7" cy="706.1" r="6.1" fill="#ff0000"/><circle cx="785.8" cy="706.1" r="6.1" fill="#ff0000"/><circle cx="809.8" cy="706.1" r="6.1" fill="#ff0000"/><circle cx="833.9" cy="706.1" r="6.1" fill="#10e010"/><circle cx="858.0" cy="706.1" r="6.1" fill="#ff0000"/><circle cx="882.0" cy="706.1" r="6.1" fill="#ff0000"/><circle cx="906.1" cy="706.1" r="6.1" fill="#ff0000"/><circle cx="930.1" cy="706.1" r="6.1" fill="#ff0000"/><circle cx="954.2" cy="706.1" r="6.1" fill="#ff0000"/><circle cx="978.2" cy="706.1" r="6.1" fill="#ff0000"/><circle cx="1002.3" cy="706.1" r="6.1" fill="#ff0000"/><circle cx="1026.3" cy="706.1" r="6.1" fill="#ff0000"/><circle cx="1050.4" cy="706.1" r="6.1" fill="#ff0000"/><circle cx="665.5" cy="760.7" r="6.1" fill="#ff0000"/><circle cx="689.6" cy="760.7" r="6.1" fill="#ff0000"/><circle cx="713.6" cy="760.7" r="6.1" fill="#ff0000"/><circle cx="737.7" cy="760.7" r="6.1" fill="#ff0000"/><circle cx="761.7" cy="760.7" r="6.1" fill="#ff0000"/><circle cx="785.8" cy="760.7" r="6.1" fill="#ff0000"/><circle cx="809.8" cy="760.7" r="6.1" fill="#ff0000"/><circle cx="833.9" cy="760.7" r="6.1" fill="#ff0000"/><circle cx="858.0" cy="760.7" r="6.1" fill="#ff0000"/><circle cx="882.0" cy="760.7" r="6.1" fill="#ff0000"/><circle cx="906.1" cy="760.7" r="6.1" fill="#ff0000"/><circle cx="930.1" cy="760.7" r="6.1" fill="#ff0000"/><circle cx="954.2" cy="760.7" r="6.1" fill="#ff0000"/><circle cx="978.2" cy="760.7" r="6.1" fill="#ff0000"/><circle cx="1002.3" cy="760.7" r="6.1" fill="#ff0000"/><circle cx="1026.3" cy="760.7" r="6.1" fill="#ff0000"/><circle cx="1050.4" cy="760.7" r="6.1" fill="#ff0000"/><circle cx="649.9" cy="870.4" r="6.1" fill="#ff0000"/><circle cx="665.6" cy="870.4" r="6.1" fill="#ff0000"/><circle cx="681.3" cy="870.4" r="6.1" fill="#ff0000"/><circle cx="697.0" cy="870.4" r="6.1" fill="#ff0000"/><circle cx="712.7" cy="870.4" r="6.1" fill="#ff0000"/><circle cx="728.5" cy="870.4" r="6.1" fill="#ff0000"/><circle cx="744.2" cy="870.4" r="6.1" fill="#ff0000"/><circle cx="759.9" cy="870.4" r="6.1" fill="#ff0000"/><circle cx="775.6" cy="870.4" r="6.1" fill="#ff0000"/><circle cx="791.3" cy="870.4" r="6.1" fill="#ff0000"/><circle cx="807.0" cy="870.4" r="6.1" fill="#ff0000"/><circle cx="822.7" cy="870.4" r="6.1" fill="#ff0000"/><circle cx="838.4" cy="870.4" r="6.1" fill="#ff0000"/><circle cx="854.2" cy="870.4" r="6.1" fill="#ff0000"/><circle cx="869.9" cy="870.4" r="6.1" fill="#ff0000"/><circle cx="885.6" cy="870.4" r="6.1" fill="#ff0000"/><circle cx="901.3" cy="870.4" r="6.1" fill="#ff0000"/><circle cx="917.0" cy="870.4" r="6.1" fill="#ff0000"/><circle cx="932.7" cy="870.4" r="6.1" fill="#ff0000"/><circle cx="948.4" cy="870.4" r="6.1" fill="#ff0000"/><circle cx="964.1" cy="870.4" r="6.1" fill="#ff0000"/><circle cx="979.9" cy="870.4" r="6.1" fill="#ff0000"/><circle cx="995.6" cy="870.4" r="6.1" fill="#ff0000"/><circle cx="1011.3" cy="870.4" r="6.1" fill="#ff0000"/><circle cx="1027.0" cy="870.4" r="6.1" fill="#ff0000"/><circle cx="1042.7" cy="870.4" r="6.1" fill="#ff0000"/><circle cx="651.9" cy="961.6" r="6.1" fill="#ff0000"/><circle cx="672.4" cy="961.6" r="6.1" fill="#ff0000"/><circle cx="692.8" cy="961.6" r="6.1" fill="#ff0000"/><circle cx="713.3" cy="961.6" r="6.1" fill="#ff0000"/><circle cx="733.7" cy="961.6" r="6.1" fill="#ff0000"/><circle cx="754.2" cy="961.6" r="6.1" fill="#ff0000"/><circle cx="774.6" cy="961.6" r="6.1" fill="#ff0000"/><circle cx="795.1" cy="961.6" r="6.1" fill="#ff0000"/><circle cx="815.6" cy="961.6" r="6.1" fill="#ff0000"/><circle cx="836.0" cy="961.6" r="6.1" fill="#ff0000"/><circle cx="856.5" cy="961.6" r="6.1" fill="#ff0000"/><circle cx="876.9" cy="961.6" r="6.1" fill="#ff0000"/><circle cx="897.4" cy="961.6" r="6.1" fill="#ff0000"/><circle cx="917.9" cy="961.6" r="6.1" fill="#ff0000"/><circle cx="938.3" cy="961.6" r="6.1" fill="#ff0000"/><circle cx="958.8" cy="961.6" r="6.1" fill="#ff0000"/><circle cx="979.2" cy="961.6" r="6.1" fill="#ff0000"/><circle cx="999.7" cy="961.6" r="6.1" fill="#ff0000"/><circle cx="1020.1" cy="961.6" r="6.1" fill="#ff0000"/><circle cx="1040.6" cy="961.6" r="6.1" fill="#ff0000"/></g>
<g font-family="Liberation Serif, serif" font-size="7.5" fill="#2a0f85" text-anchor="middle"><text x="710.4" y="563.1">101</text><text x="846.3" y="563.1">98</text><text x="982.6" y="563.1">99</text><text x="665.5" y="708.5">94</text><text x="689.6" y="708.5">89</text><text x="713.6" y="708.5">79</text><text x="737.7" y="708.5">69</text><text x="761.7" y="708.5">59</text><text x="785.8" y="708.5">48</text><text x="809.8" y="708.5">40</text><text x="833.9" y="708.5">27</text><text x="858.0" y="708.5">34</text><text x="882.0" y="708.5">43</text><text x="906.1" y="708.5">53</text><text x="930.1" y="708.5">56</text><text x="954.2" y="708.5">67</text><text x="978.2" y="708.5">73</text><text x="1002.3" y="708.5">85</text><text x="1026.3" y="708.5">92</text><text x="1050.4" y="708.5">97</text><text x="665.5" y="763.1">93</text><text x="689.6" y="763.1">88</text><text x="713.6" y="763.1">78</text><text x="737.7" y="763.1">68</text><text x="761.7" y="763.1">58</text><text x="785.8" y="763.1">45</text><text x="809.8" y="763.1">38</text><text x="833.9" y="763.1">15</text><text x="858.0" y="763.1">29</text><text x="882.0" y="763.1">41</text><text x="906.1" y="763.1">50</text><text x="930.1" y="763.1">55</text><text x="954.2" y="763.1">61</text><text x="978.2" y="763.1">72</text><text x="1002.3" y="763.1">80</text><text x="1026.3" y="763.1">90</text><text x="1050.4" y="763.1">96</text><text x="649.9" y="872.8">91</text><text x="665.6" y="872.8">76</text><text x="681.3" y="872.8">74</text><text x="697.0" y="872.8">66</text><text x="712.7" y="872.8">60</text><text x="728.5" y="872.8">51</text><text x="744.2" y="872.8">47</text><text x="759.9" y="872.8">39</text><text x="775.6" y="872.8">33</text><text x="791.3" y="872.8">28</text><text x="807.0" y="872.8">20</text><text x="822.7" y="872.8">17</text><text x="838.4" y="872.8">14</text><text x="854.2" y="872.8">16</text><text x="869.9" y="872.8">19</text><text x="885.6" y="872.8">25</text><text x="901.3" y="872.8">32</text><text x="917.0" y="872.8">35</text><text x="932.7" y="872.8">44</text><text x="948.4" y="872.8">49</text><text x="964.1" y="872.8">54</text><text x="979.9" y="872.8">65</text><text x="995.6" y="872.8">70</text><text x="1011.3" y="872.8">75</text><text x="1027.0" y="872.8">82</text><text x="1042.7" y="872.8">100</text><text x="651.9" y="964.0">87</text><text x="672.4" y="964.0">84</text><text x="692.8" y="964.0">46</text><text x="713.3" y="964.0">36</text><text x="733.7" y="964.0">21</text><text x="754.2" y="964.0">12</text><text x="774.6" y="964.0">9</text><text x="795.1" y="964.0">5</text><text x="815.6" y="964.0">3</text><text x="836.0" y="964.0">1</text><text x="856.5" y="964.0">2</text><text x="876.9" y="964.0">4</text><text x="897.4" y="964.0">6</text><text x="917.9" y="964.0">10</text><text x="938.3" y="964.0">11</text><text x="958.8" y="964.0">13</text><text x="979.2" y="964.0">22</text><text x="999.7" y="964.0">37</text><text x="1020.1" y="964.0">52</text><text x="1040.6" y="964.0">86</text></g>
<path d="M1371.7 705.6L1542.3 568.0M1371.7 705.6L1390.5 705.6M1401.6 705.6L1542.9 568.7M1401.6 705.6L1382.8 705.6M1431.4 705.6L1543.8 569.6M1431.4 705.6L1382.8 705.6M1431.4 705.6L1450.2 705.6M1461.3 705.6L1420.5 571.6M1461.3 705.6L1509.9 705.6M1491.1 705.6L1422.3 570.9M1521.0 705.6L1423.8 570.0M1521.0 705.6L1539.8 705.6M1580.7 705.6L1425.6 568.4M1580.7 705.6L1599.5 705.6M1580.7 705.6L1629.3 705.6M1610.6 705.6L1426.2 567.6M1640.4 705.6L1426.6 567.0M1640.4 705.6L1681.9 571.6M1670.3 705.6L1558.0 569.6M1670.3 705.6L1651.5 705.6M1700.1 705.6L1558.9 568.7M1700.1 705.6L1651.5 705.6M1730.0 705.6L1559.5 568.0M1730.0 705.6L1711.2 705.6M1371.7 760.0L1481.0 710.2M1371.7 760.0L1540.2 708.8M1371.7 760.0L1599.7 708.1M1371.7 760.0L1689.2 707.4M1371.7 760.0L1420.3 760.0M1401.6 760.0L1401.6 716.7M1401.6 760.0L1570.1 708.8M1401.6 760.0L1719.0 707.4M1431.4 760.0L1482.9 713.1M1431.4 760.0L1659.5 708.1M1431.4 760.0L1719.1 707.6M1461.3 760.0L1381.2 711.4M1461.3 760.0L1570.6 710.2M1461.3 760.0L1659.5 708.4M1461.3 760.0L1689.3 708.1M1461.3 760.0L1480.0 760.0M1491.1 760.0L1411.0 711.4M1491.1 760.0L1542.6 713.1M1491.1 760.0L1571.2 711.4M1491.1 760.0L1659.7 708.8M1491.1 760.0L1442.5 760.0M1521.0 760.0L1496.5 715.3M1521.0 760.0L1521.0 716.7M1521.0 760.0L1630.3 710.2M1521.0 760.0L1689.5 708.8M1521.0 760.0L1719.3 708.4M1521.0 760.0L1539.7 760.0M1521.0 760.0L1718.8 760.0M1550.8 760.0L1382.3 708.8M1550.8 760.0L1526.3 715.3M1550.8 760.0L1575.4 715.3M1550.8 760.0L1689.7 709.4M1550.8 760.0L1719.4 708.8M1550.8 760.0L1718.8 760.0M1580.7 760.0L1412.2 708.8M1580.7 760.0L1580.7 716.7M1580.7 760.0L1605.2 715.3M1580.7 760.0L1690.0 710.2M1580.7 760.0L1561.9 760.0M1580.7 760.0L1599.4 760.0M1610.5 760.0L1471.7 709.4M1610.5 760.0L1501.2 710.2M1610.5 760.0L1586.0 715.3M1610.5 760.0L1662.1 713.1M1610.5 760.0L1629.3 760.0M1610.5 760.0L1659.1 760.0M1640.4 760.0L1471.9 708.8M1640.4 760.0L1531.1 710.2M1640.4 760.0L1588.9 713.1M1640.4 760.0L1691.9 713.1M1670.2 760.0L1472.0 708.4M1670.2 760.0L1561.0 710.2M1670.2 760.0L1590.2 711.4M1670.2 760.0L1721.8 713.1M1670.2 760.0L1621.6 760.0M1670.2 760.0L1651.5 760.0M1670.2 760.0L1718.8 760.0M1700.1 760.0L1472.1 708.1M1700.1 760.0L1590.8 710.2M1700.1 760.0L1648.6 713.1M1700.1 760.0L1700.1 716.7M1700.1 760.0L1651.5 760.0M1700.1 760.0L1681.3 760.0M1700.1 760.0L1718.8 760.0M1729.9 760.0L1472.2 707.8M1729.9 760.0L1502.0 708.1M1729.9 760.0L1649.9 711.4M1729.9 760.0L1678.5 713.1M1729.9 760.0L1705.5 715.3M1729.9 760.0L1681.3 760.0M1729.9 760.0L1748.7 760.0M1759.8 760.0L1442.4 707.4M1759.8 760.0L1531.8 708.1M1759.8 760.0L1679.8 711.4M1759.8 760.0L1708.3 713.1M1361.5 869.5L1427.1 715.8M1361.5 869.5L1397.7 770.4M1361.5 869.5L1719.3 763.2M1361.5 869.5L1372.8 869.5M1383.9 869.5L1428.3 716.3M1383.9 869.5L1631.1 711.6M1383.9 869.5L1454.9 769.1M1383.9 869.5L1719.4 763.3M1383.9 869.5L1417.5 869.5M1406.2 869.5L1374.0 716.5M1406.2 869.5L1720.1 710.6M1406.2 869.5L1484.3 768.8M1406.2 869.5L1571.3 765.9M1428.6 869.5L1431.2 716.7M1428.6 869.5L1376.8 769.9M1428.6 869.5L1689.8 764.2M1428.6 869.5L1719.5 763.8M1428.6 869.5L1439.8 869.5M1450.9 869.5L1460.6 716.7M1450.9 869.5L1460.2 771.1M1450.9 869.5L1543.3 768.2M1473.3 869.5L1489.9 716.6M1473.3 869.5L1435.4 770.4M1473.3 869.5L1462.5 771.0M1473.3 869.5L1749.4 764.0M1473.3 869.5L1439.7 869.5M1495.6 869.5L1435.5 715.9M1495.6 869.5L1691.5 712.5M1495.6 869.5L1464.6 770.6M1495.6 869.5L1690.3 765.2M1495.6 869.5L1439.7 869.5M1518.0 869.5L1436.6 715.4M1518.0 869.5L1466.4 769.9M1518.0 869.5L1520.7 771.1M1518.0 869.5L1661.2 766.5M1540.3 869.5L1522.3 716.6M1540.3 869.5L1692.4 713.5M1540.3 869.5L1467.8 769.0M1540.3 869.5L1576.8 770.4M1540.3 869.5L1720.3 765.6M1562.7 869.5L1523.7 716.4M1562.7 869.5L1381.3 765.5M1562.7 869.5L1691.4 766.9M1562.7 869.5L1529.1 869.5M1585.0 869.5L1496.7 715.2M1585.0 869.5L1693.8 714.7M1585.0 869.5L1498.3 768.4M1585.0 869.5L1554.1 770.6M1585.0 869.5L1721.1 766.7M1607.4 869.5L1410.2 712.5M1607.4 869.5L1499.2 767.6M1607.4 869.5L1721.7 767.4M1629.7 869.5L1469.2 713.3M1629.7 869.5L1411.6 764.8M1629.7 869.5L1557.3 769.0M1629.7 869.5L1573.8 869.5M1652.1 869.5L1410.8 711.7M1652.1 869.5L1697.0 716.3M1652.1 869.5L1470.9 765.5M1652.1 869.5L1723.5 769.0M1652.1 869.5L1752.0 767.9M1652.1 869.5L1685.7 869.5M1674.4 869.5L1528.6 713.7M1674.4 869.5L1500.6 765.7M1674.4 869.5L1530.0 766.4M1674.4 869.5L1724.9 769.9M1674.4 869.5L1708.0 869.5M1696.8 869.5L1381.6 710.6M1696.8 869.5L1500.9 765.2M1696.8 869.5L1726.7 770.6M1719.1 869.5L1587.9 714.1M1719.1 869.5L1382.3 763.3M1719.1 869.5L1560.1 766.1M1719.1 869.5L1728.9 771.0M1741.5 869.5L1500.4 711.7M1741.5 869.5L1617.5 714.3M1741.5 869.5L1441.9 763.7M1741.5 869.5L1731.1 771.0M1369.7 959.7L1400.2 716.6M1369.7 959.7L1371.6 771.1M1369.7 959.7L1631.5 766.6M1369.7 959.7L1422.5 878.8M1369.7 959.7L1574.8 873.8M1369.7 959.7L1708.4 872.3M1410.0 959.7L1401.9 716.7M1410.0 959.7L1458.5 770.8M1410.0 959.7L1488.0 877.6M1410.0 959.7L1509.5 876.6M1450.3 959.7L1432.5 771.1M1450.3 959.7L1632.7 768.0M1450.3 959.7L1490.6 879.4M1450.3 959.7L1554.0 876.4M1490.6 959.7L1434.6 770.6M1490.6 959.7L1413.8 877.6M1490.6 959.7L1535.0 879.2M1530.9 959.7L1578.6 716.5M1530.9 959.7L1549.7 771.0M1530.9 959.7L1499.7 879.8M1530.9 959.7L1643.2 876.1M1571.3 959.7L1379.5 767.9M1571.3 959.7L1481.4 877.0M1571.3 959.7L1709.7 875.3M1611.6 959.7L1409.6 767.6M1611.6 959.7L1753.2 768.9M1611.6 959.7L1460.6 874.9M1611.6 959.7L1689.2 877.6M1651.9 959.7L1669.5 716.7M1651.9 959.7L1555.8 769.9M1651.9 959.7L1725.9 770.3M1651.9 959.7L1416.6 873.3M1651.9 959.7L1632.4 880.3M1692.2 959.7L1614.7 770.3M1692.2 959.7L1671.5 771.0M1692.2 959.7L1483.5 873.7M1692.2 959.7L1549.9 875.2M1732.5 959.7L1470.2 766.6M1732.5 959.7L1758.3 771.0M1732.5 959.7L1461.5 872.9M1732.5 959.7L1616.4 876.0" fill="none" stroke="#000" stroke-opacity="0.42" stroke-width="0.9"/>
<path d="M1560.9 557.8C1590.9 545.0 1617.0 542.0 1616.0 561.0C1615.0 577.0 1586.9 575.0 1556.9 562.5" fill="none" stroke="#000" stroke-opacity="0.35" stroke-width="1.0"/><path d="M1556.9 559.8L1560.4 556.5L1561.8 559.8Z" fill="#000"/>
<path d="M1546.2 564.8L1543.5 569.5L1541.0 566.4ZM1395.5 705.6L1390.5 707.6L1390.5 703.6ZM1546.5 565.2L1544.3 570.2L1541.5 567.3ZM1377.8 705.6L1382.8 703.6L1382.8 707.6ZM1547.0 565.7L1545.4 570.8L1542.3 568.3ZM1377.8 705.6L1382.8 703.6L1382.8 707.6ZM1455.2 705.6L1450.2 707.6L1450.2 703.6ZM1419.1 566.8L1422.4 571.0L1418.6 572.2ZM1514.9 705.6L1509.9 707.6L1509.9 703.6ZM1420.1 566.4L1424.1 570.0L1420.6 571.8ZM1420.9 566.0L1425.4 568.9L1422.1 571.2ZM1544.8 705.6L1539.8 707.6L1539.8 703.6ZM1421.9 565.0L1426.9 566.9L1424.3 569.9ZM1604.5 705.6L1599.5 707.6L1599.5 703.6ZM1634.3 705.6L1629.3 707.6L1629.3 703.6ZM1422.2 564.7L1427.4 566.0L1425.0 569.3ZM1422.4 564.3L1427.7 565.4L1425.5 568.7ZM1683.4 566.8L1683.8 572.2L1680.0 571.0ZM1554.8 565.7L1559.5 568.3L1556.4 570.8ZM1646.5 705.6L1651.5 703.6L1651.5 707.6ZM1555.3 565.2L1560.3 567.3L1557.5 570.2ZM1646.5 705.6L1651.5 703.6L1651.5 707.6ZM1555.6 564.8L1560.8 566.4L1558.3 569.5ZM1706.2 705.6L1711.2 703.6L1711.2 707.6ZM1485.6 708.1L1481.9 712.0L1480.2 708.4ZM1545.0 707.4L1540.8 710.7L1539.6 706.9ZM1604.6 707.0L1600.2 710.0L1599.3 706.1ZM1694.1 706.6L1689.5 709.4L1688.9 705.4ZM1425.3 760.0L1420.3 762.0L1420.3 758.0ZM1401.6 711.7L1403.6 716.7L1399.6 716.7ZM1574.9 707.4L1570.7 710.7L1569.5 706.9ZM1724.0 706.6L1719.4 709.4L1718.7 705.4ZM1486.6 709.7L1484.3 714.6L1481.6 711.6ZM1664.3 707.0L1659.9 710.0L1659.0 706.1ZM1724.0 706.7L1719.4 709.6L1718.7 705.6ZM1376.9 708.8L1382.2 709.7L1380.1 713.1ZM1575.2 708.1L1571.4 712.0L1569.8 708.4ZM1664.4 707.1L1660.0 710.3L1659.0 706.5ZM1694.2 707.0L1689.8 710.0L1688.9 706.1ZM1485.0 760.0L1480.0 762.0L1480.0 758.0ZM1406.8 708.8L1412.1 709.7L1410.0 713.1ZM1546.3 709.7L1544.0 714.6L1541.3 711.6ZM1575.5 708.8L1572.3 713.1L1570.2 709.7ZM1664.4 707.4L1660.2 710.7L1659.1 706.9ZM1437.5 760.0L1442.5 758.0L1442.5 762.0ZM1494.1 710.9L1498.2 714.4L1494.7 716.3ZM1521.0 711.7L1523.0 716.7L1519.0 716.7ZM1634.9 708.1L1631.2 712.0L1629.5 708.4ZM1694.3 707.4L1690.1 710.7L1688.9 706.9ZM1724.1 707.1L1719.8 710.3L1718.8 706.5ZM1544.7 760.0L1539.7 762.0L1539.7 758.0ZM1723.8 760.0L1718.8 762.0L1718.8 758.0ZM1377.5 707.4L1382.9 706.9L1381.7 710.7ZM1523.9 710.9L1528.1 714.4L1524.6 716.3ZM1577.8 710.9L1577.1 716.3L1573.6 714.4ZM1694.4 707.7L1690.4 711.3L1689.0 707.5ZM1724.2 707.4L1720.0 710.7L1718.8 706.9ZM1723.8 760.0L1718.8 762.0L1718.8 758.0ZM1407.4 707.4L1412.8 706.9L1411.6 710.7ZM1580.7 711.7L1582.7 716.7L1578.7 716.7ZM1607.6 710.9L1607.0 716.3L1603.5 714.4ZM1694.6 708.1L1690.9 712.0L1689.2 708.4ZM1556.9 760.0L1561.9 758.0L1561.9 762.0ZM1604.4 760.0L1599.4 762.0L1599.4 758.0ZM1467.0 707.7L1472.4 707.5L1471.0 711.3ZM1496.7 708.1L1502.1 708.4L1500.4 712.0ZM1583.6 710.9L1587.8 714.4L1584.3 716.3ZM1665.8 709.7L1663.4 714.6L1660.7 711.6ZM1634.3 760.0L1629.3 762.0L1629.3 758.0ZM1664.1 760.0L1659.1 762.0L1659.1 758.0ZM1467.1 707.4L1472.5 706.9L1471.3 710.7ZM1526.5 708.1L1531.9 708.4L1530.3 712.0ZM1585.2 709.7L1590.3 711.6L1587.6 714.6ZM1695.6 709.7L1693.3 714.6L1690.6 711.6ZM1467.2 707.1L1472.5 706.5L1471.5 710.3ZM1556.4 708.1L1561.8 708.4L1560.1 712.0ZM1585.9 708.8L1591.2 709.7L1589.2 713.1ZM1725.5 709.7L1723.1 714.6L1720.4 711.6ZM1616.6 760.0L1621.6 758.0L1621.6 762.0ZM1646.5 760.0L1651.5 758.0L1651.5 762.0ZM1723.8 760.0L1718.8 762.0L1718.8 758.0ZM1467.2 707.0L1472.5 706.1L1471.7 710.0ZM1586.3 708.1L1591.6 708.4L1590.0 712.0ZM1644.9 709.7L1650.0 711.6L1647.3 714.6ZM1700.1 711.7L1702.1 716.7L1698.1 716.7ZM1646.5 760.0L1651.5 758.0L1651.5 762.0ZM1676.3 760.0L1681.3 758.0L1681.3 762.0ZM1723.8 760.0L1718.8 762.0L1718.8 758.0ZM1467.3 706.8L1472.6 705.8L1471.8 709.8ZM1497.1 707.0L1502.4 706.1L1501.5 710.0ZM1645.6 708.8L1650.9 709.7L1648.9 713.1ZM1674.8 709.7L1679.8 711.6L1677.1 714.6ZM1703.1 710.9L1707.2 714.4L1703.7 716.3ZM1676.3 760.0L1681.3 758.0L1681.3 762.0ZM1753.7 760.0L1748.7 762.0L1748.7 758.0ZM1437.4 706.6L1442.7 705.4L1442.0 709.4ZM1526.9 707.0L1532.3 706.1L1531.4 710.0ZM1675.5 708.8L1680.8 709.7L1678.7 713.1ZM1704.6 709.7L1709.7 711.6L1707.0 714.6ZM1429.0 711.2L1428.9 716.6L1425.2 715.0ZM1399.5 765.7L1399.6 771.1L1395.9 769.7ZM1724.1 761.7L1719.9 765.1L1718.7 761.2ZM1377.8 869.5L1372.8 871.5L1372.8 867.5ZM1429.7 711.5L1430.2 716.8L1426.4 715.7ZM1635.3 708.9L1632.1 713.3L1630.0 709.9ZM1457.7 765.0L1456.5 770.2L1453.2 767.9ZM1724.1 761.8L1720.0 765.3L1718.8 761.4ZM1422.5 869.5L1417.5 871.5L1417.5 867.5ZM1373.0 711.6L1375.9 716.0L1372.0 716.9ZM1724.6 708.4L1721.0 712.4L1719.2 708.8ZM1487.4 764.8L1485.9 770.0L1482.7 767.5ZM1575.5 763.2L1572.3 767.6L1570.2 764.2ZM1431.3 711.7L1433.2 716.7L1429.2 716.7ZM1374.5 765.4L1378.6 768.9L1375.0 770.8ZM1694.4 762.3L1690.5 766.0L1689.0 762.3ZM1724.2 762.1L1720.2 765.7L1718.8 761.9ZM1444.8 869.5L1439.8 871.5L1439.8 867.5ZM1460.9 711.7L1462.6 716.8L1458.6 716.6ZM1460.7 766.1L1462.2 771.2L1458.2 770.9ZM1546.7 764.5L1544.8 769.5L1541.9 766.9ZM1490.5 711.7L1491.9 716.9L1487.9 716.4ZM1433.6 765.7L1437.2 769.7L1433.5 771.1ZM1461.9 766.1L1464.5 770.8L1460.5 771.3ZM1754.1 762.2L1750.1 765.8L1748.7 762.1ZM1434.7 869.5L1439.7 867.5L1439.7 871.5ZM1433.6 711.3L1437.3 715.2L1433.6 716.7ZM1695.4 709.4L1692.7 714.1L1690.2 711.0ZM1463.1 765.8L1466.5 770.0L1462.7 771.2ZM1694.7 762.9L1691.3 767.0L1689.4 763.5ZM1434.7 869.5L1439.7 867.5L1439.7 871.5ZM1434.3 711.0L1438.4 714.5L1434.8 716.3ZM1464.1 765.4L1468.1 768.9L1464.6 770.8ZM1520.8 766.1L1522.7 771.2L1518.7 771.0ZM1665.3 763.6L1662.4 768.1L1660.1 764.9ZM1521.7 711.7L1524.3 716.4L1520.3 716.9ZM1695.9 710.0L1693.8 714.9L1691.0 712.2ZM1464.8 764.9L1469.4 767.8L1466.1 770.2ZM1578.6 765.7L1578.7 771.1L1575.0 769.7ZM1724.7 763.1L1721.3 767.3L1719.3 763.8ZM1522.5 711.5L1525.7 715.9L1521.8 716.9ZM1377.0 763.0L1382.3 763.8L1380.3 767.3ZM1695.3 763.8L1692.7 768.5L1690.2 765.4ZM1524.1 869.5L1529.1 867.5L1529.1 871.5ZM1494.2 710.9L1498.4 714.2L1494.9 716.2ZM1696.6 710.6L1695.4 715.8L1692.1 713.5ZM1495.1 764.6L1499.9 767.1L1496.8 769.7ZM1552.6 765.8L1556.0 770.0L1552.2 771.2ZM1725.1 763.7L1722.3 768.3L1719.9 765.1ZM1406.3 709.4L1411.5 711.0L1409.0 714.1ZM1495.6 764.2L1500.6 766.2L1497.8 769.1ZM1725.4 764.1L1723.0 768.9L1720.3 765.9ZM1465.6 709.9L1470.6 711.9L1467.8 714.8ZM1407.1 762.6L1412.4 763.0L1410.7 766.6ZM1554.4 764.9L1558.9 767.8L1555.7 770.2ZM1568.8 869.5L1573.8 867.5L1573.8 871.5ZM1406.7 708.9L1411.9 710.0L1409.8 713.4ZM1698.4 711.5L1698.9 716.8L1695.1 715.7ZM1466.6 763.0L1471.9 763.8L1469.9 767.3ZM1726.4 765.0L1725.1 770.2L1721.9 767.9ZM1755.5 764.3L1753.4 769.3L1750.6 766.5ZM1690.7 869.5L1685.7 871.5L1685.7 867.5ZM1525.2 710.1L1530.0 712.3L1527.1 715.1ZM1496.4 763.1L1501.7 764.0L1499.6 767.4ZM1525.9 763.5L1531.2 764.8L1528.8 768.1ZM1727.2 765.4L1726.7 770.8L1723.1 769.0ZM1713.0 869.5L1708.0 871.5L1708.0 867.5ZM1377.1 708.3L1382.5 708.8L1380.7 712.4ZM1496.5 762.9L1501.9 763.5L1500.0 767.0ZM1728.2 765.8L1728.6 771.2L1724.8 770.0ZM1584.6 710.3L1589.4 712.8L1586.3 715.4ZM1377.5 761.8L1382.9 761.4L1381.7 765.2ZM1555.9 763.3L1561.2 764.4L1559.0 767.7ZM1729.3 766.1L1730.8 771.2L1726.9 770.9ZM1496.2 708.9L1501.5 710.0L1499.3 713.4ZM1614.4 710.4L1619.1 713.0L1615.9 715.5ZM1437.2 762.0L1442.5 761.8L1441.2 765.6ZM1730.6 766.1L1733.1 770.8L1729.1 771.2ZM1400.8 711.7L1402.2 716.9L1398.2 716.4ZM1371.6 766.1L1373.6 771.1L1369.6 771.1ZM1635.5 763.6L1632.6 768.2L1630.3 765.0ZM1425.2 874.6L1424.2 879.9L1420.8 877.7ZM1579.4 871.9L1575.6 875.6L1574.0 871.9ZM1713.2 871.0L1708.9 874.2L1707.9 870.3ZM1401.8 711.7L1403.9 716.6L1399.9 716.8ZM1459.7 765.9L1460.4 771.2L1456.6 770.3ZM1491.4 873.9L1489.4 878.9L1486.5 876.2ZM1513.3 873.4L1510.7 878.2L1508.2 875.1ZM1432.0 766.1L1434.4 770.9L1430.5 771.2ZM1636.2 764.4L1634.2 769.4L1631.3 766.7ZM1492.9 875.0L1492.4 880.3L1488.8 878.5ZM1557.9 873.3L1555.3 878.0L1552.8 874.9ZM1433.1 765.8L1436.5 770.1L1432.6 771.2ZM1410.4 874.0L1415.3 876.2L1412.3 879.0ZM1537.4 874.8L1536.7 880.2L1533.2 878.3ZM1579.5 711.6L1580.5 716.9L1576.6 716.1ZM1550.2 766.1L1551.7 771.2L1547.7 770.8ZM1497.8 875.2L1501.5 879.1L1497.8 880.6ZM1647.2 873.1L1644.4 877.7L1642.0 874.5ZM1376.0 764.3L1381.0 766.4L1378.1 769.3ZM1477.8 873.6L1482.8 875.5L1480.1 878.5ZM1713.9 872.7L1710.7 877.0L1708.6 873.6ZM1406.0 764.2L1411.0 766.2L1408.2 769.1ZM1756.2 764.9L1754.8 770.1L1751.6 767.7ZM1456.2 872.5L1461.6 873.2L1459.6 876.7ZM1692.6 873.9L1690.6 878.9L1687.7 876.2ZM1669.8 711.7L1671.5 716.8L1667.5 716.5ZM1553.6 765.4L1557.6 769.0L1554.1 770.8ZM1727.7 765.7L1727.8 771.1L1724.0 769.6ZM1411.9 871.6L1417.3 871.4L1415.9 875.2ZM1631.2 875.4L1634.3 879.8L1630.4 880.8ZM1612.8 765.6L1616.6 769.5L1612.9 771.0ZM1670.9 766.1L1673.4 770.8L1669.5 771.3ZM1478.9 871.8L1484.3 871.9L1482.8 875.6ZM1545.6 872.6L1550.9 873.4L1548.8 876.9ZM1466.2 763.6L1471.4 765.0L1469.0 768.2ZM1759.0 766.0L1760.3 771.3L1756.3 770.7ZM1456.7 871.4L1462.1 871.0L1460.9 874.8ZM1612.3 873.1L1617.6 874.4L1615.2 877.6Z" fill="#000" stroke="none"/>
<g><circle cx="1417.3" cy="561.0" r="6.1" fill="#ff0000"/><circle cx="1550.9" cy="561.0" r="6.1" fill="#ff0000"/><circle cx="1685.2" cy="561.0" r="6.1" fill="#ff0000"/><circle cx="1371.7" cy="705.6" r="6.1" fill="#ff0000"/><circle cx="1401.6" cy="705.6" r="6.1" fill="#ff0000"/><circle cx="1431.4" cy="705.6" r="6.1" fill="#ff0000"/><circle cx="1461.3" cy="705.6" r="6.1" fill="#ff0000"/><circle cx="1491.1" cy="705.6" r="6.1" fill="#ff0000"/><circle cx="1521.0" cy="705.6" r="6.1" fill="#ff0000"/><circle cx="1550.8" cy="705.6" r="6.1" fill="#10e010"/><circle cx="1580.7" cy="705.6" r="6.1" fill="#ff0000"/><circle cx="1610.6" cy="705.6" r="6.1" fill="#ff0000"/><circle cx="1640.4" cy="705.6" r="6.1" fill="#ff0000"/><circle cx="1670.3" cy="705.6" r="6.1" fill="#ff0000"/><circle cx="1700.1" cy="705.6" r="6.1" fill="#ff0000"/><circle cx="1730.0" cy="705.6" r="6.1" fill="#ff0000"/><circle cx="1371.7" cy="760.0" r="6.1" fill="#ff0000"/><circle cx="1401.6" cy="760.0" r="6.1" fill="#ff0000"/><circle cx="1431.4" cy="760.0" r="6.1" fill="#ff0000"/><circle cx="1461.3" cy="760.0" r="6.1" fill="#ff0000"/><circle cx="1491.1" cy="760.0" r="6.1" fill="#ff0000"/><circle cx="1521.0" cy="760.0" r="6.1" fill="#ff0000"/><circle cx="1550.8" cy="760.0" r="6.1" fill="#ff0000"/><circle cx="1580.7" cy="760.0" r="6.1" fill="#ff0000"/><circle cx="1610.5" cy="760.0" r="6.1" fill="#ff0000"/><circle cx="1640.4" cy="760.0" r="6.1" fill="#ff0000"/><circle cx="1670.2" cy="760.0" r="6.1" fill="#ff0000"/><circle cx="1700.1" cy="760.0" r="6.1" fill="#ff0000"/><circle cx="1729.9" cy="760.0" r="6.1" fill="#ff0000"/><circle cx="1759.8" cy="760.0" r="6.1" fill="#ff0000"/><circle cx="1361.5" cy="869.5" r="6.1" fill="#ff0000"/><circle cx="1383.9" cy="869.5" r="6.1" fill="#ff0000"/><circle cx="1406.2" cy="869.5" r="6.1" fill="#ff0000"/><circle cx="1428.6" cy="869.5" r="6.1" fill="#ff0000"/><circle cx="1450.9" cy="869.5" r="6.1" fill="#ff0000"/><circle cx="1473.3" cy="869.5" r="6.1" fill="#ff0000"/><circle cx="1495.6" cy="869.5" r="6.1" fill="#ff0000"/><circle cx="1518.0" cy="869.5" r="6.1" fill="#ff0000"/><circle cx="1540.3" cy="869.5" r="6.1" fill="#ff0000"/><circle cx="1562.7" cy="869.5" r="6.1" fill="#ff0000"/><circle cx="1585.0" cy="869.5" r="6.1" fill="#ff0000"/><circle cx="1607.4" cy="869.5" r="6.1" fill="#ff0000"/><circle cx="1629.7" cy="869.5" r="6.1" fill="#ff0000"/><circle cx="1652.1" cy="869.5" r="6.1" fill="#ff0000"/><circle cx="1674.4" cy="869.5" r="6.1" fill="#ff0000"/><circle cx="1696.8" cy="869.5" r="6.1" fill="#ff0000"/><circle cx="1719.1" cy="869.5" r="6.1" fill="#ff0000"/><circle cx="1741.5" cy="869.5" r="6.1" fill="#ff0000"/><circle cx="1369.7" cy="959.7" r="6.1" fill="#ff0000"/><circle cx="1410.0" cy="959.7" r="6.1" fill="#ff0000"/><circle cx="1450.3" cy="959.7" r="6.1" fill="#ff0000"/><circle cx="1490.6" cy="959.7" r="6.1" fill="#ff0000"/><circle cx="1530.9" cy="959.7" r="6.1" fill="#ff0000"/><circle cx="1571.3" cy="959.7" r="6.1" fill="#ff0000"/><circle cx="1611.6" cy="959.7" r="6.1" fill="#ff0000"/><circle cx="1651.9" cy="959.7" r="6.1" fill="#ff0000"/><circle cx="1692.2" cy="959.7" r="6.1" fill="#ff0000"/><circle cx="1732.5" cy="959.7" r="6.1" fill="#ff0000"/></g>
<g font-family="Liberation Serif, serif" font-size="7.5" fill="#2a0f85" text-anchor="middle"><text x="1417.3" y="563.4">101</text><text x="1550.9" y="563.4">98</text><text x="1685.2" y="563.4">99</text><text x="1371.7" y="708.0">94</text><text x="1401.6" y="708.0">88</text><text x="1431.4" y="708.0">78</text><text x="1461.3" y="708.0">67</text><text x="1491.1" y="708.0">55</text><text x="1521.0" y="708.0">41</text><text x="1550.8" y="708.0">27</text><text x="1580.7" y="708.0">34</text><text x="1610.6" y="708.0">50</text><text x="1640.4" y="708.0">58</text><text x="1670.3" y="708.0">72</text><text x="1700.1" y="708.0">80</text><text x="1730.0" y="708.0">90</text><text x="1371.7" y="762.4">93</text><text x="1401.6" y="762.4">85</text><text x="1431.4" y="762.4">73</text><text x="1461.3" y="762.4">63</text><text x="1491.1" y="762.4">53</text><text x="1521.0" y="762.4">40</text><text x="1550.8" y="762.4">15</text><text x="1580.7" y="762.4">29</text><text x="1610.5" y="762.4">43</text><text x="1640.4" y="762.4">56</text><text x="1670.2" y="762.4">69</text><text x="1700.1" y="762.4">79</text><text x="1729.9" y="762.4">89</text><text x="1759.8" y="762.4">96</text><text x="1361.5" y="871.9">100</text><text x="1383.9" y="871.9">76</text><text x="1406.2" y="871.9">74</text><text x="1428.6" y="871.9">68</text><text x="1450.9" y="871.9">65</text><text x="1473.3" y="871.9">39</text><text x="1495.6" y="871.9">28</text><text x="1518.0" y="871.9">19</text><text x="1540.3" y="871.9">14</text><text x="1562.7" y="871.9">16</text><text x="1585.0" y="871.9">25</text><text x="1607.4" y="871.9">33</text><text x="1629.7" y="871.9">35</text><text x="1652.1" y="871.9">51</text><text x="1674.4" y="871.9">66</text><text x="1696.8" y="871.9">70</text><text x="1719.1" y="871.9">75</text><text x="1741.5" y="871.9">82</text><text x="1369.7" y="962.1">46</text><text x="1410.0" y="962.1">12</text><text x="1450.3" y="962.1">5</text><text x="1490.6" y="962.1">3</text><text x="1530.9" y="962.1">1</text><text x="1571.3" y="962.1">2</text><text x="1611.6" y="962.1">4</text><text x="1651.9" y="962.1">6</text><text x="1692.2" y="962.1">11</text><text x="1732.5" y="962.1">13</text></g>
<g fill="#000">
<text x="84.34" y="363.00" font-family="Liberation Sans, sans-serif" font-weight="400" font-size="29.5" textLength="64.15" lengthAdjust="spacingAndGlyphs">Time</text>
<text x="405.25" y="336.70" font-family="Liberation Sans, sans-serif" font-weight="400" font-size="27.5" textLength="128.68" lengthAdjust="spacingAndGlyphs">ASSEMBLY</text>
<text x="1106.55" y="336.70" font-family="Liberation Sans, sans-serif" font-weight="400" font-size="27.5" textLength="226.58" lengthAdjust="spacingAndGlyphs">REORGANIZATION</text>
<text x="747.36" y="408.20" font-family="Liberation Sans, sans-serif" font-weight="400" font-size="27.2" textLength="211.89" lengthAdjust="spacingAndGlyphs">INVASION EVENT</text>
<text x="54.30" y="480.00" font-family="Liberation Sans, sans-serif" font-weight="400" font-size="29.0" textLength="252.12" lengthAdjust="spacingAndGlyphs">Network generated</text>
<text x="38.64" y="516.80" font-family="Liberation Sans, sans-serif" font-weight="400" font-size="29.0" textLength="285.64" lengthAdjust="spacingAndGlyphs">using the niche model</text>
<text x="387.59" y="460.70" font-family="Liberation Sans, sans-serif" font-weight="400" font-size="28.0" textLength="301.17" lengthAdjust="spacingAndGlyphs">Bio-energetic dynamics</text>
<text x="1068.38" y="460.70" font-family="Liberation Sans, sans-serif" font-weight="400" font-size="28.0" textLength="301.68" lengthAdjust="spacingAndGlyphs">Bio-energetic dynamics</text>
<text x="765.99" y="485.40" font-family="Liberation Sans, sans-serif" font-weight="400" font-size="28.0" textLength="160.46" lengthAdjust="spacingAndGlyphs">Pre-invasion</text>
<text x="792.38" y="522.20" font-family="Liberation Sans, sans-serif" font-weight="400" font-size="28.0" textLength="108.17" lengthAdjust="spacingAndGlyphs">network</text>
<text x="1495.58" y="480.00" font-family="Liberation Sans, sans-serif" font-weight="400" font-size="29.0" textLength="105.33" lengthAdjust="spacingAndGlyphs">Invaded</text>
<text x="1494.18" y="516.80" font-family="Liberation Sans, sans-serif" font-weight="400" font-size="29.0" textLength="107.67" lengthAdjust="spacingAndGlyphs">network</text>
<text x="249.60" y="792.20" font-family="Liberation Sans, sans-serif" font-weight="400" font-size="27.5" textLength="112.43" lengthAdjust="spacingAndGlyphs">Network</text>
<text x="237.39" y="828.80" font-family="Liberation Sans, sans-serif" font-weight="400" font-size="27.5" textLength="133.75" lengthAdjust="spacingAndGlyphs">properties</text>
<text x="432.19" y="659.10" font-family="Liberation Sans, sans-serif" font-weight="400" font-size="26.5" textLength="15.96" lengthAdjust="spacingAndGlyphs">C</text>
<text x="431.14" y="691.70" font-family="Liberation Sans, sans-serif" font-weight="400" font-size="26.5" textLength="39.63" lengthAdjust="spacingAndGlyphs">L/S</text>
<text x="432.23" y="726.80" font-family="Liberation Sans, sans-serif" font-weight="400" font-size="26.5" textLength="68.84" lengthAdjust="spacingAndGlyphs">MFCL</text>
<text x="431.95" y="761.70" font-family="Liberation Sans, sans-serif" font-weight="400" font-size="26.5" textLength="83.42" lengthAdjust="spacingAndGlyphs">ChnNo</text>
<text x="432.03" y="797.50" font-family="Liberation Sans, sans-serif" font-weight="400" font-size="26.5" textLength="82.75" lengthAdjust="spacingAndGlyphs">GenSD</text>
<text x="433.44" y="833.70" font-family="Liberation Sans, sans-serif" font-weight="400" font-size="26.5" textLength="71.72" lengthAdjust="spacingAndGlyphs">VulSD</text>
<text x="432.67" y="866.70" font-family="Liberation Sans, sans-serif" font-weight="400" font-size="26.5" textLength="38.34" lengthAdjust="spacingAndGlyphs">%B</text>
<text x="431.25" y="899.70" font-family="Liberation Sans, sans-serif" font-weight="400" font-size="26.5" textLength="29.35" lengthAdjust="spacingAndGlyphs">%I</text>
<text x="432.68" y="934.10" font-family="Liberation Sans, sans-serif" font-weight="400" font-size="26.5" textLength="36.56" lengthAdjust="spacingAndGlyphs">%T</text>
<text x="431.58" y="967.10" font-family="Liberation Sans, sans-serif" font-weight="400" font-size="26.5" textLength="134.80" lengthAdjust="spacingAndGlyphs">modularity</text>
<text x="351.28" y="1140.70" font-family="Liberation Sans, sans-serif" font-weight="400" font-size="24.0" textLength="105.19" lengthAdjust="spacingAndGlyphs">Body size</text>
<text x="614.92" y="1110.70" font-family="Liberation Sans, sans-serif" font-weight="400" font-size="24.0" textLength="37.97" lengthAdjust="spacingAndGlyphs">Hill</text>
<text x="578.93" y="1141.60" font-family="Liberation Sans, sans-serif" font-weight="400" font-size="24.0" textLength="105.54" lengthAdjust="spacingAndGlyphs">exponent</text>
<text x="726.62" y="1141.20" font-family="Liberation Sans, sans-serif" font-weight="400" font-size="24.0" textLength="141.37" lengthAdjust="spacingAndGlyphs">Vulnerability</text>
<text x="962.27" y="1141.00" font-family="Liberation Sans, sans-serif" font-weight="400" font-size="24.0" textLength="93.40" lengthAdjust="spacingAndGlyphs">Biomass</text>
<text x="1233.66" y="1141.00" font-family="Liberation Sans, sans-serif" font-weight="400" font-size="24.0" textLength="116.19" lengthAdjust="spacingAndGlyphs">Generality</text>
<text x="173.29" y="288.00" font-family="Liberation Sans, sans-serif" font-weight="400" font-size="24.5" textLength="13.78" lengthAdjust="spacingAndGlyphs">0</text>
<text x="838.06" y="288.20" font-family="Liberation Sans, sans-serif" font-weight="400" font-size="24.5" textLength="53.43" lengthAdjust="spacingAndGlyphs">2000</text>
<text x="1517.51" y="288.20" font-family="Liberation Sans, sans-serif" font-weight="400" font-size="24.5" textLength="53.58" lengthAdjust="spacingAndGlyphs">4000</text>
<text x="155.45" y="583.70" font-family="Liberation Sans, sans-serif" font-weight="700" font-size="34.0" textLength="25.06" lengthAdjust="spacingAndGlyphs">A</text>
<text x="496.99" y="550.90" font-family="Liberation Sans, sans-serif" font-weight="700" font-size="34.0" textLength="24.36" lengthAdjust="spacingAndGlyphs">B</text>
<text x="844.78" y="445.00" font-family="Liberation Sans, sans-serif" font-weight="700" font-size="34.0" textLength="24.26" lengthAdjust="spacingAndGlyphs">C</text>
<text x="1212.56" y="553.50" font-family="Liberation Sans, sans-serif" font-weight="700" font-size="34.0" textLength="25.69" lengthAdjust="spacingAndGlyphs">D</text>
<text x="1650.96" y="506.90" font-family="Liberation Sans, sans-serif" font-weight="700" font-size="34.0" textLength="21.72" lengthAdjust="spacingAndGlyphs">E</text>
<text x="155.20" y="807.80" font-family="Liberation Sans, sans-serif" font-weight="700" font-size="34.0" textLength="20.45" lengthAdjust="spacingAndGlyphs">F</text>
<text x="152.86" y="1182.70" font-family="Liberation Sans, sans-serif" font-weight="700" font-size="34.0" textLength="26.56" lengthAdjust="spacingAndGlyphs">G</text>
<text x="388.95" y="1241.90" font-family="Liberation Sans, sans-serif" font-weight="700" font-size="33.0" textLength="44.55" lengthAdjust="spacingAndGlyphs">G.I</text>
<text x="605.76" y="1241.90" font-family="Liberation Sans, sans-serif" font-weight="700" font-size="33.0" textLength="53.42" lengthAdjust="spacingAndGlyphs">G.II</text>
<text x="772.85" y="1241.90" font-family="Liberation Sans, sans-serif" font-weight="700" font-size="33.0" textLength="63.26" lengthAdjust="spacingAndGlyphs">G.III</text>
<text x="972.02" y="1241.90" font-family="Liberation Sans, sans-serif" font-weight="700" font-size="33.0" textLength="63.56" lengthAdjust="spacingAndGlyphs">G.IV</text>
<text x="1266.03" y="1241.90" font-family="Liberation Sans, sans-serif" font-weight="700" font-size="33.0" textLength="54.35" lengthAdjust="spacingAndGlyphs">G.V</text>
<text x="257.05" y="1201.00" font-family="Liberation Serif, sans-serif" font-weight="400" font-size="25.0" textLength="34.99" lengthAdjust="spacingAndGlyphs">-10</text>
<text x="306.10" y="1201.00" font-family="Liberation Serif, sans-serif" font-weight="400" font-size="25.0" textLength="20.90" lengthAdjust="spacingAndGlyphs">-5</text>
<text x="350.76" y="1201.00" font-family="Liberation Serif, sans-serif" font-weight="400" font-size="25.0" textLength="21.61" lengthAdjust="spacingAndGlyphs">-2</text>
<text x="404.62" y="1201.00" font-family="Liberation Serif, sans-serif" font-weight="700" font-size="25.0" textLength="14.76" lengthAdjust="spacingAndGlyphs">0</text>
<text x="449.27" y="1201.00" font-family="Liberation Serif, sans-serif" font-weight="400" font-size="25.0" textLength="13.12" lengthAdjust="spacingAndGlyphs">2</text>
<text x="492.70" y="1201.00" font-family="Liberation Serif, sans-serif" font-weight="400" font-size="25.0" textLength="15.87" lengthAdjust="spacingAndGlyphs">5</text>
<text x="530.43" y="1201.00" font-family="Liberation Serif, sans-serif" font-weight="400" font-size="25.0" textLength="28.51" lengthAdjust="spacingAndGlyphs">10</text>
<text x="579.95" y="1201.00" font-family="Liberation Serif, sans-serif" font-weight="400" font-size="25.0" textLength="14.72" lengthAdjust="spacingAndGlyphs">1</text>
<text x="614.92" y="1201.00" font-family="Liberation Serif, sans-serif" font-weight="700" font-size="25.0" textLength="35.62" lengthAdjust="spacingAndGlyphs">1.5</text>
<text x="670.46" y="1201.00" font-family="Liberation Serif, sans-serif" font-weight="400" font-size="25.0" textLength="15.38" lengthAdjust="spacingAndGlyphs">2</text>
<text x="709.65" y="1201.00" font-family="Liberation Serif, sans-serif" font-weight="400" font-size="25.0" textLength="41.50" lengthAdjust="spacingAndGlyphs">-.75</text>
<text x="763.01" y="1201.00" font-family="Liberation Serif, sans-serif" font-weight="400" font-size="25.0" textLength="26.79" lengthAdjust="spacingAndGlyphs">-.5</text>
<text x="800.88" y="1201.00" font-family="Liberation Serif, sans-serif" font-weight="400" font-size="25.0" textLength="40.35" lengthAdjust="spacingAndGlyphs">-.25</text>
<text x="862.87" y="1201.00" font-family="Liberation Serif, sans-serif" font-weight="700" font-size="25.0" textLength="14.17" lengthAdjust="spacingAndGlyphs">0</text>
<text x="903.28" y="1201.00" font-family="Liberation Serif, sans-serif" font-weight="400" font-size="25.0" textLength="31.83" lengthAdjust="spacingAndGlyphs">0.1</text>
<text x="947.80" y="1201.00" font-family="Liberation Serif, sans-serif" font-weight="700" font-size="25.0" textLength="34.29" lengthAdjust="spacingAndGlyphs">0.2</text>
<text x="994.05" y="1201.00" font-family="Liberation Serif, sans-serif" font-weight="400" font-size="25.0" textLength="32.81" lengthAdjust="spacingAndGlyphs">0.3</text>
<text x="1039.09" y="1201.00" font-family="Liberation Serif, sans-serif" font-weight="400" font-size="25.0" textLength="31.53" lengthAdjust="spacingAndGlyphs">0.4</text>
<text x="1083.36" y="1201.00" font-family="Liberation Serif, sans-serif" font-weight="400" font-size="25.0" textLength="32.39" lengthAdjust="spacingAndGlyphs">0.5</text>
<text x="1135.49" y="1201.00" font-family="Liberation Serif, sans-serif" font-weight="400" font-size="25.0" textLength="39.82" lengthAdjust="spacingAndGlyphs">-.75</text>
<text x="1187.71" y="1201.00" font-family="Liberation Serif, sans-serif" font-weight="400" font-size="25.0" textLength="26.68" lengthAdjust="spacingAndGlyphs">-.5</text>
<text x="1226.78" y="1201.00" font-family="Liberation Serif, sans-serif" font-weight="400" font-size="25.0" textLength="40.35" lengthAdjust="spacingAndGlyphs">-.25</text>
<text x="1288.97" y="1201.00" font-family="Liberation Serif, sans-serif" font-weight="700" font-size="25.0" textLength="14.17" lengthAdjust="spacingAndGlyphs">0</text>
<text x="1316.37" y="1201.00" font-family="Liberation Serif, sans-serif" font-weight="400" font-size="25.0" textLength="45.07" lengthAdjust="spacingAndGlyphs">0.25</text>
<text x="1370.56" y="1201.00" font-family="Liberation Serif, sans-serif" font-weight="400" font-size="25.0" textLength="32.39" lengthAdjust="spacingAndGlyphs">0.5</text>
<text x="1411.16" y="1201.00" font-family="Liberation Serif, sans-serif" font-weight="400" font-size="25.0" textLength="45.60" lengthAdjust="spacingAndGlyphs">0.75</text>
<text x="0" y="0" transform="translate(77.3 240.20) rotate(-90)" text-anchor="middle" font-family="Liberation Sans, sans-serif" font-size="23.3">0</text>
<text x="0" y="0" transform="translate(77.3 180.78) rotate(-90)" text-anchor="middle" font-family="Liberation Sans, sans-serif" font-size="23.3">1</text>
<text x="0" y="0" transform="translate(77.3 121.36) rotate(-90)" text-anchor="middle" font-family="Liberation Sans, sans-serif" font-size="23.3">2</text>
<text x="0" y="0" transform="translate(77.3 61.94) rotate(-90)" text-anchor="middle" font-family="Liberation Sans, sans-serif" font-size="23.3">3</text>
<text x="0" y="0" transform="translate(23.4 232.4) rotate(-90)" font-family="Liberation Sans, sans-serif" font-size="24.5" textLength="171" lengthAdjust="spacingAndGlyphs">Species biomass</text>
</g>
</svg></body></html>
